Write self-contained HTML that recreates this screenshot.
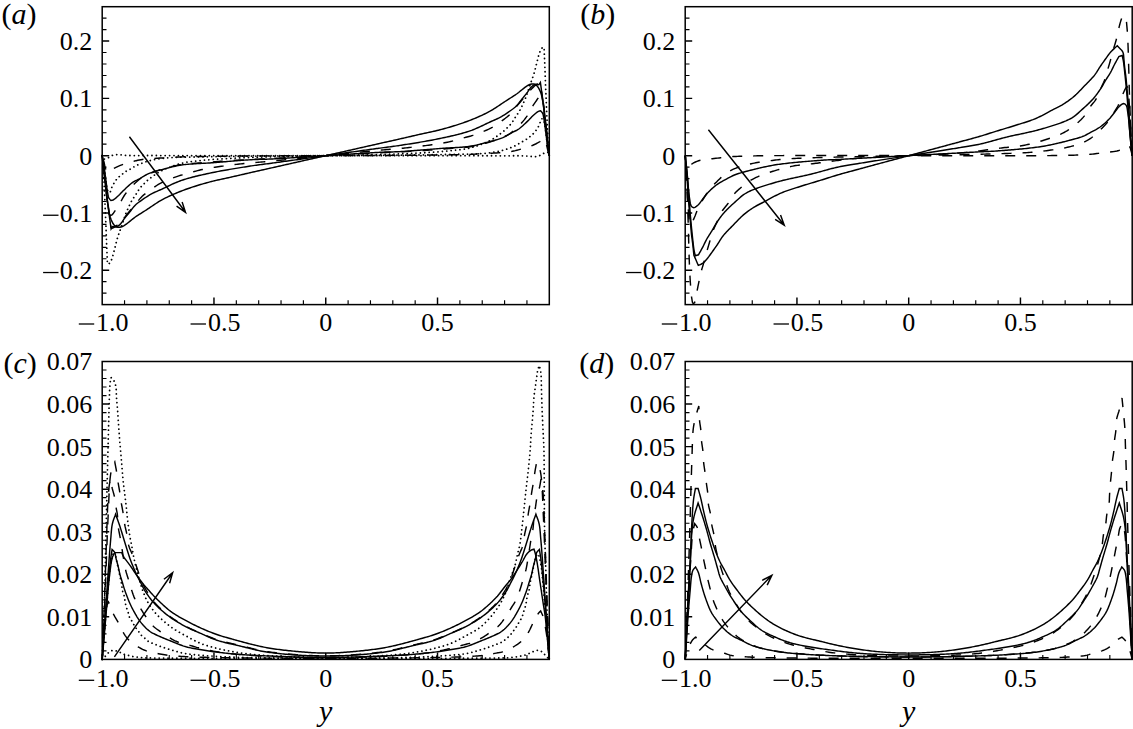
<!DOCTYPE html>
<html><head><meta charset="utf-8"><style>
html,body{margin:0;padding:0;background:#fff;}
svg{display:block;}
.t{font-family:"Liberation Serif",serif;font-size:26px;fill:#000;}
.pl{font-family:"Liberation Serif",serif;font-size:30px;fill:#000;}
.yl{font-family:"Liberation Serif",serif;font-size:30px;font-style:italic;fill:#000;}
</style></head><body>
<svg width="1133" height="729" viewBox="0 0 1133 729">
<path d="M124.55 304.60V300.30M146.91 304.60V300.30M169.26 304.60V300.30M191.62 304.60V300.30M236.33 304.60V300.30M258.69 304.60V300.30M281.04 304.60V300.30M303.39 304.60V300.30M348.11 304.60V300.30M370.46 304.60V300.30M392.81 304.60V300.30M415.17 304.60V300.30M459.88 304.60V300.30M482.23 304.60V300.30M504.59 304.60V300.30M526.94 304.60V300.30M102.20 293.14H106.50M102.20 281.68H106.50M102.20 258.77H106.50M102.20 247.31H106.50M102.20 235.85H106.50M102.20 224.40H106.50M102.20 201.48H106.50M102.20 190.02H106.50M102.20 178.57H106.50M102.20 167.11H106.50M102.20 144.19H106.50M102.20 132.73H106.50M102.20 121.28H106.50M102.20 109.82H106.50M102.20 86.90H106.50M102.20 75.45H106.50M102.20 63.99H106.50M102.20 52.53H106.50M102.20 29.62H106.50M102.20 18.16H106.50" stroke="#000" stroke-width="1.15" fill="none"/>
<path d="M213.97 304.60V297.60M325.75 304.60V297.60M437.52 304.60V297.60M102.20 270.23H109.20M102.20 212.94H109.20M102.20 155.65H109.20M102.20 98.36H109.20M102.20 41.07H109.20" stroke="#000" stroke-width="1.45" fill="none"/>
<rect x="102.20" y="6.70" width="447.10" height="297.90" stroke="#000" stroke-width="1.5" fill="none"/>
<text x="92.20" y="49.97" text-anchor="end" class="t">0.2</text>
<text x="92.20" y="107.26" text-anchor="end" class="t">0.1</text>
<text x="92.20" y="164.55" text-anchor="end" class="t">0</text>
<text x="92.20" y="221.84" text-anchor="end" class="t">0.1</text>
<path d="M43.10 215.24H58.50" stroke="#000" stroke-width="1.3"/>
<text x="92.20" y="279.13" text-anchor="end" class="t">0.2</text>
<path d="M43.10 272.53H58.50" stroke="#000" stroke-width="1.3"/>
<text x="96.10" y="330.60" class="t">1.0</text>
<path d="M78.80 324.00H94.20" stroke="#000" stroke-width="1.3"/>
<text x="207.88" y="330.60" class="t">0.5</text>
<path d="M190.57 324.00H205.97" stroke="#000" stroke-width="1.3"/>
<text x="325.75" y="330.60" text-anchor="middle" class="t">0</text>
<text x="437.52" y="330.60" text-anchor="middle" class="t">0.5</text>
<path d="M707.55 304.60V300.30M729.90 304.60V300.30M752.25 304.60V300.30M774.60 304.60V300.30M819.30 304.60V300.30M841.65 304.60V300.30M864.00 304.60V300.30M886.35 304.60V300.30M931.05 304.60V300.30M953.40 304.60V300.30M975.75 304.60V300.30M998.10 304.60V300.30M1042.80 304.60V300.30M1065.15 304.60V300.30M1087.50 304.60V300.30M1109.85 304.60V300.30M685.20 293.14H689.50M685.20 281.68H689.50M685.20 258.77H689.50M685.20 247.31H689.50M685.20 235.85H689.50M685.20 224.40H689.50M685.20 201.48H689.50M685.20 190.02H689.50M685.20 178.57H689.50M685.20 167.11H689.50M685.20 144.19H689.50M685.20 132.73H689.50M685.20 121.28H689.50M685.20 109.82H689.50M685.20 86.90H689.50M685.20 75.45H689.50M685.20 63.99H689.50M685.20 52.53H689.50M685.20 29.62H689.50M685.20 18.16H689.50" stroke="#000" stroke-width="1.15" fill="none"/>
<path d="M796.95 304.60V297.60M908.70 304.60V297.60M1020.45 304.60V297.60M685.20 270.23H692.20M685.20 212.94H692.20M685.20 155.65H692.20M685.20 98.36H692.20M685.20 41.07H692.20" stroke="#000" stroke-width="1.45" fill="none"/>
<rect x="685.20" y="6.70" width="447.00" height="297.90" stroke="#000" stroke-width="1.5" fill="none"/>
<text x="675.20" y="49.97" text-anchor="end" class="t">0.2</text>
<text x="675.20" y="107.26" text-anchor="end" class="t">0.1</text>
<text x="675.20" y="164.55" text-anchor="end" class="t">0</text>
<text x="675.20" y="221.84" text-anchor="end" class="t">0.1</text>
<path d="M626.10 215.24H641.50" stroke="#000" stroke-width="1.3"/>
<text x="675.20" y="279.13" text-anchor="end" class="t">0.2</text>
<path d="M626.10 272.53H641.50" stroke="#000" stroke-width="1.3"/>
<text x="679.10" y="330.60" class="t">1.0</text>
<path d="M661.80 324.00H677.20" stroke="#000" stroke-width="1.3"/>
<text x="790.85" y="330.60" class="t">0.5</text>
<path d="M773.55 324.00H788.95" stroke="#000" stroke-width="1.3"/>
<text x="908.70" y="330.60" text-anchor="middle" class="t">0</text>
<text x="1020.45" y="330.60" text-anchor="middle" class="t">0.5</text>
<path d="M124.55 659.40V655.10M146.91 659.40V655.10M169.26 659.40V655.10M191.62 659.40V655.10M236.33 659.40V655.10M258.69 659.40V655.10M281.04 659.40V655.10M303.39 659.40V655.10M348.11 659.40V655.10M370.46 659.40V655.10M392.81 659.40V655.10M415.17 659.40V655.10M459.88 659.40V655.10M482.23 659.40V655.10M504.59 659.40V655.10M526.94 659.40V655.10M102.20 650.89H106.50M102.20 642.38H106.50M102.20 633.87H106.50M102.20 625.35H106.50M102.20 608.33H106.50M102.20 599.82H106.50M102.20 591.31H106.50M102.20 582.80H106.50M102.20 565.77H106.50M102.20 557.26H106.50M102.20 548.75H106.50M102.20 540.24H106.50M102.20 523.22H106.50M102.20 514.71H106.50M102.20 506.19H106.50M102.20 497.68H106.50M102.20 480.66H106.50M102.20 472.15H106.50M102.20 463.64H106.50M102.20 455.13H106.50M102.20 438.10H106.50M102.20 429.59H106.50M102.20 421.08H106.50M102.20 412.57H106.50M102.20 395.55H106.50M102.20 387.03H106.50M102.20 378.52H106.50M102.20 370.01H106.50" stroke="#000" stroke-width="1.15" fill="none"/>
<path d="M213.97 659.40V652.40M325.75 659.40V652.40M437.52 659.40V652.40M102.20 616.84H109.20M102.20 574.29H109.20M102.20 531.73H109.20M102.20 489.17H109.20M102.20 446.61H109.20M102.20 404.06H109.20" stroke="#000" stroke-width="1.45" fill="none"/>
<rect x="102.20" y="361.50" width="447.10" height="297.90" stroke="#000" stroke-width="1.5" fill="none"/>
<text x="92.20" y="668.30" text-anchor="end" class="t">0</text>
<text x="92.20" y="625.74" text-anchor="end" class="t">0.01</text>
<text x="92.20" y="583.19" text-anchor="end" class="t">0.02</text>
<text x="92.20" y="540.63" text-anchor="end" class="t">0.03</text>
<text x="92.20" y="498.07" text-anchor="end" class="t">0.04</text>
<text x="92.20" y="455.51" text-anchor="end" class="t">0.05</text>
<text x="92.20" y="412.96" text-anchor="end" class="t">0.06</text>
<text x="92.20" y="370.40" text-anchor="end" class="t">0.07</text>
<text x="96.10" y="686.90" class="t">1.0</text>
<path d="M78.80 680.30H94.20" stroke="#000" stroke-width="1.3"/>
<text x="207.88" y="686.90" class="t">0.5</text>
<path d="M190.57 680.30H205.97" stroke="#000" stroke-width="1.3"/>
<text x="325.75" y="686.90" text-anchor="middle" class="t">0</text>
<text x="437.52" y="686.90" text-anchor="middle" class="t">0.5</text>
<path d="M707.55 659.40V655.10M729.90 659.40V655.10M752.25 659.40V655.10M774.60 659.40V655.10M819.30 659.40V655.10M841.65 659.40V655.10M864.00 659.40V655.10M886.35 659.40V655.10M931.05 659.40V655.10M953.40 659.40V655.10M975.75 659.40V655.10M998.10 659.40V655.10M1042.80 659.40V655.10M1065.15 659.40V655.10M1087.50 659.40V655.10M1109.85 659.40V655.10M685.20 650.89H689.50M685.20 642.38H689.50M685.20 633.87H689.50M685.20 625.35H689.50M685.20 608.33H689.50M685.20 599.82H689.50M685.20 591.31H689.50M685.20 582.80H689.50M685.20 565.77H689.50M685.20 557.26H689.50M685.20 548.75H689.50M685.20 540.24H689.50M685.20 523.22H689.50M685.20 514.71H689.50M685.20 506.19H689.50M685.20 497.68H689.50M685.20 480.66H689.50M685.20 472.15H689.50M685.20 463.64H689.50M685.20 455.13H689.50M685.20 438.10H689.50M685.20 429.59H689.50M685.20 421.08H689.50M685.20 412.57H689.50M685.20 395.55H689.50M685.20 387.03H689.50M685.20 378.52H689.50M685.20 370.01H689.50" stroke="#000" stroke-width="1.15" fill="none"/>
<path d="M796.95 659.40V652.40M908.70 659.40V652.40M1020.45 659.40V652.40M685.20 616.84H692.20M685.20 574.29H692.20M685.20 531.73H692.20M685.20 489.17H692.20M685.20 446.61H692.20M685.20 404.06H692.20" stroke="#000" stroke-width="1.45" fill="none"/>
<rect x="685.20" y="361.50" width="447.00" height="297.90" stroke="#000" stroke-width="1.5" fill="none"/>
<text x="675.20" y="668.30" text-anchor="end" class="t">0</text>
<text x="675.20" y="625.74" text-anchor="end" class="t">0.01</text>
<text x="675.20" y="583.19" text-anchor="end" class="t">0.02</text>
<text x="675.20" y="540.63" text-anchor="end" class="t">0.03</text>
<text x="675.20" y="498.07" text-anchor="end" class="t">0.04</text>
<text x="675.20" y="455.51" text-anchor="end" class="t">0.05</text>
<text x="675.20" y="412.96" text-anchor="end" class="t">0.06</text>
<text x="675.20" y="370.40" text-anchor="end" class="t">0.07</text>
<text x="679.10" y="686.90" class="t">1.0</text>
<path d="M661.80 680.30H677.20" stroke="#000" stroke-width="1.3"/>
<text x="790.85" y="686.90" class="t">0.5</text>
<path d="M773.55 680.30H788.95" stroke="#000" stroke-width="1.3"/>
<text x="908.70" y="686.90" text-anchor="middle" class="t">0</text>
<text x="1020.45" y="686.90" text-anchor="middle" class="t">0.5</text>
<text x="1.5" y="23.6" class="pl">(<tspan font-style="italic">a</tspan>)</text>
<text x="580.2" y="23.7" class="pl">(<tspan font-style="italic">b</tspan>)</text>
<text x="3.4" y="372.5" class="pl">(<tspan font-style="italic">c</tspan>)</text>
<text x="579.3" y="372.7" class="pl">(<tspan font-style="italic">d</tspan>)</text>
<text x="325.75" y="720.8" text-anchor="middle" class="yl">y</text>
<text x="908.70" y="720.8" text-anchor="middle" class="yl">y</text>
<path d="M102.20 155.65 L102.39 157.16 L102.57 158.66 L102.76 160.16 L102.94 161.66 L103.13 163.18 L103.32 164.72 L103.50 166.30 L103.68 167.86 L103.85 169.45 L104.02 171.06 L104.19 172.69 L104.37 174.33 L104.54 175.99 L104.72 177.64 L104.90 179.30 L105.07 180.84 L105.25 182.40 L105.42 183.97 L105.60 185.55 L105.78 187.12 L105.96 188.69 L106.14 190.25 L106.32 191.79 L106.50 193.30 L106.69 194.86 L106.88 196.41 L107.07 197.94 L107.26 199.47 L107.45 200.97 L107.64 202.44 L107.82 203.89 L108.00 205.30 L108.19 206.88 L108.38 208.42 L108.56 209.91 L108.74 211.39 L108.91 212.85 L109.10 214.30 L109.32 215.94 L109.54 217.57 L109.77 219.18 L109.99 220.76 L110.20 222.30 L110.43 223.99 L110.66 225.64 L110.88 227.26 L111.10 228.90 L111.90 227.70 L112.70 226.50 L114.39 226.82 L116.10 227.10 L117.99 227.33 L119.90 227.30 L121.78 226.75 L123.70 225.80 L125.11 224.93 L126.59 223.85 L128.08 222.70 L129.50 221.60 L130.66 220.67 L131.73 219.76 L132.86 218.82 L134.20 217.80 L135.29 217.03 L136.50 216.21 L137.81 215.35 L139.18 214.46 L140.62 213.55 L142.08 212.62 L143.57 211.68 L145.05 210.74 L146.50 209.80 L147.81 208.94 L149.13 208.06 L150.47 207.16 L151.82 206.24 L153.18 205.32 L154.56 204.40 L155.94 203.49 L157.33 202.60 L158.72 201.73 L160.11 200.90 L161.50 200.10 L162.84 199.37 L164.19 198.66 L165.55 197.97 L166.90 197.30 L168.27 196.64 L169.63 196.01 L171.00 195.39 L172.37 194.77 L173.75 194.18 L175.12 193.58 L176.50 193.00 L177.98 192.38 L179.45 191.79 L180.91 191.21 L182.37 190.64 L183.84 190.09 L185.32 189.55 L186.82 189.01 L188.34 188.47 L189.90 187.94 L191.50 187.40 L192.94 186.93 L194.41 186.45 L195.90 185.97 L197.42 185.50 L198.96 185.03 L200.52 184.56 L202.08 184.10 L203.66 183.65 L205.23 183.20 L206.81 182.76 L208.38 182.33 L209.95 181.91 L211.50 181.50 L213.03 181.11 L214.57 180.73 L216.10 180.37 L217.64 180.02 L219.18 179.68 L220.72 179.34 L222.26 179.01 L223.80 178.68 L225.34 178.35 L226.88 178.02 L228.42 177.68 L229.96 177.35 L231.50 177.00 L233.04 176.65 L234.58 176.30 L236.12 175.94 L237.65 175.59 L239.19 175.23 L240.73 174.88 L242.27 174.52 L243.81 174.17 L245.35 173.81 L246.88 173.46 L248.42 173.10 L249.96 172.75 L251.50 172.40 L253.03 172.05 L254.54 171.71 L256.03 171.37 L257.52 171.04 L259.01 170.70 L260.50 170.37 L262.00 170.03 L263.51 169.69 L265.05 169.35 L266.61 169.00 L268.20 168.64 L269.83 168.28 L271.50 167.90 L272.87 167.59 L274.27 167.28 L275.70 166.95 L277.16 166.62 L278.65 166.29 L280.16 165.95 L281.68 165.60 L283.22 165.25 L284.77 164.90 L286.32 164.55 L287.88 164.20 L289.44 163.85 L290.99 163.49 L292.54 163.14 L294.08 162.80 L295.61 162.45 L297.11 162.11 L298.60 161.77 L300.06 161.44 L301.50 161.12 L303.09 160.76 L304.65 160.41 L306.21 160.06 L307.74 159.71 L309.27 159.37 L310.78 159.03 L312.29 158.69 L313.79 158.35 L315.28 158.01 L316.77 157.68 L318.26 157.34 L319.75 157.00 L321.24 156.67 L322.74 156.33 L324.24 155.99 L325.75 155.65 L327.26 155.31 L328.76 154.97 L330.26 154.63 L331.75 154.30 L333.24 153.96 L334.73 153.62 L336.22 153.29 L337.71 152.95 L339.21 152.61 L340.72 152.27 L342.23 151.93 L343.76 151.59 L345.29 151.24 L346.85 150.89 L348.41 150.54 L350.00 150.18 L351.44 149.86 L352.90 149.53 L354.39 149.19 L355.89 148.85 L357.42 148.50 L358.96 148.16 L360.51 147.81 L362.06 147.45 L363.62 147.10 L365.18 146.75 L366.73 146.40 L368.28 146.05 L369.82 145.70 L371.34 145.35 L372.85 145.01 L374.34 144.68 L375.80 144.35 L377.23 144.02 L378.63 143.71 L380.00 143.40 L381.67 143.02 L383.30 142.66 L384.89 142.30 L386.45 141.95 L387.99 141.61 L389.50 141.27 L391.00 140.93 L392.49 140.60 L393.98 140.26 L395.47 139.93 L396.96 139.59 L398.47 139.25 L400.00 138.90 L401.54 138.55 L403.08 138.20 L404.62 137.84 L406.15 137.49 L407.69 137.13 L409.23 136.78 L410.77 136.42 L412.31 136.07 L413.85 135.71 L415.38 135.36 L416.92 135.00 L418.46 134.65 L420.00 134.30 L421.54 133.95 L423.08 133.62 L424.62 133.28 L426.16 132.95 L427.70 132.62 L429.24 132.29 L430.78 131.96 L432.32 131.62 L433.86 131.28 L435.40 130.93 L436.93 130.57 L438.47 130.19 L440.00 129.80 L441.55 129.39 L443.12 128.97 L444.69 128.54 L446.27 128.10 L447.84 127.65 L449.42 127.20 L450.98 126.74 L452.54 126.27 L454.08 125.80 L455.60 125.33 L457.09 124.85 L458.56 124.37 L460.00 123.90 L461.60 123.36 L463.16 122.83 L464.68 122.29 L466.18 121.75 L467.66 121.21 L469.13 120.66 L470.59 120.09 L472.05 119.51 L473.52 118.92 L475.00 118.30 L476.38 117.72 L477.75 117.12 L479.13 116.53 L480.50 115.91 L481.87 115.29 L483.23 114.66 L484.60 114.00 L485.95 113.33 L487.31 112.64 L488.66 111.93 L490.00 111.20 L491.39 110.40 L492.78 109.57 L494.17 108.70 L495.56 107.81 L496.94 106.90 L498.32 105.98 L499.68 105.06 L501.03 104.14 L502.37 103.24 L503.69 102.36 L505.00 101.50 L506.45 100.56 L507.93 99.62 L509.42 98.68 L510.88 97.75 L512.32 96.84 L513.69 95.95 L515.00 95.09 L516.21 94.27 L517.30 93.50 L518.64 92.48 L519.77 91.54 L520.84 90.63 L522.00 89.70 L523.42 88.60 L524.91 87.45 L526.39 86.37 L527.80 85.50 L529.72 84.55 L531.60 84.00 L533.51 83.97 L535.40 84.20 L537.11 84.48 L538.80 84.80 L539.60 83.60 L540.40 82.40 L540.62 84.04 L540.84 85.66 L541.07 87.31 L541.30 89.00 L541.51 90.54 L541.73 92.12 L541.96 93.73 L542.18 95.36 L542.40 97.00 L542.59 98.45 L542.76 99.91 L542.94 101.39 L543.12 102.88 L543.31 104.42 L543.50 106.00 L543.68 107.41 L543.86 108.86 L544.05 110.33 L544.24 111.83 L544.43 113.36 L544.62 114.89 L544.81 116.44 L545.00 118.00 L545.18 119.51 L545.36 121.05 L545.54 122.61 L545.72 124.18 L545.90 125.75 L546.08 127.33 L546.25 128.90 L546.43 130.46 L546.60 132.00 L546.78 133.66 L546.96 135.31 L547.13 136.97 L547.31 138.61 L547.48 140.24 L547.65 141.85 L547.82 143.44 L548.00 145.00 L548.18 146.58 L548.37 148.12 L548.56 149.64 L548.74 151.14 L548.93 152.64 L549.11 154.14 L549.30 155.65" fill="none" stroke="#000" stroke-width="1.45"/>
<path d="M102.20 155.65 L102.40 157.36 L102.59 159.06 L102.79 160.77 L102.99 162.50 L103.20 164.30 L103.38 165.79 L103.56 167.31 L103.74 168.85 L103.93 170.42 L104.12 172.02 L104.31 173.65 L104.50 175.30 L104.66 176.79 L104.83 178.32 L104.99 179.88 L105.16 181.47 L105.32 183.06 L105.49 184.65 L105.66 186.23 L105.83 187.78 L106.00 189.30 L106.18 190.85 L106.36 192.38 L106.55 193.89 L106.73 195.39 L106.92 196.88 L107.11 198.36 L107.30 199.83 L107.50 201.30 L107.72 202.94 L107.94 204.61 L108.16 206.28 L108.39 207.92 L108.62 209.49 L108.86 210.96 L109.10 212.30 L109.48 214.14 L109.86 215.76 L110.30 217.30 L110.98 219.30 L111.80 221.20 L112.84 223.25 L114.10 225.00 L115.40 226.04 L116.80 226.50 L118.33 225.91 L119.90 224.60 L120.90 223.53 L121.92 222.18 L122.95 220.69 L123.98 219.18 L125.00 217.80 L126.13 216.39 L127.23 215.05 L128.35 213.70 L129.50 212.30 L130.55 210.95 L131.60 209.52 L132.69 208.08 L133.81 206.69 L135.00 205.40 L136.20 204.28 L137.44 203.26 L138.72 202.28 L140.07 201.31 L141.50 200.30 L142.80 199.39 L144.17 198.45 L145.60 197.49 L147.06 196.54 L148.54 195.62 L150.03 194.73 L151.50 193.90 L152.88 193.17 L154.23 192.52 L155.58 191.90 L156.95 191.29 L158.38 190.67 L159.89 190.02 L161.50 189.30 L162.70 188.75 L163.95 188.16 L165.24 187.54 L166.57 186.90 L167.94 186.24 L169.34 185.56 L170.77 184.88 L172.23 184.20 L173.72 183.53 L175.24 182.86 L176.77 182.21 L178.33 181.58 L179.91 180.97 L181.50 180.40 L182.84 179.95 L184.21 179.50 L185.59 179.07 L186.99 178.65 L188.42 178.24 L189.86 177.84 L191.32 177.44 L192.79 177.06 L194.28 176.68 L195.79 176.31 L197.31 175.94 L198.84 175.58 L200.39 175.22 L201.95 174.87 L203.52 174.52 L205.10 174.17 L206.69 173.83 L208.28 173.49 L209.89 173.14 L211.50 172.80 L212.89 172.51 L214.31 172.22 L215.75 171.93 L217.23 171.64 L218.73 171.35 L220.25 171.07 L221.78 170.78 L223.33 170.50 L224.89 170.22 L226.46 169.95 L228.04 169.67 L229.61 169.40 L231.19 169.14 L232.76 168.87 L234.33 168.61 L235.88 168.36 L237.43 168.11 L238.95 167.86 L240.46 167.62 L241.95 167.38 L243.41 167.15 L244.85 166.93 L246.25 166.71 L247.62 166.50 L248.96 166.29 L250.25 166.09 L251.50 165.90 L253.23 165.64 L254.85 165.40 L256.38 165.18 L257.83 164.98 L259.24 164.80 L260.62 164.62 L262.00 164.44 L263.41 164.26 L264.85 164.08 L266.36 163.88 L267.95 163.68 L269.66 163.45 L271.50 163.20 L272.66 163.04 L273.86 162.88 L275.09 162.71 L276.36 162.53 L277.67 162.35 L279.01 162.17 L280.38 161.98 L281.77 161.78 L283.20 161.58 L284.65 161.38 L286.12 161.18 L287.62 160.97 L289.14 160.76 L290.67 160.54 L292.22 160.33 L293.79 160.11 L295.37 159.89 L296.97 159.67 L298.57 159.44 L300.18 159.22 L301.80 158.99 L303.43 158.76 L305.06 158.54 L306.68 158.31 L308.31 158.08 L309.94 157.85 L311.57 157.63 L313.19 157.40 L314.80 157.18 L316.40 156.95 L318.00 156.73 L319.58 156.51 L321.14 156.29 L322.70 156.08 L324.23 155.86 L325.75 155.65 L327.27 155.44 L328.80 155.22 L330.36 155.01 L331.92 154.79 L333.50 154.57 L335.10 154.35 L336.70 154.12 L338.31 153.90 L339.93 153.67 L341.56 153.45 L343.19 153.22 L344.82 152.99 L346.44 152.76 L348.07 152.54 L349.70 152.31 L351.32 152.08 L352.93 151.86 L354.53 151.63 L356.13 151.41 L357.71 151.19 L359.28 150.97 L360.83 150.76 L362.36 150.54 L363.88 150.33 L365.38 150.12 L366.85 149.92 L368.30 149.72 L369.73 149.52 L371.12 149.32 L372.49 149.13 L373.83 148.95 L375.14 148.77 L376.41 148.59 L377.64 148.42 L378.84 148.26 L380.00 148.10 L381.84 147.85 L383.55 147.62 L385.14 147.42 L386.65 147.22 L388.09 147.04 L389.50 146.86 L390.88 146.68 L392.26 146.50 L393.67 146.32 L395.12 146.12 L396.65 145.90 L398.27 145.66 L400.00 145.40 L401.25 145.21 L402.54 145.01 L403.88 144.80 L405.25 144.59 L406.65 144.37 L408.09 144.15 L409.55 143.92 L411.04 143.68 L412.55 143.44 L414.07 143.19 L415.62 142.94 L417.17 142.69 L418.74 142.43 L420.31 142.16 L421.89 141.90 L423.46 141.63 L425.04 141.35 L426.61 141.08 L428.17 140.80 L429.72 140.52 L431.25 140.23 L432.77 139.95 L434.27 139.66 L435.75 139.37 L437.19 139.08 L438.61 138.79 L440.00 138.50 L441.61 138.16 L443.22 137.81 L444.81 137.47 L446.40 137.13 L447.98 136.78 L449.55 136.43 L451.11 136.08 L452.66 135.72 L454.19 135.36 L455.71 134.99 L457.22 134.62 L458.71 134.24 L460.18 133.86 L461.64 133.46 L463.08 133.06 L464.51 132.65 L465.91 132.23 L467.29 131.80 L468.66 131.35 L470.00 130.90 L471.59 130.33 L473.17 129.72 L474.73 129.09 L476.26 128.44 L477.78 127.77 L479.27 127.10 L480.73 126.42 L482.16 125.74 L483.56 125.06 L484.93 124.40 L486.26 123.76 L487.55 123.14 L488.80 122.55 L490.00 122.00 L491.61 121.28 L493.12 120.63 L494.55 120.01 L495.92 119.40 L497.27 118.78 L498.62 118.13 L500.00 117.40 L501.47 116.57 L502.96 115.68 L504.44 114.76 L505.90 113.81 L507.33 112.85 L508.70 111.91 L510.00 111.00 L511.43 109.99 L512.78 109.02 L514.06 108.04 L515.30 107.02 L516.50 105.90 L517.69 104.61 L518.81 103.22 L519.90 101.78 L520.95 100.35 L522.00 99.00 L523.15 97.60 L524.27 96.25 L525.37 94.91 L526.50 93.50 L527.52 92.12 L528.55 90.61 L529.58 89.12 L530.60 87.77 L531.60 86.70 L533.17 85.39 L534.70 84.80 L536.10 85.26 L537.40 86.30 L538.66 88.05 L539.70 90.10 L540.52 92.00 L541.20 94.00 L541.64 95.54 L542.02 97.16 L542.40 99.00 L542.64 100.34 L542.88 101.81 L543.11 103.38 L543.34 105.02 L543.56 106.69 L543.78 108.36 L544.00 110.00 L544.20 111.47 L544.39 112.94 L544.58 114.42 L544.77 115.91 L544.95 117.41 L545.14 118.92 L545.32 120.45 L545.50 122.00 L545.67 123.52 L545.84 125.07 L546.01 126.65 L546.18 128.24 L546.34 129.83 L546.51 131.42 L546.67 132.98 L546.84 134.51 L547.00 136.00 L547.19 137.65 L547.38 139.28 L547.57 140.88 L547.76 142.45 L547.94 143.99 L548.12 145.51 L548.30 147.00 L548.51 148.80 L548.71 150.53 L548.91 152.24 L549.10 153.94 L549.30 155.65" fill="none" stroke="#000" stroke-width="1.45"/>
<path d="M102.20 155.65 L102.40 157.16 L102.60 158.65 L102.80 160.14 L103.00 161.63 L103.20 163.13 L103.40 164.64 L103.60 166.17 L103.80 167.72 L104.00 169.30 L104.18 170.77 L104.36 172.28 L104.55 173.80 L104.73 175.34 L104.91 176.90 L105.09 178.47 L105.27 180.04 L105.45 181.61 L105.64 183.18 L105.82 184.75 L106.00 186.30 L106.18 187.85 L106.37 189.42 L106.55 191.00 L106.74 192.58 L106.93 194.16 L107.11 195.73 L107.30 197.29 L107.48 198.83 L107.65 200.35 L107.83 201.84 L108.00 203.30 L108.20 205.02 L108.39 206.73 L108.58 208.41 L108.77 210.06 L108.95 211.68 L109.13 213.26 L109.32 214.80 L109.50 216.30 L109.70 217.95 L109.88 219.61 L110.06 221.21 L110.26 222.73 L110.46 224.10 L110.70 225.30 L111.06 227.17 L111.70 228.30 L113.20 227.94 L115.00 226.80 L116.11 225.98 L117.23 225.00 L118.37 223.92 L119.50 222.80 L120.75 221.51 L122.01 220.14 L123.26 218.73 L124.50 217.30 L125.50 216.13 L126.50 214.94 L127.49 213.73 L128.49 212.52 L129.50 211.30 L130.57 210.03 L131.64 208.76 L132.73 207.47 L133.85 206.16 L135.00 204.80 L135.97 203.63 L136.95 202.40 L137.95 201.13 L138.97 199.86 L140.02 198.62 L141.09 197.42 L142.20 196.30 L143.49 195.14 L144.82 194.05 L146.19 193.01 L147.58 192.01 L148.99 191.01 L150.40 190.00 L151.64 189.09 L152.89 188.18 L154.15 187.26 L155.42 186.37 L156.70 185.50 L158.00 184.67 L159.30 183.90 L160.76 183.11 L162.23 182.39 L163.72 181.72 L165.22 181.07 L166.75 180.44 L168.30 179.80 L169.78 179.20 L171.32 178.59 L172.90 177.99 L174.47 177.41 L176.00 176.86 L177.45 176.35 L178.80 175.90 L180.69 175.32 L182.41 174.86 L184.50 174.30 L185.62 173.99 L186.85 173.64 L188.19 173.26 L189.62 172.85 L191.12 172.42 L192.68 171.98 L194.28 171.53 L195.92 171.08 L197.57 170.65 L199.21 170.22 L200.84 169.82 L202.44 169.44 L204.00 169.10 L205.55 168.78 L207.11 168.49 L208.67 168.20 L210.24 167.94 L211.82 167.68 L213.40 167.44 L214.98 167.21 L216.56 166.98 L218.15 166.76 L219.73 166.55 L221.32 166.33 L222.91 166.12 L224.50 165.90 L225.99 165.70 L227.46 165.50 L228.94 165.31 L230.41 165.12 L231.88 164.94 L233.36 164.76 L234.84 164.58 L236.32 164.40 L237.82 164.23 L239.33 164.06 L240.84 163.90 L242.38 163.73 L243.93 163.56 L245.50 163.40 L246.94 163.25 L248.37 163.11 L249.80 162.98 L251.22 162.85 L252.65 162.72 L254.09 162.60 L255.54 162.48 L257.00 162.36 L258.48 162.23 L259.98 162.11 L261.51 161.98 L263.08 161.85 L264.67 161.71 L266.31 161.57 L267.99 161.42 L269.72 161.27 L271.50 161.10 L272.75 160.98 L274.03 160.86 L275.33 160.73 L276.66 160.60 L278.02 160.47 L279.40 160.34 L280.81 160.20 L282.23 160.06 L283.68 159.91 L285.14 159.77 L286.62 159.62 L288.12 159.47 L289.64 159.32 L291.17 159.16 L292.71 159.01 L294.26 158.85 L295.82 158.69 L297.39 158.53 L298.97 158.37 L300.56 158.21 L302.15 158.05 L303.74 157.89 L305.34 157.72 L306.94 157.56 L308.53 157.40 L310.13 157.23 L311.73 157.07 L313.32 156.91 L314.90 156.75 L316.48 156.59 L318.05 156.43 L319.61 156.27 L321.17 156.11 L322.71 155.96 L324.24 155.80 L325.75 155.65 L327.26 155.50 L328.79 155.34 L330.33 155.19 L331.89 155.03 L333.45 154.87 L335.02 154.71 L336.60 154.55 L338.18 154.39 L339.77 154.23 L341.37 154.07 L342.97 153.90 L344.56 153.74 L346.16 153.58 L347.76 153.41 L349.35 153.25 L350.94 153.09 L352.53 152.93 L354.11 152.77 L355.68 152.61 L357.24 152.45 L358.79 152.29 L360.33 152.14 L361.86 151.98 L363.38 151.83 L364.88 151.68 L366.36 151.53 L367.82 151.39 L369.27 151.24 L370.69 151.10 L372.10 150.96 L373.48 150.83 L374.84 150.70 L376.17 150.57 L377.47 150.44 L378.75 150.32 L380.00 150.20 L381.78 150.03 L383.51 149.88 L385.19 149.73 L386.83 149.59 L388.42 149.45 L389.99 149.32 L391.52 149.19 L393.02 149.07 L394.50 148.94 L395.96 148.82 L397.41 148.70 L398.85 148.58 L400.28 148.45 L401.70 148.32 L403.13 148.19 L404.56 148.05 L406.00 147.90 L407.57 147.74 L409.12 147.57 L410.66 147.40 L412.17 147.24 L413.68 147.07 L415.18 146.90 L416.66 146.72 L418.14 146.54 L419.62 146.36 L421.09 146.18 L422.56 145.99 L424.04 145.80 L425.51 145.60 L427.00 145.40 L428.59 145.18 L430.18 144.97 L431.77 144.75 L433.35 144.54 L434.94 144.32 L436.52 144.09 L438.10 143.86 L439.68 143.62 L441.26 143.36 L442.83 143.10 L444.39 142.81 L445.95 142.52 L447.50 142.20 L449.06 141.86 L450.66 141.48 L452.29 141.08 L453.93 140.65 L455.58 140.22 L457.22 139.77 L458.82 139.32 L460.38 138.88 L461.88 138.45 L463.31 138.04 L464.65 137.66 L465.88 137.31 L467.00 137.00 L469.09 136.44 L470.81 135.98 L472.70 135.40 L474.05 134.95 L475.50 134.44 L477.03 133.89 L478.60 133.31 L480.18 132.71 L481.72 132.10 L483.20 131.50 L484.75 130.86 L486.28 130.23 L487.78 129.58 L489.27 128.91 L490.74 128.19 L492.20 127.40 L493.50 126.63 L494.80 125.80 L496.08 124.93 L497.35 124.04 L498.61 123.12 L499.86 122.21 L501.10 121.30 L502.51 120.29 L503.92 119.29 L505.31 118.29 L506.68 117.25 L508.01 116.16 L509.30 115.00 L510.41 113.88 L511.48 112.68 L512.53 111.44 L513.55 110.17 L514.55 108.90 L515.53 107.67 L516.50 106.50 L517.65 105.14 L518.77 103.83 L519.86 102.54 L520.93 101.27 L522.00 100.00 L523.01 98.78 L524.01 97.57 L525.00 96.36 L526.00 95.17 L527.00 94.00 L528.24 92.57 L529.49 91.16 L530.75 89.79 L532.00 88.50 L533.13 87.38 L534.27 86.30 L535.39 85.32 L536.50 84.50 L538.30 83.36 L539.80 83.00 L540.44 84.13 L540.80 86.00 L541.04 87.20 L541.24 88.57 L541.44 90.09 L541.62 91.69 L541.80 93.35 L542.00 95.00 L542.18 96.50 L542.37 98.04 L542.55 99.62 L542.73 101.24 L542.92 102.89 L543.11 104.57 L543.30 106.28 L543.50 108.00 L543.67 109.46 L543.85 110.95 L544.02 112.47 L544.20 114.01 L544.39 115.57 L544.57 117.14 L544.76 118.72 L544.95 120.30 L545.13 121.88 L545.32 123.45 L545.50 125.00 L545.68 126.55 L545.86 128.12 L546.05 129.69 L546.23 131.26 L546.41 132.83 L546.59 134.40 L546.77 135.96 L546.95 137.50 L547.14 139.02 L547.32 140.53 L547.50 142.00 L547.70 143.58 L547.90 145.13 L548.10 146.66 L548.30 148.17 L548.50 149.67 L548.70 151.16 L548.90 152.65 L549.10 154.14 L549.30 155.65" fill="none" stroke="#000" stroke-width="1.45" stroke-dasharray="10 11" stroke-dashoffset="13.83"/>
<path d="M102.20 155.65 L102.51 157.16 L102.82 158.66 L103.12 160.16 L103.42 161.70 L103.70 163.30 L103.94 164.89 L104.17 166.53 L104.38 168.21 L104.58 169.92 L104.79 171.62 L105.00 173.30 L105.22 174.97 L105.43 176.64 L105.64 178.30 L105.86 179.97 L106.08 181.64 L106.30 183.30 L106.52 184.99 L106.75 186.73 L106.97 188.47 L107.20 190.16 L107.45 191.75 L107.70 193.20 L108.03 195.04 L108.38 196.69 L108.90 198.10 L109.84 199.38 L110.90 200.50 L111.96 200.34 L113.10 200.00 L114.34 199.22 L115.74 198.09 L117.20 196.79 L118.60 195.50 L119.69 194.45 L120.74 193.36 L121.79 192.24 L122.90 191.08 L124.10 189.90 L125.15 188.91 L126.28 187.84 L127.48 186.72 L128.70 185.60 L129.94 184.51 L131.15 183.49 L132.31 182.58 L133.40 181.80 L135.18 180.79 L136.85 180.06 L138.70 179.20 L139.93 178.52 L141.22 177.75 L142.57 176.93 L143.99 176.08 L145.46 175.24 L147.00 174.43 L148.60 173.70 L149.91 173.17 L151.30 172.67 L152.73 172.19 L154.21 171.72 L155.73 171.27 L157.27 170.84 L158.83 170.42 L160.39 170.00 L161.94 169.60 L163.48 169.20 L165.00 168.80 L166.47 168.41 L167.92 168.02 L169.35 167.64 L170.77 167.26 L172.20 166.90 L173.64 166.54 L175.11 166.20 L176.62 165.87 L178.18 165.56 L179.81 165.27 L181.50 165.00 L182.79 164.82 L184.11 164.65 L185.46 164.50 L186.85 164.36 L188.26 164.23 L189.69 164.11 L191.15 164.01 L192.63 163.91 L194.14 163.81 L195.66 163.72 L197.20 163.64 L198.75 163.56 L200.32 163.47 L201.90 163.39 L203.48 163.30 L205.08 163.22 L206.68 163.12 L208.28 163.02 L209.89 162.92 L211.50 162.80 L212.95 162.69 L214.43 162.57 L215.94 162.45 L217.47 162.33 L219.04 162.20 L220.62 162.07 L222.22 161.94 L223.83 161.81 L225.46 161.67 L227.09 161.54 L228.73 161.40 L230.36 161.27 L232.00 161.13 L233.63 161.00 L235.24 160.87 L236.85 160.74 L238.44 160.61 L240.01 160.49 L241.56 160.37 L243.09 160.26 L244.58 160.15 L246.04 160.05 L247.47 159.95 L248.86 159.86 L250.20 159.78 L251.50 159.70 L253.24 159.61 L254.86 159.53 L256.38 159.47 L257.84 159.43 L259.25 159.39 L260.63 159.35 L262.01 159.32 L263.41 159.29 L264.85 159.25 L266.36 159.21 L267.95 159.15 L269.66 159.08 L271.50 159.00 L272.66 158.94 L273.86 158.88 L275.09 158.82 L276.36 158.75 L277.67 158.68 L279.01 158.60 L280.38 158.52 L281.77 158.44 L283.20 158.35 L284.65 158.27 L286.12 158.18 L287.62 158.09 L289.14 157.99 L290.67 157.90 L292.23 157.80 L293.79 157.70 L295.38 157.60 L296.97 157.50 L298.57 157.39 L300.18 157.29 L301.80 157.18 L303.43 157.08 L305.06 156.97 L306.69 156.87 L308.31 156.76 L309.94 156.66 L311.57 156.55 L313.19 156.45 L314.80 156.34 L316.40 156.24 L318.00 156.14 L319.58 156.04 L321.14 155.94 L322.70 155.84 L324.23 155.74 L325.75 155.65 L327.27 155.56 L328.80 155.46 L330.36 155.36 L331.92 155.26 L333.50 155.16 L335.10 155.06 L336.70 154.96 L338.31 154.85 L339.93 154.75 L341.56 154.64 L343.19 154.54 L344.81 154.43 L346.44 154.33 L348.07 154.22 L349.70 154.12 L351.32 154.01 L352.93 153.91 L354.53 153.80 L356.12 153.70 L357.71 153.60 L359.27 153.50 L360.83 153.40 L362.36 153.31 L363.88 153.21 L365.38 153.12 L366.85 153.03 L368.30 152.95 L369.73 152.86 L371.12 152.78 L372.49 152.70 L373.83 152.62 L375.14 152.55 L376.41 152.48 L377.64 152.42 L378.84 152.36 L380.00 152.30 L381.84 152.22 L383.55 152.15 L385.14 152.09 L386.65 152.05 L388.09 152.01 L389.49 151.98 L390.87 151.95 L392.25 151.91 L393.66 151.87 L395.12 151.83 L396.64 151.77 L398.26 151.69 L400.00 151.60 L401.30 151.52 L402.64 151.44 L404.03 151.35 L405.46 151.25 L406.92 151.15 L408.41 151.04 L409.94 150.93 L411.49 150.81 L413.06 150.69 L414.65 150.56 L416.26 150.43 L417.87 150.30 L419.50 150.17 L421.14 150.03 L422.77 149.90 L424.41 149.76 L426.04 149.63 L427.67 149.49 L429.28 149.36 L430.88 149.23 L432.46 149.10 L434.03 148.97 L435.56 148.85 L437.07 148.73 L438.55 148.61 L440.00 148.50 L441.61 148.38 L443.22 148.28 L444.82 148.18 L446.42 148.08 L448.02 148.00 L449.60 147.91 L451.18 147.83 L452.75 147.74 L454.30 147.66 L455.84 147.58 L457.36 147.49 L458.87 147.39 L460.35 147.29 L461.81 147.19 L463.24 147.07 L464.65 146.94 L466.04 146.80 L467.39 146.65 L468.71 146.48 L470.00 146.30 L471.69 146.03 L473.32 145.74 L474.88 145.43 L476.39 145.10 L477.86 144.76 L479.30 144.40 L480.73 144.04 L482.15 143.66 L483.58 143.28 L485.03 142.89 L486.50 142.50 L488.02 142.10 L489.56 141.70 L491.11 141.30 L492.67 140.88 L494.23 140.46 L495.77 140.03 L497.29 139.58 L498.77 139.11 L500.20 138.63 L501.59 138.13 L502.90 137.60 L504.50 136.87 L506.04 136.06 L507.51 135.22 L508.93 134.37 L510.28 133.55 L511.57 132.78 L512.80 132.10 L514.65 131.24 L516.32 130.51 L518.10 129.50 L519.19 128.72 L520.35 127.81 L521.56 126.79 L522.80 125.70 L524.02 124.58 L525.22 123.46 L526.35 122.39 L527.40 121.40 L528.60 120.22 L529.71 119.06 L530.76 117.94 L531.81 116.85 L532.90 115.80 L534.30 114.51 L535.76 113.21 L537.16 112.08 L538.40 111.30 L539.54 110.96 L540.60 110.80 L541.66 111.92 L542.60 113.20 L543.12 114.61 L543.47 116.26 L543.80 118.10 L544.05 119.55 L544.30 121.14 L544.53 122.83 L544.75 124.57 L544.98 126.31 L545.20 128.00 L545.42 129.66 L545.64 131.33 L545.86 133.00 L546.07 134.66 L546.28 136.33 L546.50 138.00 L546.71 139.68 L546.92 141.38 L547.12 143.09 L547.33 144.77 L547.56 146.41 L547.80 148.00 L548.08 149.60 L548.38 151.14 L548.68 152.64 L548.99 154.14 L549.30 155.65" fill="none" stroke="#000" stroke-width="1.45"/>
<path d="M102.20 155.65 L102.38 157.16 L102.56 158.66 L102.73 160.16 L102.91 161.66 L103.09 163.16 L103.27 164.67 L103.45 166.19 L103.62 167.74 L103.80 169.30 L103.97 170.85 L104.14 172.44 L104.32 174.04 L104.49 175.66 L104.66 177.29 L104.83 178.92 L105.00 180.54 L105.17 182.15 L105.33 183.74 L105.50 185.30 L105.67 186.91 L105.84 188.51 L106.00 190.10 L106.16 191.68 L106.32 193.25 L106.49 194.79 L106.65 196.32 L106.83 197.82 L107.00 199.30 L107.20 200.98 L107.39 202.67 L107.59 204.34 L107.79 205.96 L108.01 207.52 L108.24 208.97 L108.50 210.30 L108.90 212.38 L109.33 214.24 L110.00 215.30 L110.95 215.33 L112.00 214.80 L113.00 213.79 L113.98 212.34 L115.00 210.80 L115.98 209.43 L117.01 207.98 L118.05 206.44 L119.10 204.80 L119.82 203.58 L120.53 202.27 L121.25 200.90 L121.98 199.51 L122.72 198.13 L123.49 196.78 L124.30 195.50 L125.26 194.12 L126.26 192.77 L127.29 191.45 L128.34 190.18 L129.38 188.95 L130.40 187.80 L131.67 186.44 L132.92 185.20 L134.18 184.00 L135.50 182.80 L136.62 181.77 L137.75 180.75 L138.91 179.73 L140.15 178.75 L141.50 177.80 L142.75 177.02 L144.08 176.27 L145.47 175.53 L146.92 174.82 L148.42 174.13 L149.95 173.46 L151.50 172.80 L152.89 172.24 L154.31 171.70 L155.77 171.17 L157.25 170.66 L158.76 170.17 L160.30 169.68 L161.85 169.21 L163.42 168.75 L165.00 168.30 L166.42 167.90 L167.86 167.51 L169.32 167.12 L170.79 166.74 L172.27 166.37 L173.77 166.02 L175.29 165.68 L176.82 165.35 L178.37 165.04 L179.93 164.76 L181.50 164.50 L182.96 164.29 L184.42 164.10 L185.89 163.94 L187.36 163.79 L188.85 163.67 L190.36 163.55 L191.88 163.45 L193.42 163.35 L194.98 163.25 L196.56 163.15 L198.18 163.04 L199.82 162.93 L201.50 162.80 L202.86 162.69 L204.23 162.58 L205.63 162.46 L207.04 162.35 L208.47 162.23 L209.92 162.11 L211.38 161.99 L212.85 161.87 L214.35 161.75 L215.85 161.63 L217.37 161.51 L218.90 161.39 L220.44 161.28 L221.99 161.16 L223.55 161.04 L225.13 160.93 L226.71 160.82 L228.30 160.71 L229.89 160.60 L231.50 160.50 L232.93 160.41 L234.37 160.32 L235.82 160.24 L237.28 160.16 L238.74 160.08 L240.21 160.00 L241.69 159.92 L243.18 159.85 L244.68 159.77 L246.19 159.70 L247.70 159.63 L249.23 159.55 L250.76 159.48 L252.30 159.41 L253.85 159.34 L255.41 159.27 L256.98 159.20 L258.55 159.12 L260.14 159.05 L261.74 158.98 L263.34 158.90 L264.95 158.82 L266.58 158.75 L268.21 158.67 L269.85 158.58 L271.50 158.50 L272.90 158.43 L274.31 158.36 L275.73 158.28 L277.17 158.21 L278.61 158.13 L280.06 158.06 L281.53 157.98 L283.00 157.90 L284.48 157.83 L285.97 157.75 L287.47 157.67 L288.97 157.59 L290.48 157.51 L292.00 157.43 L293.52 157.35 L295.05 157.27 L296.58 157.19 L298.11 157.11 L299.65 157.03 L301.19 156.95 L302.73 156.87 L304.27 156.78 L305.82 156.70 L307.36 156.62 L308.91 156.54 L310.45 156.46 L311.99 156.38 L313.54 156.29 L315.08 156.21 L316.61 156.13 L318.15 156.05 L319.68 155.97 L321.20 155.89 L322.72 155.81 L324.24 155.73 L325.75 155.65 L327.26 155.57 L328.78 155.49 L330.30 155.41 L331.82 155.33 L333.35 155.25 L334.89 155.17 L336.42 155.09 L337.96 155.01 L339.51 154.92 L341.05 154.84 L342.59 154.76 L344.14 154.68 L345.68 154.60 L347.23 154.52 L348.77 154.43 L350.31 154.35 L351.85 154.27 L353.39 154.19 L354.92 154.11 L356.45 154.03 L357.98 153.95 L359.50 153.87 L361.02 153.79 L362.53 153.71 L364.03 153.63 L365.53 153.55 L367.02 153.47 L368.50 153.40 L369.97 153.32 L371.44 153.24 L372.89 153.17 L374.33 153.09 L375.77 153.02 L377.19 152.94 L378.60 152.87 L380.00 152.80 L381.65 152.72 L383.29 152.63 L384.92 152.55 L386.55 152.48 L388.16 152.40 L389.76 152.32 L391.36 152.25 L392.95 152.18 L394.52 152.10 L396.09 152.03 L397.65 151.96 L399.20 151.89 L400.74 151.82 L402.27 151.75 L403.80 151.67 L405.31 151.60 L406.82 151.53 L408.32 151.45 L409.81 151.38 L411.29 151.30 L412.76 151.22 L414.22 151.14 L415.68 151.06 L417.13 150.98 L418.57 150.89 L420.00 150.80 L421.61 150.70 L423.20 150.59 L424.79 150.48 L426.37 150.37 L427.95 150.26 L429.51 150.14 L431.06 150.02 L432.60 149.91 L434.13 149.79 L435.65 149.67 L437.15 149.55 L438.65 149.43 L440.12 149.31 L441.58 149.19 L443.03 149.07 L444.46 148.95 L445.87 148.84 L447.27 148.72 L448.64 148.61 L450.00 148.50 L451.68 148.37 L453.32 148.26 L454.94 148.15 L456.52 148.05 L458.08 147.95 L459.62 147.85 L461.14 147.75 L462.65 147.63 L464.14 147.51 L465.61 147.36 L467.08 147.20 L468.54 147.01 L470.00 146.80 L471.57 146.54 L473.13 146.26 L474.68 145.95 L476.21 145.62 L477.73 145.28 L479.23 144.93 L480.71 144.56 L482.18 144.18 L483.64 143.79 L485.08 143.40 L486.50 143.00 L488.08 142.55 L489.65 142.09 L491.20 141.62 L492.74 141.13 L494.25 140.64 L495.73 140.13 L497.19 139.60 L498.61 139.06 L500.00 138.50 L501.55 137.84 L503.08 137.17 L504.58 136.48 L506.03 135.77 L507.42 135.03 L508.75 134.28 L510.00 133.50 L511.35 132.55 L512.59 131.57 L513.75 130.55 L514.88 129.53 L516.00 128.50 L517.32 127.30 L518.58 126.10 L519.83 124.86 L521.10 123.50 L522.12 122.35 L523.16 121.12 L524.21 119.85 L525.24 118.53 L526.24 117.18 L527.20 115.80 L528.01 114.52 L528.78 113.17 L529.52 111.79 L530.25 110.40 L530.97 109.03 L531.68 107.72 L532.40 106.50 L533.45 104.86 L534.49 103.32 L535.52 101.87 L536.50 100.50 L537.52 98.96 L538.50 97.51 L539.50 96.50 L540.55 95.97 L541.50 96.00 L542.17 97.06 L542.60 98.92 L543.00 101.00 L543.26 102.33 L543.49 103.78 L543.71 105.34 L543.91 106.96 L544.11 108.63 L544.30 110.32 L544.50 112.00 L544.67 113.48 L544.85 114.98 L545.01 116.51 L545.18 118.05 L545.34 119.62 L545.50 121.20 L545.66 122.79 L545.83 124.39 L546.00 126.00 L546.17 127.56 L546.33 129.15 L546.50 130.76 L546.67 132.38 L546.84 134.01 L547.01 135.64 L547.18 137.26 L547.36 138.86 L547.53 140.45 L547.70 142.00 L547.88 143.56 L548.05 145.11 L548.23 146.63 L548.41 148.14 L548.59 149.64 L548.77 151.14 L548.94 152.64 L549.12 154.14 L549.30 155.65" fill="none" stroke="#000" stroke-width="1.45" stroke-dasharray="10 11" stroke-dashoffset="5.03"/>
<path d="M102.20 155.65 L102.35 157.16 L102.49 158.64 L102.64 160.12 L102.79 161.61 L102.94 163.12 L103.07 164.68 L103.20 166.30 L103.30 167.70 L103.39 169.13 L103.47 170.61 L103.55 172.11 L103.63 173.64 L103.71 175.18 L103.78 176.72 L103.85 178.26 L103.93 179.79 L104.00 181.30 L104.07 182.80 L104.15 184.30 L104.22 185.80 L104.29 187.30 L104.36 188.80 L104.43 190.30 L104.50 191.80 L104.57 193.30 L104.63 194.80 L104.70 196.30 L104.76 197.80 L104.83 199.31 L104.89 200.83 L104.95 202.34 L105.00 203.85 L105.06 205.36 L105.12 206.86 L105.18 208.35 L105.24 209.83 L105.30 211.30 L105.37 213.00 L105.45 214.67 L105.53 216.32 L105.60 217.96 L105.68 219.60 L105.75 221.27 L105.83 222.96 L105.90 224.70 L105.96 226.15 L106.01 227.65 L106.07 229.17 L106.12 230.72 L106.18 232.28 L106.23 233.84 L106.29 235.39 L106.34 236.92 L106.39 238.42 L106.45 239.89 L106.50 241.30 L106.56 242.92 L106.63 244.53 L106.69 246.11 L106.76 247.66 L106.82 249.17 L106.88 250.62 L106.94 252.00 L107.00 253.30 L107.07 255.04 L107.14 256.65 L107.21 258.16 L107.30 259.60 L107.33 262.16 L107.70 263.90 L108.31 264.04 L109.00 263.80 L110.05 262.65 L111.00 261.00 L111.82 259.02 L112.50 256.90 L113.08 254.86 L113.60 252.80 L114.15 250.66 L114.70 248.50 L115.25 246.35 L115.80 244.20 L116.34 242.05 L116.90 239.90 L117.49 237.85 L118.20 235.60 L118.67 234.23 L119.21 232.68 L119.80 231.04 L120.41 229.38 L120.98 227.77 L121.50 226.30 L122.04 224.70 L122.54 223.19 L123.02 221.73 L123.50 220.30 L124.07 218.58 L124.64 216.92 L125.20 215.30 L125.98 213.17 L126.80 211.10 L127.42 209.72 L128.07 208.35 L128.70 207.00 L129.53 205.09 L130.40 203.20 L131.46 201.23 L132.60 199.30 L133.78 197.55 L135.00 195.80 L135.84 194.51 L136.68 193.19 L137.50 191.90 L138.56 190.12 L139.70 188.40 L140.67 187.23 L141.74 186.10 L142.80 185.00 L144.29 183.48 L145.80 182.00 L147.42 180.47 L149.10 179.00 L150.88 177.74 L152.70 176.50 L153.90 175.56 L155.08 174.60 L156.30 173.70 L158.18 172.55 L160.10 171.50 L161.81 170.58 L163.90 169.60 L164.90 169.17 L166.06 168.69 L167.35 168.16 L168.74 167.60 L170.23 167.02 L171.78 166.42 L173.39 165.83 L175.03 165.25 L176.68 164.70 L178.32 164.18 L179.94 163.71 L181.50 163.30 L182.97 162.96 L184.44 162.65 L185.91 162.37 L187.39 162.13 L188.88 161.90 L190.38 161.70 L191.89 161.51 L193.43 161.34 L194.98 161.17 L196.57 161.01 L198.18 160.84 L199.82 160.68 L201.50 160.50 L202.86 160.36 L204.23 160.22 L205.63 160.09 L207.04 159.96 L208.47 159.84 L209.91 159.72 L211.37 159.60 L212.85 159.48 L214.34 159.37 L215.84 159.26 L217.36 159.16 L218.89 159.06 L220.43 158.95 L221.99 158.86 L223.55 158.76 L225.12 158.67 L226.71 158.57 L228.30 158.48 L229.89 158.39 L231.50 158.30 L232.93 158.22 L234.37 158.15 L235.82 158.07 L237.27 158.00 L238.74 157.93 L240.21 157.87 L241.69 157.80 L243.18 157.74 L244.68 157.68 L246.19 157.62 L247.70 157.56 L249.23 157.51 L250.76 157.45 L252.30 157.40 L253.85 157.34 L255.41 157.29 L256.98 157.24 L258.55 157.19 L260.14 157.14 L261.73 157.09 L263.34 157.04 L264.95 156.99 L266.58 156.95 L268.21 156.90 L269.85 156.85 L271.50 156.80 L272.90 156.76 L274.31 156.72 L275.73 156.68 L277.17 156.64 L278.61 156.61 L280.06 156.57 L281.53 156.54 L283.00 156.50 L284.48 156.47 L285.97 156.43 L287.47 156.40 L288.97 156.37 L290.48 156.34 L292.00 156.31 L293.52 156.28 L295.04 156.24 L296.57 156.21 L298.11 156.18 L299.65 156.16 L301.19 156.13 L302.73 156.10 L304.27 156.07 L305.82 156.04 L307.36 156.01 L308.91 155.98 L310.45 155.95 L311.99 155.92 L313.54 155.89 L315.08 155.86 L316.61 155.83 L318.15 155.80 L319.68 155.77 L321.20 155.74 L322.72 155.71 L324.24 155.68 L325.75 155.65 L327.26 155.62 L328.78 155.59 L330.30 155.56 L331.82 155.53 L333.35 155.50 L334.89 155.47 L336.42 155.44 L337.96 155.41 L339.51 155.38 L341.05 155.35 L342.59 155.32 L344.14 155.29 L345.68 155.26 L347.23 155.23 L348.77 155.20 L350.31 155.17 L351.85 155.14 L353.39 155.12 L354.93 155.09 L356.46 155.06 L357.98 155.02 L359.50 154.99 L361.02 154.96 L362.53 154.93 L364.03 154.90 L365.53 154.87 L367.02 154.83 L368.50 154.80 L369.97 154.76 L371.44 154.73 L372.89 154.69 L374.33 154.66 L375.77 154.62 L377.19 154.58 L378.60 154.54 L380.00 154.50 L381.65 154.45 L383.29 154.40 L384.92 154.35 L386.55 154.31 L388.16 154.26 L389.77 154.21 L391.36 154.16 L392.95 154.11 L394.52 154.06 L396.09 154.01 L397.65 153.96 L399.20 153.90 L400.74 153.85 L402.27 153.79 L403.80 153.74 L405.31 153.68 L406.82 153.62 L408.32 153.56 L409.81 153.50 L411.29 153.43 L412.76 153.37 L414.23 153.30 L415.68 153.23 L417.13 153.15 L418.57 153.08 L420.00 153.00 L421.61 152.91 L423.20 152.82 L424.79 152.73 L426.38 152.63 L427.95 152.54 L429.51 152.44 L431.07 152.35 L432.61 152.24 L434.14 152.14 L435.66 152.04 L437.16 151.93 L438.65 151.82 L440.13 151.70 L441.59 151.58 L443.03 151.46 L444.46 151.34 L445.87 151.21 L447.27 151.08 L448.64 150.94 L450.00 150.80 L451.68 150.62 L453.32 150.46 L454.93 150.29 L456.52 150.13 L458.07 149.96 L459.61 149.79 L461.12 149.60 L462.62 149.40 L464.11 149.17 L465.59 148.93 L467.06 148.65 L468.53 148.34 L470.00 148.00 L471.56 147.59 L473.18 147.12 L474.82 146.60 L476.47 146.05 L478.11 145.47 L479.72 144.88 L481.27 144.28 L482.76 143.70 L484.15 143.14 L485.44 142.61 L486.60 142.13 L487.60 141.70 L489.69 140.72 L491.40 139.80 L493.32 138.75 L495.20 137.60 L496.42 136.70 L497.60 135.74 L498.80 134.80 L500.62 133.56 L502.40 132.30 L504.08 130.83 L505.70 129.30 L507.21 127.82 L508.70 126.30 L509.76 125.20 L510.83 124.07 L511.80 122.90 L512.94 121.18 L514.00 119.40 L514.82 118.11 L515.66 116.79 L516.50 115.50 L517.72 113.75 L518.90 112.00 L520.04 110.07 L521.10 108.10 L521.97 106.21 L522.80 104.30 L523.43 102.95 L524.08 101.58 L524.70 100.20 L525.52 98.13 L526.30 96.00 L526.86 94.38 L527.43 92.72 L528.00 91.00 L528.48 89.57 L528.96 88.11 L529.46 86.60 L530.00 85.00 L530.52 83.53 L531.09 81.92 L531.70 80.26 L532.29 78.62 L532.83 77.07 L533.30 75.70 L534.01 73.45 L534.60 71.40 L535.16 69.25 L535.70 67.10 L536.25 64.95 L536.80 62.80 L537.35 60.64 L537.90 58.50 L538.42 56.44 L539.00 54.40 L539.68 52.28 L540.50 50.30 L541.45 48.65 L542.50 47.50 L543.19 47.26 L543.80 47.40 L544.17 49.14 L544.20 51.70 L544.29 53.14 L544.36 54.65 L544.43 56.26 L544.50 58.00 L544.56 59.30 L544.62 60.68 L544.68 62.13 L544.74 63.64 L544.81 65.19 L544.87 66.77 L544.94 68.38 L545.00 70.00 L545.05 71.41 L545.11 72.88 L545.16 74.38 L545.21 75.91 L545.27 77.46 L545.32 79.02 L545.38 80.58 L545.43 82.13 L545.49 83.65 L545.54 85.15 L545.60 86.60 L545.67 88.34 L545.75 90.03 L545.82 91.70 L545.90 93.34 L545.97 94.98 L546.05 96.63 L546.13 98.30 L546.20 100.00 L546.26 101.47 L546.32 102.95 L546.38 104.44 L546.44 105.94 L546.50 107.45 L546.55 108.96 L546.61 110.47 L546.67 111.99 L546.74 113.50 L546.80 115.00 L546.87 116.50 L546.93 118.00 L547.00 119.50 L547.07 121.00 L547.14 122.50 L547.21 124.00 L547.28 125.50 L547.35 127.00 L547.43 128.50 L547.50 130.00 L547.57 131.51 L547.65 133.04 L547.72 134.58 L547.79 136.12 L547.87 137.66 L547.95 139.19 L548.03 140.69 L548.11 142.17 L548.20 143.60 L548.30 145.00 L548.43 146.62 L548.56 148.18 L548.71 149.69 L548.86 151.18 L549.01 152.66 L549.15 154.14 L549.30 155.65" fill="none" stroke="#000" stroke-width="1.8" stroke-dasharray="0.01 4.4" stroke-linecap="round"/>
<path d="M102.20 155.65 L102.46 157.17 L102.72 158.70 L102.99 160.23 L103.26 161.76 L103.53 163.29 L103.79 164.81 L104.04 166.32 L104.28 167.82 L104.50 169.30 L104.72 170.85 L104.92 172.41 L105.10 173.96 L105.28 175.50 L105.46 177.01 L105.63 178.49 L105.81 179.92 L106.00 181.30 L106.24 183.07 L106.48 184.81 L106.72 186.47 L106.99 187.98 L107.30 189.30 L107.82 191.11 L108.50 192.30 L109.10 192.56 L109.70 192.50 L110.35 191.72 L110.90 190.50 L111.42 188.67 L112.00 186.70 L113.02 184.83 L114.20 183.00 L115.34 181.11 L116.60 179.30 L118.09 177.69 L119.70 176.20 L121.37 174.82 L123.10 173.50 L124.81 172.15 L126.60 170.90 L127.93 170.20 L129.32 169.58 L130.70 168.90 L132.05 168.07 L133.39 167.18 L134.90 166.30 L136.26 165.62 L137.74 164.94 L139.31 164.26 L140.91 163.61 L142.50 163.00 L144.07 162.42 L145.63 161.87 L147.22 161.36 L148.92 160.87 L150.80 160.40 L152.12 160.11 L153.50 159.83 L154.94 159.55 L156.43 159.29 L157.98 159.04 L159.59 158.80 L161.24 158.57 L162.94 158.36 L164.68 158.16 L166.47 157.97 L168.30 157.80 L169.58 157.70 L170.89 157.60 L172.23 157.52 L173.60 157.45 L174.99 157.38 L176.40 157.33 L177.84 157.28 L179.30 157.24 L180.79 157.20 L182.29 157.17 L183.81 157.14 L185.35 157.12 L186.91 157.10 L188.48 157.08 L190.07 157.06 L191.67 157.05 L193.28 157.03 L194.91 157.01 L196.54 156.99 L198.19 156.96 L199.84 156.93 L201.50 156.90 L202.87 156.87 L204.24 156.84 L205.63 156.81 L207.02 156.78 L208.42 156.76 L209.84 156.73 L211.26 156.70 L212.69 156.67 L214.13 156.65 L215.58 156.62 L217.05 156.59 L218.52 156.57 L220.00 156.54 L221.48 156.52 L222.98 156.49 L224.49 156.47 L226.01 156.44 L227.53 156.42 L229.07 156.39 L230.61 156.37 L232.16 156.35 L233.73 156.33 L235.30 156.30 L236.88 156.28 L238.47 156.26 L240.06 156.24 L241.67 156.22 L243.29 156.20 L244.91 156.18 L246.55 156.16 L248.19 156.14 L249.84 156.12 L251.50 156.10 L252.87 156.09 L254.26 156.07 L255.65 156.06 L257.06 156.04 L258.47 156.03 L259.90 156.02 L261.34 156.01 L262.79 155.99 L264.24 155.98 L265.71 155.97 L267.18 155.96 L268.66 155.95 L270.15 155.94 L271.65 155.93 L273.15 155.92 L274.66 155.91 L276.18 155.90 L277.70 155.89 L279.23 155.88 L280.76 155.88 L282.30 155.87 L283.84 155.86 L285.38 155.85 L286.93 155.84 L288.49 155.84 L290.04 155.83 L291.60 155.82 L293.16 155.81 L294.72 155.81 L296.29 155.80 L297.85 155.79 L299.41 155.78 L300.98 155.78 L302.54 155.77 L304.11 155.76 L305.67 155.75 L307.23 155.75 L308.80 155.74 L310.35 155.73 L311.91 155.72 L313.46 155.72 L315.01 155.71 L316.56 155.70 L318.11 155.69 L319.64 155.68 L321.18 155.68 L322.71 155.67 L324.23 155.66 L325.75 155.65 L327.27 155.64 L328.79 155.63 L330.32 155.62 L331.86 155.62 L333.39 155.61 L334.94 155.60 L336.49 155.59 L338.04 155.58 L339.59 155.58 L341.15 155.57 L342.70 155.56 L344.27 155.55 L345.83 155.55 L347.39 155.54 L348.96 155.53 L350.52 155.52 L352.09 155.52 L353.65 155.51 L355.21 155.50 L356.78 155.49 L358.34 155.49 L359.90 155.48 L361.46 155.47 L363.01 155.46 L364.57 155.46 L366.12 155.45 L367.66 155.44 L369.20 155.43 L370.74 155.42 L372.27 155.42 L373.80 155.41 L375.32 155.40 L376.84 155.39 L378.35 155.38 L379.85 155.37 L381.35 155.36 L382.84 155.35 L384.32 155.34 L385.79 155.33 L387.26 155.32 L388.71 155.31 L390.16 155.29 L391.60 155.28 L393.03 155.27 L394.44 155.26 L395.85 155.24 L397.24 155.23 L398.63 155.21 L400.00 155.20 L401.66 155.18 L403.31 155.16 L404.95 155.14 L406.59 155.12 L408.21 155.10 L409.83 155.08 L411.44 155.06 L413.03 155.04 L414.62 155.02 L416.20 155.00 L417.77 154.97 L419.34 154.95 L420.89 154.93 L422.43 154.91 L423.97 154.88 L425.49 154.86 L427.01 154.83 L428.52 154.81 L430.02 154.78 L431.50 154.76 L432.98 154.73 L434.45 154.71 L435.92 154.68 L437.37 154.65 L438.81 154.63 L440.24 154.60 L441.66 154.57 L443.08 154.54 L444.48 154.52 L445.87 154.49 L447.26 154.46 L448.63 154.43 L450.00 154.40 L451.66 154.37 L453.31 154.34 L454.96 154.31 L456.59 154.29 L458.22 154.27 L459.83 154.25 L461.43 154.24 L463.02 154.22 L464.59 154.20 L466.15 154.18 L467.69 154.16 L469.21 154.13 L470.71 154.10 L472.20 154.06 L473.66 154.02 L475.10 153.97 L476.51 153.92 L477.90 153.85 L479.27 153.78 L480.61 153.70 L481.92 153.60 L483.20 153.50 L485.03 153.33 L486.82 153.14 L488.56 152.94 L490.26 152.73 L491.91 152.50 L493.52 152.26 L495.07 152.01 L496.56 151.75 L498.00 151.47 L499.38 151.19 L500.70 150.90 L502.58 150.43 L504.28 149.94 L505.87 149.43 L507.43 148.88 L509.00 148.30 L510.59 147.69 L512.19 147.04 L513.76 146.36 L515.24 145.68 L516.60 145.00 L518.11 144.12 L519.45 143.23 L520.80 142.40 L522.18 141.72 L523.57 141.10 L524.90 140.40 L526.69 139.15 L528.40 137.80 L530.13 136.48 L531.80 135.10 L533.41 133.61 L534.90 132.00 L536.16 130.19 L537.30 128.30 L538.48 126.47 L539.50 124.60 L540.08 122.63 L540.60 120.80 L541.15 119.58 L541.80 118.80 L542.40 118.74 L543.00 119.00 L543.68 120.19 L544.20 122.00 L544.51 123.32 L544.78 124.83 L545.02 126.49 L545.26 128.23 L545.50 130.00 L545.69 131.38 L545.87 132.81 L546.04 134.29 L546.22 135.80 L546.40 137.34 L546.58 138.89 L546.78 140.45 L547.00 142.00 L547.22 143.48 L547.46 144.98 L547.71 146.49 L547.97 148.01 L548.24 149.54 L548.51 151.07 L548.78 152.60 L549.04 154.13 L549.30 155.65" fill="none" stroke="#000" stroke-width="1.8" stroke-dasharray="0.01 4.4" stroke-linecap="round"/>
<path d="M102.20 155.65 L102.66 157.32 L103.11 159.00 L103.57 160.66 L104.00 162.30 L104.38 163.86 L104.73 165.43 L105.10 166.93 L105.50 168.30 L106.17 170.32 L107.00 171.80 L107.71 172.24 L108.50 172.30 L109.78 171.31 L111.40 169.80 L112.57 169.08 L113.93 168.33 L115.44 167.56 L117.04 166.80 L118.68 166.07 L120.30 165.40 L121.82 164.82 L123.41 164.27 L125.03 163.75 L126.68 163.25 L128.32 162.78 L129.93 162.33 L131.50 161.90 L133.10 161.47 L134.66 161.06 L136.20 160.67 L137.74 160.32 L139.30 159.99 L140.90 159.70 L142.39 159.47 L143.92 159.28 L145.46 159.12 L147.01 158.97 L148.56 158.84 L150.09 158.72 L151.60 158.60 L153.22 158.47 L154.81 158.36 L156.39 158.27 L157.97 158.17 L159.57 158.09 L161.20 158.00 L162.74 157.92 L164.32 157.85 L165.91 157.78 L167.51 157.72 L169.10 157.65 L170.67 157.58 L172.20 157.50 L173.71 157.41 L175.08 157.30 L176.44 157.20 L177.88 157.09 L179.53 156.99 L181.50 156.90 L182.44 156.86 L183.44 156.83 L184.49 156.79 L185.60 156.76 L186.75 156.73 L187.96 156.70 L189.21 156.67 L190.51 156.64 L191.84 156.61 L193.22 156.58 L194.64 156.56 L196.09 156.53 L197.58 156.51 L199.10 156.48 L200.65 156.46 L202.23 156.44 L203.84 156.41 L205.47 156.39 L207.12 156.37 L208.80 156.35 L210.49 156.33 L212.20 156.31 L213.92 156.29 L215.65 156.27 L217.40 156.25 L219.15 156.23 L220.91 156.21 L222.68 156.19 L224.45 156.17 L226.21 156.15 L227.98 156.14 L229.74 156.12 L231.50 156.10 L232.79 156.09 L234.09 156.07 L235.41 156.06 L236.74 156.05 L238.09 156.04 L239.45 156.03 L240.82 156.02 L242.21 156.01 L243.61 155.99 L245.02 155.98 L246.44 155.98 L247.88 155.97 L249.32 155.96 L250.78 155.95 L252.24 155.94 L253.72 155.93 L255.20 155.92 L256.70 155.91 L258.20 155.91 L259.71 155.90 L261.23 155.89 L262.76 155.88 L264.29 155.88 L265.83 155.87 L267.38 155.86 L268.93 155.86 L270.49 155.85 L272.05 155.85 L273.62 155.84 L275.20 155.83 L276.77 155.83 L278.35 155.82 L279.94 155.82 L281.53 155.81 L283.12 155.81 L284.71 155.80 L286.31 155.80 L287.91 155.79 L289.50 155.78 L291.10 155.78 L292.70 155.77 L294.30 155.77 L295.90 155.76 L297.50 155.76 L299.10 155.75 L300.70 155.75 L302.29 155.74 L303.88 155.74 L305.47 155.73 L307.06 155.73 L308.64 155.72 L310.23 155.71 L311.80 155.71 L313.37 155.70 L314.94 155.70 L316.50 155.69 L318.06 155.68 L319.61 155.68 L321.16 155.67 L322.69 155.66 L324.23 155.66 L325.75 155.65 L327.27 155.64 L328.81 155.64 L330.34 155.63 L331.89 155.62 L333.44 155.62 L335.00 155.61 L336.56 155.60 L338.13 155.60 L339.70 155.59 L341.27 155.59 L342.86 155.58 L344.44 155.57 L346.03 155.57 L347.62 155.56 L349.21 155.56 L350.80 155.55 L352.40 155.55 L354.00 155.54 L355.60 155.54 L357.20 155.53 L358.80 155.53 L360.40 155.52 L362.00 155.52 L363.59 155.51 L365.19 155.50 L366.79 155.50 L368.38 155.49 L369.97 155.49 L371.56 155.48 L373.15 155.48 L374.73 155.47 L376.30 155.47 L377.88 155.46 L379.45 155.45 L381.01 155.45 L382.57 155.44 L384.12 155.44 L385.67 155.43 L387.21 155.42 L388.74 155.42 L390.27 155.41 L391.79 155.40 L393.30 155.39 L394.80 155.39 L396.30 155.38 L397.78 155.37 L399.26 155.36 L400.72 155.35 L402.18 155.34 L403.62 155.33 L405.06 155.32 L406.48 155.32 L407.89 155.31 L409.29 155.29 L410.68 155.28 L412.05 155.27 L413.41 155.26 L414.76 155.25 L416.09 155.24 L417.41 155.23 L418.71 155.21 L420.00 155.20 L421.76 155.18 L423.52 155.16 L425.29 155.15 L427.05 155.13 L428.82 155.11 L430.59 155.09 L432.35 155.07 L434.10 155.05 L435.85 155.03 L437.58 155.01 L439.30 154.99 L441.01 154.97 L442.70 154.95 L444.38 154.93 L446.03 154.91 L447.66 154.89 L449.27 154.86 L450.85 154.84 L452.40 154.82 L453.92 154.79 L455.41 154.77 L456.86 154.74 L458.28 154.72 L459.66 154.69 L460.99 154.66 L462.29 154.63 L463.54 154.60 L464.75 154.57 L465.90 154.54 L467.01 154.51 L468.06 154.47 L469.06 154.44 L470.00 154.40 L471.97 154.31 L473.62 154.21 L475.06 154.10 L476.42 154.00 L477.79 153.89 L479.30 153.80 L480.83 153.72 L482.40 153.65 L483.99 153.58 L485.59 153.52 L487.18 153.45 L488.76 153.38 L490.30 153.30 L491.93 153.21 L493.53 153.13 L495.11 153.03 L496.69 152.94 L498.28 152.83 L499.90 152.70 L501.41 152.58 L502.94 152.46 L504.49 152.33 L506.04 152.18 L507.58 152.02 L509.11 151.83 L510.60 151.60 L512.20 151.31 L513.76 150.98 L515.30 150.63 L516.84 150.24 L518.40 149.83 L520.00 149.40 L521.57 148.97 L523.18 148.52 L524.82 148.05 L526.47 147.55 L528.09 147.03 L529.68 146.48 L531.20 145.90 L532.82 145.23 L534.46 144.50 L536.06 143.74 L537.57 142.97 L538.93 142.22 L540.10 141.50 L541.72 139.99 L543.00 139.00 L543.79 139.06 L544.50 139.50 L545.33 140.98 L546.00 143.00 L546.40 144.37 L546.77 145.87 L547.12 147.44 L547.50 149.00 L547.93 150.64 L548.39 152.30 L548.84 153.98 L549.30 155.65" fill="none" stroke="#000" stroke-width="1.45" stroke-dasharray="10 11" stroke-dashoffset="16.74"/>
<path d="M102.20 155.65 L102.77 157.43 L103.50 158.80 L104.27 159.07 L105.20 159.00 L106.97 158.37 L108.90 157.40 L110.71 156.29 L112.60 155.30 L114.09 154.91 L115.66 154.70 L117.20 154.60 L119.23 154.68 L121.30 154.90 L122.84 155.06 L124.45 155.25 L126.50 155.40 L127.53 155.44 L128.67 155.48 L129.91 155.50 L131.23 155.52 L132.64 155.53 L134.13 155.54 L135.68 155.54 L137.30 155.53 L138.96 155.53 L140.67 155.52 L142.43 155.51 L144.21 155.51 L146.01 155.50 L147.84 155.50 L149.67 155.50 L151.50 155.50 L152.76 155.50 L154.03 155.51 L155.32 155.51 L156.61 155.52 L157.92 155.52 L159.24 155.53 L160.58 155.53 L161.93 155.54 L163.29 155.54 L164.67 155.55 L166.07 155.55 L167.48 155.56 L168.90 155.56 L170.35 155.57 L171.81 155.57 L173.28 155.58 L174.78 155.58 L176.29 155.59 L177.83 155.59 L179.38 155.60 L180.95 155.60 L182.54 155.61 L184.15 155.61 L185.79 155.62 L187.44 155.62 L189.12 155.63 L190.82 155.63 L192.54 155.63 L194.28 155.64 L196.05 155.64 L197.84 155.64 L199.66 155.65 L201.50 155.65 L202.68 155.65 L203.89 155.65 L205.10 155.65 L206.33 155.66 L207.58 155.66 L208.84 155.66 L210.12 155.66 L211.41 155.66 L212.72 155.66 L214.04 155.66 L215.37 155.66 L216.72 155.67 L218.08 155.67 L219.45 155.67 L220.83 155.67 L222.23 155.67 L223.64 155.67 L225.06 155.67 L226.49 155.67 L227.93 155.67 L229.38 155.67 L230.84 155.67 L232.31 155.67 L233.80 155.67 L235.29 155.67 L236.79 155.67 L238.29 155.67 L239.81 155.67 L241.34 155.67 L242.87 155.67 L244.41 155.67 L245.95 155.67 L247.51 155.67 L249.07 155.67 L250.64 155.67 L252.21 155.67 L253.79 155.67 L255.37 155.67 L256.96 155.67 L258.55 155.67 L260.15 155.67 L261.75 155.67 L263.36 155.67 L264.97 155.67 L266.58 155.67 L268.20 155.67 L269.81 155.67 L271.43 155.66 L273.06 155.66 L274.68 155.66 L276.31 155.66 L277.93 155.66 L279.56 155.66 L281.19 155.66 L282.82 155.66 L284.45 155.66 L286.07 155.66 L287.70 155.66 L289.33 155.66 L290.95 155.66 L292.57 155.66 L294.19 155.66 L295.81 155.66 L297.43 155.66 L299.04 155.65 L300.65 155.65 L302.26 155.65 L303.86 155.65 L305.46 155.65 L307.06 155.65 L308.65 155.65 L310.23 155.65 L311.81 155.65 L313.39 155.65 L314.96 155.65 L316.52 155.65 L318.08 155.65 L319.63 155.65 L321.17 155.65 L322.70 155.65 L324.23 155.65 L325.75 155.65 L327.27 155.65 L328.80 155.65 L330.33 155.65 L331.87 155.65 L333.42 155.65 L334.98 155.65 L336.54 155.65 L338.11 155.65 L339.69 155.65 L341.27 155.65 L342.85 155.65 L344.44 155.65 L346.04 155.65 L347.64 155.65 L349.24 155.65 L350.85 155.65 L352.46 155.65 L354.07 155.64 L355.69 155.64 L357.31 155.64 L358.93 155.64 L360.55 155.64 L362.17 155.64 L363.80 155.64 L365.43 155.64 L367.05 155.64 L368.68 155.64 L370.31 155.64 L371.94 155.64 L373.57 155.64 L375.19 155.64 L376.82 155.64 L378.44 155.64 L380.07 155.64 L381.69 155.63 L383.30 155.63 L384.92 155.63 L386.53 155.63 L388.14 155.63 L389.75 155.63 L391.35 155.63 L392.95 155.63 L394.54 155.63 L396.13 155.63 L397.71 155.63 L399.29 155.63 L400.86 155.63 L402.43 155.63 L403.99 155.63 L405.55 155.63 L407.09 155.63 L408.63 155.63 L410.16 155.63 L411.69 155.63 L413.21 155.63 L414.71 155.63 L416.21 155.63 L417.70 155.63 L419.19 155.63 L420.66 155.63 L422.12 155.63 L423.57 155.63 L425.01 155.63 L426.44 155.63 L427.86 155.63 L429.27 155.63 L430.67 155.63 L432.05 155.63 L433.42 155.63 L434.78 155.63 L436.13 155.64 L437.46 155.64 L438.78 155.64 L440.09 155.64 L441.38 155.64 L442.66 155.64 L443.92 155.64 L445.17 155.64 L446.40 155.65 L447.61 155.65 L448.82 155.65 L450.00 155.65 L451.84 155.65 L453.66 155.66 L455.45 155.66 L457.22 155.66 L458.96 155.67 L460.68 155.67 L462.38 155.67 L464.06 155.68 L465.71 155.68 L467.35 155.69 L468.96 155.69 L470.55 155.70 L472.12 155.70 L473.67 155.71 L475.21 155.71 L476.72 155.72 L478.22 155.72 L479.69 155.73 L481.15 155.73 L482.60 155.74 L484.02 155.74 L485.43 155.75 L486.83 155.75 L488.21 155.76 L489.57 155.76 L490.92 155.77 L492.26 155.77 L493.58 155.78 L494.89 155.78 L496.18 155.79 L497.47 155.79 L498.74 155.80 L500.00 155.80 L501.83 155.80 L503.66 155.80 L505.49 155.80 L507.29 155.79 L509.07 155.79 L510.83 155.78 L512.54 155.77 L514.20 155.77 L515.82 155.76 L517.37 155.76 L518.86 155.77 L520.27 155.78 L521.59 155.80 L522.83 155.82 L523.97 155.86 L525.00 155.90 L527.05 156.05 L528.66 156.24 L530.20 156.40 L532.27 156.62 L534.30 156.70 L535.84 156.60 L537.41 156.39 L538.90 156.00 L540.79 155.01 L542.60 153.90 L544.53 152.93 L546.30 152.30 L547.23 152.23 L548.00 152.50 L548.73 153.87 L549.30 155.65" fill="none" stroke="#000" stroke-width="1.8" stroke-dasharray="0.01 4.4" stroke-linecap="round"/>
<path d="M685.20 155.65 L685.33 157.16 L685.47 158.65 L685.60 160.14 L685.74 161.63 L685.87 163.13 L686.01 164.64 L686.14 166.17 L686.27 167.72 L686.40 169.30 L686.51 170.77 L686.63 172.26 L686.74 173.78 L686.85 175.30 L686.95 176.85 L687.06 178.40 L687.17 179.97 L687.27 181.54 L687.38 183.13 L687.49 184.71 L687.60 186.30 L687.71 187.85 L687.81 189.42 L687.92 191.00 L688.02 192.59 L688.12 194.20 L688.23 195.80 L688.34 197.41 L688.44 199.01 L688.55 200.60 L688.67 202.18 L688.78 203.75 L688.90 205.30 L689.03 206.89 L689.16 208.49 L689.30 210.09 L689.43 211.68 L689.58 213.26 L689.72 214.83 L689.86 216.38 L690.00 217.90 L690.14 219.40 L690.27 220.87 L690.40 222.30 L690.54 223.91 L690.68 225.48 L690.81 227.02 L690.94 228.52 L691.07 230.00 L691.21 231.45 L691.35 232.89 L691.50 234.30 L691.69 235.92 L691.89 237.48 L692.09 239.01 L692.30 240.54 L692.50 242.09 L692.70 243.70 L692.88 245.28 L693.05 246.90 L693.22 248.55 L693.39 250.21 L693.56 251.88 L693.73 253.55 L693.90 255.20 L694.53 256.66 L695.16 258.11 L695.79 259.57 L696.41 261.03 L697.04 262.49 L697.67 263.94 L698.30 265.40 L699.68 264.83 L701.06 264.25 L702.40 263.50 L703.51 262.64 L704.58 261.63 L705.63 260.50 L706.70 259.30 L707.74 258.04 L708.78 256.67 L709.81 255.23 L710.86 253.76 L711.90 252.30 L712.82 251.03 L713.74 249.75 L714.66 248.45 L715.58 247.14 L716.49 245.83 L717.40 244.50 L718.28 243.14 L719.12 241.78 L719.95 240.41 L720.81 239.02 L721.75 237.62 L722.80 236.20 L723.67 235.13 L724.60 234.05 L725.59 232.95 L726.62 231.84 L727.69 230.72 L728.77 229.60 L729.87 228.49 L730.96 227.38 L732.04 226.28 L733.10 225.20 L734.23 224.02 L735.36 222.83 L736.49 221.64 L737.63 220.46 L738.76 219.29 L739.91 218.14 L741.06 217.02 L742.22 215.94 L743.40 214.90 L744.65 213.85 L745.92 212.84 L747.19 211.86 L748.48 210.91 L749.77 209.99 L751.08 209.10 L752.39 208.24 L753.70 207.40 L755.12 206.54 L756.53 205.75 L757.94 205.00 L759.37 204.26 L760.84 203.52 L762.38 202.74 L764.00 201.90 L765.19 201.27 L766.43 200.60 L767.70 199.90 L769.00 199.18 L770.33 198.45 L771.69 197.71 L773.06 196.97 L774.46 196.23 L775.87 195.50 L777.30 194.78 L778.73 194.09 L780.16 193.43 L781.60 192.80 L783.01 192.22 L784.45 191.65 L785.91 191.11 L787.38 190.59 L788.87 190.07 L790.37 189.58 L791.87 189.09 L793.39 188.61 L794.90 188.14 L796.41 187.67 L797.92 187.20 L799.42 186.74 L800.92 186.27 L802.40 185.80 L803.96 185.31 L805.52 184.81 L807.10 184.33 L808.67 183.85 L810.25 183.37 L811.82 182.89 L813.38 182.43 L814.93 181.96 L816.47 181.50 L817.99 181.04 L819.49 180.59 L820.96 180.14 L822.40 179.70 L823.98 179.21 L825.50 178.73 L826.99 178.25 L828.45 177.78 L829.90 177.32 L831.34 176.86 L832.80 176.40 L834.29 175.94 L835.82 175.47 L837.40 175.00 L838.82 174.59 L840.22 174.18 L841.62 173.79 L843.03 173.40 L844.45 173.00 L845.90 172.61 L847.38 172.21 L848.90 171.80 L850.47 171.37 L852.09 170.94 L853.78 170.48 L855.55 170.00 L857.40 169.50 L858.55 169.19 L859.73 168.87 L860.95 168.54 L862.20 168.20 L863.48 167.85 L864.80 167.49 L866.14 167.13 L867.51 166.76 L868.91 166.38 L870.33 166.00 L871.77 165.61 L873.23 165.21 L874.71 164.81 L876.21 164.41 L877.72 164.00 L879.25 163.59 L880.79 163.17 L882.34 162.75 L883.90 162.33 L885.47 161.91 L887.04 161.49 L888.62 161.06 L890.19 160.64 L891.77 160.21 L893.35 159.79 L894.93 159.36 L896.50 158.94 L898.06 158.52 L899.62 158.10 L901.16 157.68 L902.70 157.27 L904.22 156.86 L905.73 156.45 L907.22 156.05 L908.70 155.65 L910.18 155.25 L911.67 154.85 L913.18 154.44 L914.70 154.03 L916.24 153.62 L917.78 153.20 L919.34 152.78 L920.90 152.36 L922.47 151.94 L924.05 151.51 L925.63 151.09 L927.21 150.66 L928.78 150.24 L930.36 149.81 L931.93 149.39 L933.50 148.97 L935.06 148.55 L936.61 148.13 L938.15 147.71 L939.68 147.30 L941.19 146.89 L942.69 146.49 L944.17 146.09 L945.63 145.69 L947.07 145.30 L948.49 144.92 L949.89 144.54 L951.26 144.17 L952.60 143.81 L953.92 143.45 L955.20 143.10 L956.45 142.76 L957.67 142.43 L958.85 142.11 L960.00 141.80 L961.85 141.30 L963.62 140.82 L965.31 140.36 L966.93 139.93 L968.50 139.50 L970.02 139.09 L971.50 138.69 L972.95 138.30 L974.37 137.90 L975.78 137.51 L977.18 137.12 L978.58 136.71 L980.00 136.30 L981.58 135.83 L983.11 135.36 L984.60 134.90 L986.06 134.44 L987.50 133.98 L988.95 133.52 L990.41 133.05 L991.90 132.57 L993.42 132.09 L995.00 131.60 L996.44 131.16 L997.91 130.71 L999.41 130.26 L1000.93 129.80 L1002.47 129.34 L1004.02 128.87 L1005.58 128.41 L1007.15 127.93 L1008.73 127.45 L1010.30 126.97 L1011.88 126.49 L1013.44 125.99 L1015.00 125.50 L1016.48 125.03 L1017.98 124.56 L1019.48 124.10 L1020.99 123.63 L1022.50 123.16 L1024.01 122.69 L1025.53 122.21 L1027.03 121.72 L1028.53 121.23 L1030.02 120.71 L1031.49 120.19 L1032.95 119.65 L1034.39 119.08 L1035.80 118.50 L1037.24 117.87 L1038.67 117.21 L1040.10 116.52 L1041.53 115.80 L1042.94 115.07 L1044.34 114.33 L1045.71 113.59 L1047.07 112.85 L1048.40 112.12 L1049.70 111.40 L1050.97 110.70 L1052.21 110.03 L1053.40 109.40 L1055.02 108.56 L1056.56 107.78 L1058.03 107.04 L1059.46 106.30 L1060.87 105.55 L1062.28 104.76 L1063.70 103.90 L1065.01 103.06 L1066.32 102.20 L1067.63 101.31 L1068.92 100.39 L1070.21 99.44 L1071.48 98.46 L1072.75 97.45 L1074.00 96.40 L1075.18 95.36 L1076.34 94.28 L1077.49 93.16 L1078.64 92.01 L1079.77 90.84 L1080.91 89.66 L1082.04 88.47 L1083.17 87.28 L1084.30 86.10 L1085.36 85.02 L1086.44 83.92 L1087.53 82.81 L1088.63 81.70 L1089.71 80.58 L1090.78 79.46 L1091.81 78.35 L1092.80 77.25 L1093.73 76.17 L1094.60 75.10 L1095.65 73.68 L1096.59 72.28 L1097.45 70.89 L1098.28 69.52 L1099.12 68.16 L1100.00 66.80 L1100.91 65.47 L1101.82 64.16 L1102.74 62.85 L1103.66 61.55 L1104.58 60.27 L1105.50 59.00 L1106.52 57.56 L1107.52 56.12 L1108.53 54.71 L1109.58 53.33 L1110.70 52.00 L1111.72 50.91 L1112.80 49.86 L1113.92 48.84 L1115.05 47.83 L1116.18 46.82 L1117.30 45.80 L1118.44 46.98 L1119.65 48.19 L1120.82 49.39 L1121.84 50.54 L1122.60 51.60 L1123.16 53.04 L1123.50 54.40 L1123.65 56.07 L1123.79 57.75 L1123.94 59.45 L1124.09 61.14 L1124.23 62.82 L1124.38 64.46 L1124.54 66.06 L1124.70 67.60 L1124.89 69.25 L1125.10 70.81 L1125.30 72.33 L1125.51 73.84 L1125.71 75.38 L1125.90 77.00 L1126.05 78.41 L1126.19 79.85 L1126.33 81.30 L1126.46 82.78 L1126.59 84.28 L1126.72 85.82 L1126.86 87.39 L1127.00 89.00 L1127.13 90.43 L1127.26 91.90 L1127.40 93.40 L1127.54 94.92 L1127.68 96.47 L1127.82 98.04 L1127.97 99.62 L1128.10 101.21 L1128.24 102.81 L1128.37 104.41 L1128.50 106.00 L1128.62 107.55 L1128.73 109.12 L1128.85 110.70 L1128.96 112.29 L1129.06 113.89 L1129.17 115.50 L1129.28 117.10 L1129.38 118.71 L1129.48 120.30 L1129.59 121.88 L1129.69 123.45 L1129.80 125.00 L1129.91 126.59 L1130.02 128.17 L1130.13 129.76 L1130.23 131.33 L1130.34 132.90 L1130.45 134.45 L1130.55 136.00 L1130.66 137.52 L1130.77 139.04 L1130.89 140.53 L1131.00 142.00 L1131.13 143.58 L1131.26 145.13 L1131.39 146.66 L1131.53 148.17 L1131.66 149.67 L1131.80 151.16 L1131.93 152.65 L1132.07 154.14 L1132.20 155.65" fill="none" stroke="#000" stroke-width="1.45"/>
<path d="M685.20 155.65 L685.37 157.15 L685.54 158.62 L685.71 160.08 L685.89 161.56 L686.06 163.08 L686.23 164.65 L686.40 166.30 L686.54 167.69 L686.68 169.13 L686.81 170.61 L686.95 172.13 L687.09 173.68 L687.23 175.25 L687.36 176.85 L687.50 178.46 L687.63 180.07 L687.77 181.69 L687.90 183.30 L688.02 184.79 L688.14 186.30 L688.25 187.83 L688.37 189.37 L688.48 190.92 L688.60 192.48 L688.71 194.05 L688.82 195.61 L688.94 197.17 L689.05 198.72 L689.17 200.27 L689.28 201.79 L689.40 203.30 L689.52 204.84 L689.64 206.37 L689.77 207.91 L689.89 209.43 L690.01 210.95 L690.14 212.46 L690.26 213.97 L690.39 215.46 L690.51 216.94 L690.64 218.41 L690.77 219.86 L690.90 221.30 L691.04 222.86 L691.19 224.41 L691.34 225.94 L691.49 227.45 L691.64 228.95 L691.79 230.44 L691.94 231.92 L692.09 233.39 L692.24 234.85 L692.40 236.30 L692.58 238.00 L692.76 239.72 L692.94 241.44 L693.12 243.14 L693.31 244.80 L693.50 246.39 L693.69 247.90 L693.90 249.30 L694.21 251.09 L694.54 252.69 L694.87 254.23 L695.20 255.80 L696.85 255.30 L698.50 254.80 L699.24 253.47 L699.98 252.13 L700.73 250.80 L701.46 249.47 L702.19 248.13 L702.90 246.80 L703.69 245.24 L704.44 243.68 L705.19 242.12 L705.97 240.56 L706.80 239.00 L707.59 237.63 L708.43 236.27 L709.30 234.91 L710.18 233.54 L711.05 232.17 L711.90 230.80 L712.71 229.43 L713.50 228.05 L714.27 226.68 L715.07 225.29 L715.90 223.90 L716.80 222.50 L717.70 221.15 L718.63 219.78 L719.59 218.41 L720.59 217.03 L721.64 215.65 L722.74 214.27 L723.90 212.90 L724.89 211.79 L725.94 210.67 L727.03 209.55 L728.15 208.42 L729.30 207.30 L730.48 206.19 L731.66 205.08 L732.85 204.00 L734.03 202.94 L735.20 201.90 L736.41 200.82 L737.56 199.75 L738.70 198.70 L739.85 197.67 L741.02 196.66 L742.26 195.67 L743.59 194.69 L745.02 193.74 L746.60 192.80 L747.72 192.20 L748.90 191.60 L750.14 191.02 L751.43 190.44 L752.78 189.88 L754.16 189.32 L755.59 188.77 L757.05 188.23 L758.55 187.69 L760.07 187.17 L761.61 186.65 L763.17 186.14 L764.75 185.63 L766.33 185.14 L767.92 184.65 L769.52 184.16 L771.10 183.69 L772.68 183.22 L774.25 182.76 L775.80 182.30 L777.25 181.88 L778.73 181.48 L780.22 181.08 L781.73 180.69 L783.25 180.32 L784.79 179.95 L786.34 179.59 L787.89 179.23 L789.46 178.89 L791.02 178.54 L792.59 178.20 L794.16 177.87 L795.73 177.54 L797.29 177.21 L798.84 176.88 L800.39 176.55 L801.93 176.22 L803.45 175.89 L804.96 175.56 L806.45 175.23 L807.92 174.89 L809.37 174.55 L810.80 174.20 L812.38 173.80 L813.94 173.40 L815.49 172.99 L817.03 172.58 L818.56 172.16 L820.08 171.74 L821.58 171.33 L823.08 170.91 L824.56 170.50 L826.03 170.09 L827.49 169.69 L828.94 169.30 L830.37 168.91 L831.80 168.54 L833.22 168.18 L834.62 167.84 L836.02 167.51 L837.40 167.20 L839.00 166.86 L840.53 166.55 L842.01 166.26 L843.44 165.99 L844.86 165.74 L846.27 165.50 L847.70 165.26 L849.15 165.03 L850.65 164.79 L852.20 164.54 L853.84 164.28 L855.56 164.00 L857.40 163.70 L858.58 163.51 L859.80 163.31 L861.05 163.10 L862.35 162.89 L863.67 162.68 L865.03 162.46 L866.42 162.24 L867.84 162.01 L869.28 161.79 L870.75 161.55 L872.24 161.32 L873.75 161.08 L875.28 160.84 L876.83 160.60 L878.40 160.36 L879.97 160.11 L881.56 159.86 L883.17 159.62 L884.78 159.37 L886.39 159.12 L888.01 158.86 L889.64 158.61 L891.26 158.36 L892.89 158.11 L894.51 157.86 L896.13 157.61 L897.74 157.36 L899.34 157.11 L900.94 156.86 L902.52 156.62 L904.09 156.37 L905.64 156.13 L907.18 155.89 L908.70 155.65 L910.22 155.41 L911.76 155.17 L913.31 154.93 L914.88 154.68 L916.46 154.44 L918.06 154.19 L919.66 153.94 L921.27 153.69 L922.89 153.44 L924.51 153.19 L926.14 152.94 L927.76 152.69 L929.39 152.44 L931.01 152.18 L932.62 151.93 L934.23 151.68 L935.84 151.44 L937.43 151.19 L939.00 150.94 L940.57 150.70 L942.12 150.46 L943.65 150.22 L945.16 149.98 L946.65 149.75 L948.12 149.51 L949.56 149.29 L950.98 149.06 L952.37 148.84 L953.73 148.62 L955.05 148.41 L956.35 148.20 L957.60 147.99 L958.82 147.79 L960.00 147.60 L961.84 147.30 L963.56 147.02 L965.20 146.76 L966.75 146.51 L968.25 146.27 L969.70 146.04 L971.13 145.80 L972.54 145.56 L973.96 145.31 L975.39 145.04 L976.87 144.75 L978.40 144.44 L980.00 144.10 L981.38 143.79 L982.78 143.46 L984.18 143.12 L985.60 142.76 L987.03 142.39 L988.46 142.00 L989.91 141.61 L991.37 141.21 L992.84 140.80 L994.32 140.39 L995.82 139.97 L997.32 139.56 L998.84 139.14 L1000.37 138.72 L1001.91 138.31 L1003.46 137.90 L1005.02 137.50 L1006.60 137.10 L1008.03 136.75 L1009.48 136.41 L1010.95 136.07 L1012.44 135.74 L1013.95 135.41 L1015.47 135.08 L1017.01 134.75 L1018.56 134.42 L1020.11 134.09 L1021.67 133.76 L1023.24 133.43 L1024.81 133.10 L1026.38 132.76 L1027.94 132.41 L1029.51 132.07 L1031.06 131.71 L1032.61 131.35 L1034.15 130.98 L1035.67 130.61 L1037.18 130.22 L1038.67 129.82 L1040.15 129.42 L1041.60 129.00 L1043.15 128.54 L1044.72 128.08 L1046.30 127.61 L1047.88 127.14 L1049.48 126.65 L1051.07 126.16 L1052.65 125.67 L1054.23 125.16 L1055.79 124.65 L1057.33 124.13 L1058.85 123.61 L1060.35 123.07 L1061.81 122.53 L1063.24 121.98 L1064.62 121.42 L1065.97 120.86 L1067.26 120.28 L1068.50 119.70 L1069.68 119.10 L1070.80 118.50 L1072.38 117.56 L1073.81 116.61 L1075.14 115.63 L1076.38 114.64 L1077.55 113.63 L1078.70 112.60 L1079.84 111.55 L1080.99 110.48 L1082.20 109.40 L1083.37 108.36 L1084.55 107.30 L1085.74 106.22 L1086.92 105.11 L1088.10 104.00 L1089.25 102.88 L1090.37 101.75 L1091.46 100.63 L1092.51 99.51 L1093.50 98.40 L1094.66 97.03 L1095.76 95.65 L1096.81 94.27 L1097.81 92.89 L1098.77 91.52 L1099.70 90.15 L1100.60 88.80 L1101.50 87.40 L1102.33 86.01 L1103.13 84.62 L1103.90 83.25 L1104.69 81.87 L1105.50 80.50 L1106.35 79.13 L1107.22 77.76 L1108.10 76.39 L1108.97 75.03 L1109.81 73.67 L1110.60 72.30 L1111.43 70.74 L1112.21 69.18 L1112.96 67.62 L1113.71 66.06 L1114.50 64.50 L1115.21 63.17 L1115.94 61.83 L1116.67 60.50 L1117.42 59.17 L1118.16 57.83 L1118.90 56.50 L1120.55 56.00 L1122.20 55.50 L1122.53 57.07 L1122.86 58.61 L1123.19 60.21 L1123.50 62.00 L1123.71 63.40 L1123.90 64.91 L1124.09 66.50 L1124.28 68.16 L1124.46 69.86 L1124.64 71.58 L1124.82 73.30 L1125.00 75.00 L1125.16 76.45 L1125.31 77.91 L1125.46 79.38 L1125.61 80.86 L1125.76 82.35 L1125.91 83.85 L1126.06 85.36 L1126.21 86.89 L1126.36 88.44 L1126.50 90.00 L1126.63 91.44 L1126.76 92.89 L1126.89 94.36 L1127.01 95.84 L1127.14 97.33 L1127.26 98.84 L1127.39 100.35 L1127.51 101.87 L1127.63 103.39 L1127.76 104.93 L1127.88 106.46 L1128.00 108.00 L1128.12 109.51 L1128.23 111.03 L1128.35 112.58 L1128.46 114.13 L1128.58 115.69 L1128.69 117.25 L1128.80 118.82 L1128.92 120.38 L1129.03 121.93 L1129.15 123.47 L1129.26 125.00 L1129.38 126.51 L1129.50 128.00 L1129.63 129.61 L1129.77 131.23 L1129.90 132.84 L1130.04 134.45 L1130.17 136.05 L1130.31 137.62 L1130.45 139.17 L1130.59 140.69 L1130.72 142.17 L1130.86 143.61 L1131.00 145.00 L1131.17 146.65 L1131.34 148.22 L1131.51 149.74 L1131.69 151.22 L1131.86 152.68 L1132.03 154.15 L1132.20 155.65" fill="none" stroke="#000" stroke-width="1.45"/>
<path d="M685.20 155.65 L685.37 157.25 L685.55 158.87 L685.72 160.50 L685.90 162.13 L686.08 163.77 L686.26 165.41 L686.44 167.04 L686.61 168.65 L686.78 170.24 L686.95 171.81 L687.11 173.34 L687.26 174.84 L687.40 176.30 L687.56 177.99 L687.70 179.66 L687.84 181.30 L687.97 182.91 L688.09 184.48 L688.21 186.00 L688.34 187.49 L688.46 188.92 L688.60 190.30 L688.78 192.11 L688.96 193.80 L689.15 195.42 L689.35 197.01 L689.60 198.60 L689.83 200.20 L690.06 201.87 L690.32 203.48 L690.69 204.90 L691.20 206.00 L692.34 207.20 L693.70 207.70 L694.98 207.34 L696.38 206.40 L697.80 205.20 L698.81 204.18 L699.84 202.94 L700.88 201.57 L701.91 200.15 L702.92 198.76 L703.90 197.50 L705.04 196.07 L706.11 194.72 L707.22 193.38 L708.50 192.00 L709.58 190.92 L710.75 189.79 L712.00 188.63 L713.30 187.48 L714.63 186.36 L715.97 185.29 L717.30 184.30 L718.78 183.31 L720.30 182.39 L721.83 181.52 L723.37 180.70 L724.90 179.90 L726.40 179.10 L727.99 178.22 L729.53 177.37 L731.07 176.54 L732.68 175.75 L734.40 175.00 L735.75 174.48 L737.12 173.99 L738.52 173.54 L739.98 173.10 L741.50 172.66 L743.10 172.23 L744.80 171.77 L746.60 171.30 L747.83 170.98 L749.10 170.65 L750.42 170.30 L751.79 169.95 L753.19 169.60 L754.64 169.24 L756.12 168.87 L757.63 168.51 L759.17 168.14 L760.75 167.77 L762.35 167.41 L763.97 167.05 L765.62 166.70 L767.28 166.36 L768.96 166.02 L770.66 165.70 L772.36 165.38 L774.08 165.08 L775.80 164.80 L777.15 164.59 L778.54 164.38 L779.98 164.18 L781.45 163.98 L782.96 163.79 L784.50 163.60 L786.07 163.41 L787.67 163.23 L789.28 163.05 L790.91 162.87 L792.55 162.70 L794.20 162.54 L795.86 162.37 L797.52 162.22 L799.18 162.06 L800.83 161.91 L802.47 161.77 L804.10 161.62 L805.71 161.49 L807.31 161.36 L808.87 161.23 L810.41 161.10 L811.92 160.99 L813.39 160.87 L814.83 160.76 L816.22 160.66 L817.56 160.55 L818.86 160.46 L820.10 160.37 L821.28 160.28 L822.40 160.20 L824.22 160.08 L825.89 159.98 L827.44 159.90 L828.89 159.83 L830.28 159.78 L831.64 159.73 L833.00 159.68 L834.39 159.63 L835.85 159.57 L837.40 159.50 L838.82 159.43 L840.23 159.35 L841.63 159.28 L843.04 159.20 L844.46 159.12 L845.91 159.04 L847.39 158.96 L848.90 158.87 L850.47 158.78 L852.09 158.69 L853.78 158.60 L855.55 158.50 L857.40 158.40 L858.58 158.34 L859.80 158.27 L861.06 158.20 L862.35 158.13 L863.67 158.06 L865.03 157.99 L866.42 157.91 L867.84 157.84 L869.28 157.76 L870.75 157.68 L872.24 157.60 L873.75 157.52 L875.28 157.44 L876.83 157.35 L878.40 157.27 L879.98 157.19 L881.57 157.10 L883.17 157.02 L884.78 156.93 L886.39 156.84 L888.01 156.76 L889.64 156.67 L891.26 156.58 L892.89 156.50 L894.51 156.41 L896.13 156.32 L897.74 156.24 L899.34 156.15 L900.94 156.07 L902.52 155.98 L904.09 155.90 L905.64 155.81 L907.18 155.73 L908.70 155.65 L910.22 155.57 L911.76 155.49 L913.31 155.40 L914.88 155.32 L916.46 155.23 L918.06 155.15 L919.66 155.06 L921.27 154.98 L922.89 154.89 L924.51 154.80 L926.14 154.72 L927.76 154.63 L929.39 154.54 L931.01 154.46 L932.62 154.37 L934.23 154.28 L935.83 154.20 L937.42 154.11 L939.00 154.03 L940.57 153.95 L942.12 153.86 L943.65 153.78 L945.16 153.70 L946.65 153.62 L948.12 153.54 L949.56 153.46 L950.98 153.39 L952.37 153.31 L953.73 153.24 L955.05 153.17 L956.34 153.10 L957.60 153.03 L958.82 152.96 L960.00 152.90 L961.85 152.80 L963.62 152.70 L965.31 152.61 L966.93 152.52 L968.50 152.43 L970.01 152.34 L971.49 152.26 L972.94 152.18 L974.36 152.10 L975.77 152.02 L977.17 151.95 L978.58 151.87 L980.00 151.80 L981.55 151.73 L983.01 151.67 L984.40 151.62 L985.76 151.57 L987.12 151.52 L988.51 151.47 L989.96 151.40 L991.51 151.32 L993.18 151.22 L995.00 151.10 L996.12 151.02 L997.30 150.93 L998.54 150.84 L999.84 150.75 L1001.18 150.64 L1002.57 150.54 L1004.01 150.43 L1005.48 150.31 L1006.99 150.20 L1008.53 150.07 L1010.09 149.94 L1011.69 149.81 L1013.30 149.68 L1014.93 149.53 L1016.57 149.39 L1018.22 149.24 L1019.88 149.08 L1021.54 148.93 L1023.20 148.76 L1024.85 148.60 L1026.49 148.43 L1028.12 148.25 L1029.73 148.07 L1031.33 147.89 L1032.90 147.70 L1034.44 147.51 L1035.95 147.32 L1037.42 147.12 L1038.86 146.92 L1040.25 146.71 L1041.60 146.50 L1043.32 146.22 L1045.04 145.92 L1046.74 145.60 L1048.44 145.28 L1050.12 144.94 L1051.78 144.60 L1053.43 144.25 L1055.05 143.89 L1056.65 143.53 L1058.23 143.16 L1059.77 142.79 L1061.28 142.43 L1062.76 142.06 L1064.21 141.70 L1065.61 141.35 L1066.98 141.00 L1068.30 140.65 L1069.57 140.32 L1070.80 140.00 L1072.60 139.53 L1074.30 139.07 L1075.90 138.64 L1077.42 138.20 L1078.88 137.76 L1080.28 137.31 L1081.65 136.82 L1083.00 136.30 L1084.72 135.55 L1086.33 134.76 L1087.87 133.93 L1089.41 133.08 L1091.00 132.20 L1092.50 131.40 L1094.03 130.60 L1095.57 129.78 L1097.10 128.91 L1098.62 127.99 L1100.10 127.00 L1101.43 126.01 L1102.77 124.94 L1104.10 123.82 L1105.40 122.67 L1106.65 121.51 L1107.82 120.38 L1108.90 119.30 L1110.18 117.92 L1111.29 116.58 L1112.36 115.23 L1113.50 113.80 L1114.48 112.54 L1115.49 111.15 L1116.52 109.73 L1117.56 108.36 L1118.59 107.12 L1119.60 106.10 L1121.02 104.90 L1122.42 103.96 L1123.70 103.60 L1125.06 104.10 L1126.20 105.30 L1126.71 106.40 L1127.08 107.82 L1127.34 109.43 L1127.57 111.10 L1127.80 112.70 L1128.05 114.29 L1128.25 115.88 L1128.44 117.50 L1128.62 119.19 L1128.80 121.00 L1128.94 122.38 L1129.06 123.81 L1129.19 125.30 L1129.31 126.82 L1129.43 128.39 L1129.56 130.00 L1129.70 131.64 L1129.84 133.31 L1130.00 135.00 L1130.14 136.46 L1130.29 137.96 L1130.45 139.49 L1130.62 141.06 L1130.79 142.65 L1130.96 144.26 L1131.14 145.89 L1131.32 147.53 L1131.50 149.17 L1131.68 150.80 L1131.85 152.43 L1132.03 154.05 L1132.20 155.65" fill="none" stroke="#000" stroke-width="1.45"/>
<path d="M685.20 155.65 L685.29 157.19 L685.38 158.74 L685.48 160.29 L685.57 161.84 L685.67 163.40 L685.76 164.96 L685.86 166.52 L685.95 168.08 L686.05 169.63 L686.14 171.18 L686.23 172.73 L686.32 174.27 L686.41 175.80 L686.50 177.33 L686.58 178.84 L686.66 180.34 L686.73 181.83 L686.80 183.30 L686.87 184.90 L686.94 186.48 L687.00 188.06 L687.06 189.63 L687.12 191.18 L687.17 192.73 L687.22 194.27 L687.27 195.80 L687.31 197.32 L687.36 198.83 L687.41 200.34 L687.45 201.84 L687.50 203.33 L687.55 204.82 L687.60 206.30 L687.66 207.88 L687.71 209.44 L687.77 210.98 L687.82 212.51 L687.88 214.03 L687.93 215.54 L687.99 217.06 L688.04 218.57 L688.10 220.09 L688.15 221.62 L688.20 223.16 L688.25 224.72 L688.30 226.30 L688.34 227.79 L688.39 229.31 L688.43 230.85 L688.47 232.41 L688.51 233.98 L688.55 235.55 L688.58 237.13 L688.62 238.70 L688.66 240.27 L688.70 241.83 L688.74 243.37 L688.78 244.90 L688.82 246.39 L688.86 247.86 L688.90 249.30 L688.95 250.94 L689.00 252.55 L689.05 254.12 L689.10 255.67 L689.15 257.20 L689.20 258.72 L689.26 260.23 L689.31 261.73 L689.37 263.24 L689.43 264.76 L689.50 266.30 L689.57 267.85 L689.64 269.41 L689.71 270.98 L689.79 272.55 L689.86 274.12 L689.94 275.69 L690.03 277.24 L690.11 278.78 L690.21 280.31 L690.30 281.82 L690.40 283.30 L690.52 284.92 L690.64 286.50 L690.77 288.07 L690.91 289.62 L691.05 291.15 L691.19 292.68 L691.33 294.22 L691.46 295.75 L691.60 297.30 L691.90 299.01 L692.16 300.87 L692.50 302.44 L693.00 303.30 L693.76 303.21 L694.60 302.80 L694.96 301.13 L695.31 299.48 L695.66 297.82 L696.02 296.11 L696.40 294.30 L696.70 292.84 L697.01 291.30 L697.32 289.71 L697.64 288.08 L697.96 286.46 L698.28 284.85 L698.59 283.29 L698.90 281.80 L699.23 280.17 L699.55 278.60 L699.86 277.08 L700.18 275.56 L700.52 274.05 L700.90 272.50 L701.34 270.87 L701.81 269.23 L702.30 267.59 L702.81 265.94 L703.31 264.28 L703.80 262.60 L704.22 261.09 L704.63 259.56 L705.04 258.02 L705.46 256.48 L705.87 254.94 L706.28 253.41 L706.70 251.90 L707.17 250.23 L707.65 248.59 L708.13 246.96 L708.61 245.33 L709.10 243.68 L709.60 242.00 L710.06 240.42 L710.52 238.79 L710.99 237.14 L711.46 235.50 L711.96 233.88 L712.47 232.30 L713.00 230.80 L713.69 229.08 L714.41 227.47 L715.15 225.89 L715.92 224.29 L716.70 222.60 L717.35 221.11 L718.00 219.55 L718.66 217.94 L719.35 216.33 L720.06 214.74 L720.81 213.22 L721.60 211.80 L722.49 210.44 L723.45 209.19 L724.44 207.99 L725.44 206.80 L726.44 205.58 L727.40 204.30 L728.24 203.04 L729.04 201.73 L729.83 200.38 L730.63 199.03 L731.44 197.70 L732.29 196.41 L733.20 195.20 L734.25 193.94 L735.32 192.75 L736.43 191.61 L737.60 190.49 L738.85 189.36 L740.20 188.20 L741.31 187.27 L742.48 186.31 L743.69 185.33 L744.96 184.35 L746.27 183.37 L747.62 182.40 L749.02 181.44 L750.45 180.52 L751.91 179.64 L753.40 178.80 L754.74 178.11 L756.13 177.44 L757.56 176.79 L759.03 176.17 L760.52 175.57 L762.04 174.98 L763.58 174.42 L765.14 173.87 L766.70 173.33 L768.26 172.81 L769.82 172.29 L771.37 171.79 L772.90 171.30 L774.42 170.82 L775.93 170.35 L777.45 169.89 L778.98 169.45 L780.50 169.02 L782.03 168.60 L783.57 168.19 L785.11 167.81 L786.65 167.43 L788.20 167.07 L789.76 166.73 L791.33 166.41 L792.90 166.10 L794.39 165.83 L795.85 165.59 L797.31 165.38 L798.75 165.18 L800.20 165.00 L801.65 164.84 L803.12 164.68 L804.62 164.53 L806.13 164.38 L807.69 164.23 L809.29 164.07 L810.93 163.89 L812.63 163.71 L814.40 163.50 L815.69 163.34 L817.01 163.18 L818.36 163.01 L819.73 162.83 L821.14 162.64 L822.57 162.46 L824.02 162.26 L825.50 162.07 L826.99 161.87 L828.51 161.67 L830.04 161.46 L831.59 161.26 L833.15 161.05 L834.73 160.85 L836.32 160.64 L837.92 160.44 L839.53 160.23 L841.15 160.03 L842.77 159.84 L844.40 159.64 L846.03 159.46 L847.66 159.27 L849.29 159.09 L850.92 158.92 L852.55 158.75 L854.17 158.59 L855.79 158.44 L857.40 158.30 L858.84 158.18 L860.30 158.06 L861.76 157.95 L863.22 157.84 L864.69 157.74 L866.17 157.64 L867.66 157.55 L869.15 157.46 L870.65 157.37 L872.15 157.29 L873.65 157.21 L875.16 157.13 L876.67 157.06 L878.19 156.99 L879.71 156.91 L881.23 156.85 L882.76 156.78 L884.29 156.71 L885.81 156.65 L887.34 156.58 L888.87 156.52 L890.41 156.46 L891.94 156.40 L893.47 156.33 L895.00 156.27 L896.53 156.21 L898.06 156.14 L899.59 156.08 L901.11 156.01 L902.64 155.94 L904.16 155.87 L905.67 155.80 L907.19 155.73 L908.70 155.65 L910.21 155.57 L911.73 155.50 L913.24 155.43 L914.76 155.36 L916.29 155.29 L917.81 155.22 L919.34 155.16 L920.87 155.09 L922.40 155.03 L923.93 154.97 L925.46 154.90 L926.99 154.84 L928.53 154.78 L930.06 154.72 L931.59 154.65 L933.11 154.59 L934.64 154.52 L936.17 154.45 L937.69 154.39 L939.21 154.31 L940.73 154.24 L942.24 154.17 L943.75 154.09 L945.25 154.01 L946.75 153.93 L948.25 153.84 L949.74 153.75 L951.23 153.66 L952.71 153.56 L954.18 153.46 L955.64 153.35 L957.10 153.24 L958.56 153.12 L960.00 153.00 L961.61 152.86 L963.23 152.71 L964.85 152.55 L966.48 152.38 L968.11 152.21 L969.74 152.03 L971.37 151.84 L973.00 151.66 L974.63 151.46 L976.25 151.27 L977.87 151.07 L979.48 150.86 L981.08 150.66 L982.67 150.45 L984.25 150.25 L985.81 150.04 L987.36 149.84 L988.89 149.63 L990.41 149.43 L991.90 149.23 L993.38 149.04 L994.83 148.84 L996.26 148.66 L997.67 148.47 L999.04 148.29 L1000.39 148.12 L1001.71 147.96 L1003.00 147.80 L1004.77 147.59 L1006.47 147.41 L1008.11 147.23 L1009.71 147.07 L1011.27 146.92 L1012.78 146.77 L1014.28 146.62 L1015.75 146.46 L1017.20 146.30 L1018.65 146.12 L1020.09 145.92 L1021.55 145.71 L1023.01 145.47 L1024.50 145.20 L1026.07 144.89 L1027.64 144.57 L1029.20 144.23 L1030.75 143.87 L1032.29 143.49 L1033.83 143.11 L1035.37 142.70 L1036.90 142.28 L1038.42 141.85 L1039.95 141.41 L1041.47 140.95 L1042.98 140.48 L1044.50 140.00 L1046.03 139.51 L1047.58 139.01 L1049.14 138.49 L1050.70 137.97 L1052.26 137.43 L1053.82 136.88 L1055.36 136.32 L1056.88 135.73 L1058.37 135.13 L1059.84 134.51 L1061.27 133.86 L1062.66 133.19 L1064.00 132.50 L1065.49 131.66 L1066.95 130.78 L1068.38 129.86 L1069.78 128.90 L1071.13 127.93 L1072.44 126.95 L1073.71 125.97 L1074.92 124.99 L1076.09 124.03 L1077.20 123.10 L1078.55 121.94 L1079.80 120.81 L1080.97 119.69 L1082.08 118.55 L1083.15 117.36 L1084.20 116.10 L1085.11 114.89 L1085.96 113.60 L1086.77 112.27 L1087.57 110.92 L1088.36 109.57 L1089.16 108.26 L1090.00 107.00 L1090.96 105.72 L1091.96 104.50 L1092.96 103.31 L1093.95 102.11 L1094.91 100.86 L1095.80 99.50 L1096.59 98.08 L1097.34 96.56 L1098.05 94.97 L1098.74 93.36 L1099.40 91.75 L1100.05 90.19 L1100.70 88.70 L1101.48 87.01 L1102.25 85.41 L1102.99 83.83 L1103.71 82.22 L1104.40 80.50 L1104.93 79.00 L1105.44 77.42 L1105.94 75.80 L1106.41 74.16 L1106.88 72.51 L1107.34 70.88 L1107.80 69.30 L1108.30 67.62 L1108.79 65.97 L1109.27 64.34 L1109.75 62.71 L1110.23 61.07 L1110.70 59.40 L1111.12 57.89 L1111.53 56.36 L1111.94 54.82 L1112.36 53.28 L1112.77 51.74 L1113.18 50.21 L1113.60 48.70 L1114.09 47.02 L1114.59 45.36 L1115.10 43.71 L1115.59 42.07 L1116.06 40.43 L1116.50 38.80 L1116.87 37.24 L1117.20 35.70 L1117.51 34.17 L1117.81 32.63 L1118.14 31.08 L1118.50 29.50 L1118.88 27.98 L1119.28 26.37 L1119.70 24.74 L1120.13 23.12 L1120.57 21.59 L1120.99 20.20 L1121.40 19.00 L1122.21 17.12 L1123.00 15.50 L1123.88 15.74 L1124.70 16.20 L1125.27 17.24 L1125.70 18.73 L1126.09 20.41 L1126.50 22.00 L1126.63 23.49 L1126.76 24.96 L1126.89 26.42 L1127.02 27.89 L1127.15 29.37 L1127.28 30.88 L1127.39 32.42 L1127.50 34.00 L1127.59 35.50 L1127.67 37.04 L1127.75 38.61 L1127.83 40.21 L1127.89 41.82 L1127.96 43.45 L1128.02 45.09 L1128.08 46.73 L1128.14 48.37 L1128.20 50.00 L1128.25 51.52 L1128.30 53.02 L1128.35 54.53 L1128.40 56.04 L1128.44 57.55 L1128.48 59.07 L1128.53 60.61 L1128.57 62.16 L1128.61 63.75 L1128.65 65.36 L1128.70 67.00 L1128.74 68.44 L1128.78 69.91 L1128.82 71.40 L1128.85 72.93 L1128.89 74.47 L1128.93 76.03 L1128.97 77.60 L1129.01 79.17 L1129.05 80.75 L1129.09 82.32 L1129.13 83.89 L1129.17 85.45 L1129.21 86.99 L1129.26 88.51 L1129.30 90.00 L1129.35 91.58 L1129.40 93.15 L1129.45 94.71 L1129.50 96.26 L1129.55 97.79 L1129.61 99.32 L1129.66 100.85 L1129.72 102.37 L1129.77 103.89 L1129.83 105.41 L1129.89 106.94 L1129.94 108.47 L1130.00 110.00 L1130.06 111.53 L1130.11 113.05 L1130.17 114.56 L1130.23 116.07 L1130.28 117.58 L1130.34 119.09 L1130.40 120.60 L1130.46 122.13 L1130.52 123.66 L1130.59 125.22 L1130.65 126.79 L1130.72 128.38 L1130.80 130.00 L1130.87 131.43 L1130.94 132.87 L1131.02 134.34 L1131.09 135.82 L1131.17 137.31 L1131.26 138.82 L1131.34 140.34 L1131.42 141.86 L1131.51 143.39 L1131.60 144.93 L1131.68 146.47 L1131.77 148.01 L1131.86 149.55 L1131.95 151.08 L1132.03 152.61 L1132.12 154.14 L1132.20 155.65" fill="none" stroke="#000" stroke-width="1.45" stroke-dasharray="10 11" stroke-dashoffset="5.93"/>
<path d="M685.20 155.65 L685.29 157.21 L685.38 158.79 L685.46 160.38 L685.55 161.98 L685.64 163.59 L685.73 165.21 L685.82 166.83 L685.91 168.45 L686.00 170.08 L686.09 171.70 L686.18 173.31 L686.27 174.92 L686.36 176.51 L686.45 178.09 L686.54 179.66 L686.62 181.20 L686.71 182.73 L686.80 184.23 L686.88 185.71 L686.96 187.15 L687.04 188.57 L687.12 189.95 L687.20 191.30 L687.30 193.04 L687.40 194.75 L687.49 196.43 L687.58 198.07 L687.67 199.68 L687.76 201.26 L687.85 202.80 L687.94 204.30 L688.03 205.77 L688.12 207.21 L688.21 208.61 L688.30 209.97 L688.40 211.30 L688.53 213.11 L688.64 214.91 L688.75 216.66 L688.87 218.31 L689.01 219.83 L689.18 221.17 L689.40 222.30 L689.84 223.96 L690.40 224.80 L691.11 224.14 L691.90 222.80 L692.52 221.67 L693.15 220.35 L693.81 218.87 L694.50 217.30 L695.05 215.98 L695.61 214.54 L696.18 213.03 L696.77 211.46 L697.38 209.90 L698.03 208.36 L698.70 206.90 L699.39 205.54 L700.11 204.21 L700.86 202.90 L701.63 201.61 L702.41 200.33 L703.21 199.06 L704.00 197.80 L704.91 196.36 L705.82 194.93 L706.75 193.51 L707.69 192.11 L708.68 190.74 L709.70 189.40 L710.77 188.09 L711.88 186.82 L713.03 185.57 L714.20 184.33 L715.39 183.11 L716.60 181.90 L717.66 180.83 L718.74 179.76 L719.82 178.69 L720.93 177.64 L722.06 176.62 L723.21 175.64 L724.40 174.70 L725.60 173.81 L726.79 172.97 L728.01 172.15 L729.27 171.37 L730.57 170.62 L731.95 169.90 L733.40 169.20 L734.72 168.62 L736.11 168.06 L737.54 167.52 L739.02 167.01 L740.55 166.51 L742.11 166.04 L743.70 165.58 L745.31 165.14 L746.95 164.71 L748.60 164.30 L749.98 163.98 L751.38 163.67 L752.82 163.37 L754.28 163.09 L755.76 162.82 L757.25 162.57 L758.77 162.32 L760.29 162.08 L761.81 161.85 L763.34 161.63 L764.87 161.42 L766.39 161.21 L767.90 161.00 L769.40 160.80 L770.89 160.60 L772.39 160.42 L773.89 160.24 L775.38 160.06 L776.88 159.90 L778.38 159.74 L779.89 159.59 L781.39 159.44 L782.89 159.30 L784.39 159.17 L785.89 159.05 L787.40 158.92 L788.90 158.81 L790.40 158.70 L791.90 158.60 L793.40 158.51 L794.90 158.42 L796.40 158.35 L797.90 158.28 L799.40 158.21 L800.90 158.16 L802.40 158.10 L803.90 158.05 L805.40 158.00 L806.90 157.95 L808.40 157.90 L809.90 157.85 L811.40 157.80 L812.90 157.75 L814.38 157.70 L815.87 157.65 L817.35 157.61 L818.82 157.56 L820.30 157.52 L821.79 157.48 L823.27 157.44 L824.76 157.40 L826.27 157.36 L827.78 157.32 L829.30 157.28 L830.84 157.24 L832.40 157.20 L833.89 157.16 L835.36 157.12 L836.83 157.08 L838.29 157.05 L839.75 157.01 L841.22 156.97 L842.71 156.94 L844.21 156.90 L845.73 156.86 L847.28 156.83 L848.86 156.79 L850.47 156.75 L852.13 156.71 L853.83 156.68 L855.59 156.64 L857.40 156.60 L858.66 156.57 L859.94 156.55 L861.26 156.52 L862.60 156.49 L863.97 156.47 L865.36 156.44 L866.78 156.41 L868.22 156.38 L869.67 156.36 L871.15 156.33 L872.65 156.30 L874.16 156.27 L875.68 156.24 L877.22 156.22 L878.78 156.19 L880.34 156.16 L881.91 156.13 L883.49 156.10 L885.08 156.07 L886.67 156.05 L888.26 156.02 L889.86 155.99 L891.46 155.96 L893.05 155.93 L894.65 155.90 L896.24 155.88 L897.83 155.85 L899.41 155.82 L900.99 155.79 L902.55 155.76 L904.11 155.73 L905.65 155.71 L907.18 155.68 L908.70 155.65 L910.22 155.62 L911.75 155.59 L913.29 155.57 L914.85 155.54 L916.41 155.51 L917.99 155.48 L919.57 155.45 L921.16 155.42 L922.75 155.40 L924.35 155.37 L925.94 155.34 L927.54 155.31 L929.14 155.28 L930.73 155.25 L932.32 155.23 L933.91 155.20 L935.49 155.17 L937.06 155.14 L938.62 155.11 L940.18 155.08 L941.72 155.06 L943.24 155.03 L944.75 155.00 L946.25 154.97 L947.73 154.94 L949.18 154.92 L950.62 154.89 L952.04 154.86 L953.43 154.83 L954.80 154.81 L956.14 154.78 L957.46 154.75 L958.74 154.73 L960.00 154.70 L961.81 154.66 L963.57 154.62 L965.27 154.59 L966.93 154.55 L968.54 154.51 L970.12 154.47 L971.67 154.44 L973.19 154.40 L974.69 154.36 L976.18 154.33 L977.65 154.29 L979.11 154.25 L980.57 154.22 L982.04 154.18 L983.51 154.14 L985.00 154.10 L986.56 154.06 L988.10 154.02 L989.62 153.98 L991.13 153.94 L992.64 153.90 L994.13 153.86 L995.61 153.82 L997.10 153.78 L998.58 153.74 L1000.05 153.69 L1001.53 153.65 L1003.02 153.60 L1004.50 153.55 L1006.00 153.50 L1007.50 153.45 L1009.00 153.40 L1010.50 153.35 L1012.00 153.30 L1013.50 153.25 L1015.00 153.20 L1016.50 153.14 L1018.00 153.09 L1019.50 153.02 L1021.00 152.95 L1022.50 152.88 L1024.00 152.79 L1025.50 152.70 L1027.00 152.60 L1028.50 152.49 L1030.00 152.38 L1031.51 152.25 L1033.01 152.13 L1034.51 152.00 L1036.01 151.86 L1037.51 151.71 L1039.02 151.56 L1040.52 151.40 L1042.02 151.24 L1043.51 151.06 L1045.01 150.88 L1046.51 150.70 L1048.00 150.50 L1049.50 150.30 L1051.01 150.09 L1052.53 149.88 L1054.06 149.67 L1055.59 149.45 L1057.11 149.22 L1058.63 148.98 L1060.15 148.73 L1061.64 148.48 L1063.12 148.21 L1064.58 147.93 L1066.02 147.63 L1067.42 147.32 L1068.80 147.00 L1070.45 146.59 L1072.09 146.16 L1073.70 145.72 L1075.29 145.26 L1076.85 144.79 L1078.38 144.29 L1079.86 143.78 L1081.29 143.24 L1082.68 142.68 L1084.00 142.10 L1085.45 141.40 L1086.83 140.68 L1088.13 139.93 L1089.39 139.15 L1090.61 138.33 L1091.80 137.49 L1093.00 136.60 L1094.19 135.66 L1095.34 134.68 L1096.47 133.66 L1097.58 132.61 L1098.66 131.54 L1099.74 130.47 L1100.80 129.40 L1102.01 128.19 L1103.20 126.97 L1104.37 125.73 L1105.52 124.48 L1106.63 123.21 L1107.70 121.90 L1108.72 120.56 L1109.71 119.19 L1110.65 117.79 L1111.58 116.37 L1112.49 114.94 L1113.40 113.50 L1114.19 112.24 L1114.99 110.97 L1115.77 109.69 L1116.54 108.40 L1117.29 107.09 L1118.01 105.76 L1118.70 104.40 L1119.37 102.94 L1120.02 101.40 L1120.63 99.84 L1121.22 98.27 L1121.79 96.76 L1122.35 95.32 L1122.90 94.00 L1123.59 92.43 L1124.25 90.95 L1124.88 89.63 L1125.50 88.50 L1126.29 87.16 L1127.00 86.50 L1127.56 87.34 L1128.00 89.00 L1128.22 90.13 L1128.39 91.47 L1128.53 92.99 L1128.65 94.64 L1128.76 96.39 L1128.87 98.19 L1129.00 100.00 L1129.10 101.33 L1129.19 102.69 L1129.28 104.09 L1129.37 105.53 L1129.46 107.00 L1129.55 108.50 L1129.64 110.04 L1129.73 111.62 L1129.82 113.23 L1129.91 114.87 L1130.00 116.55 L1130.10 118.26 L1130.20 120.00 L1130.28 121.35 L1130.36 122.73 L1130.44 124.15 L1130.52 125.59 L1130.60 127.07 L1130.69 128.57 L1130.78 130.10 L1130.86 131.64 L1130.95 133.21 L1131.04 134.79 L1131.13 136.38 L1131.22 137.99 L1131.31 139.60 L1131.40 141.22 L1131.49 142.85 L1131.58 144.47 L1131.67 146.09 L1131.76 147.71 L1131.85 149.32 L1131.94 150.92 L1132.02 152.51 L1132.11 154.09 L1132.20 155.65" fill="none" stroke="#000" stroke-width="1.45" stroke-dasharray="10 11" stroke-dashoffset="9.17"/>
<path d="M685.20 155.65 L685.59 157.41 L685.98 159.16 L686.40 160.80 L686.91 162.72 L687.60 164.30 L688.43 165.24 L689.40 165.70 L690.59 165.07 L691.90 164.00 L693.56 162.97 L695.40 162.00 L696.95 161.36 L698.62 160.79 L700.40 160.30 L702.01 159.98 L703.69 159.74 L705.45 159.53 L707.30 159.30 L708.90 159.10 L710.57 158.90 L712.31 158.70 L714.08 158.50 L715.85 158.30 L717.60 158.10 L719.10 157.92 L720.61 157.74 L722.12 157.55 L723.64 157.37 L725.15 157.20 L726.68 157.04 L728.20 156.90 L729.75 156.78 L731.32 156.68 L732.89 156.58 L734.46 156.50 L736.02 156.43 L737.57 156.36 L739.10 156.30 L740.74 156.23 L742.32 156.18 L743.89 156.13 L745.49 156.09 L747.18 156.04 L749.00 156.00 L750.31 155.97 L751.63 155.94 L752.99 155.91 L754.38 155.89 L755.81 155.86 L757.28 155.83 L758.81 155.81 L760.39 155.79 L762.03 155.76 L763.75 155.74 L765.53 155.72 L767.40 155.70 L768.57 155.69 L769.79 155.68 L771.05 155.67 L772.35 155.66 L773.69 155.65 L775.08 155.64 L776.49 155.63 L777.94 155.62 L779.42 155.61 L780.93 155.61 L782.46 155.60 L784.01 155.59 L785.59 155.58 L787.18 155.58 L788.79 155.57 L790.40 155.57 L792.03 155.56 L793.67 155.56 L795.31 155.55 L796.95 155.55 L798.60 155.54 L800.24 155.54 L801.88 155.53 L803.50 155.53 L805.12 155.53 L806.73 155.52 L808.32 155.52 L809.89 155.52 L811.44 155.51 L812.97 155.51 L814.48 155.51 L815.95 155.50 L817.40 155.50 L819.01 155.50 L820.61 155.49 L822.19 155.49 L823.75 155.49 L825.30 155.49 L826.83 155.49 L828.36 155.48 L829.87 155.48 L831.38 155.48 L832.88 155.48 L834.38 155.48 L835.87 155.48 L837.37 155.48 L838.86 155.48 L840.36 155.48 L841.86 155.48 L843.36 155.48 L844.87 155.49 L846.39 155.49 L847.92 155.49 L849.46 155.49 L851.02 155.49 L852.59 155.49 L854.17 155.50 L855.78 155.50 L857.40 155.50 L858.82 155.50 L860.25 155.50 L861.69 155.51 L863.14 155.51 L864.60 155.51 L866.07 155.52 L867.55 155.52 L869.03 155.52 L870.52 155.53 L872.02 155.53 L873.53 155.54 L875.03 155.54 L876.55 155.55 L878.07 155.55 L879.59 155.56 L881.12 155.56 L882.65 155.57 L884.19 155.57 L885.72 155.58 L887.26 155.58 L888.80 155.59 L890.34 155.59 L891.88 155.60 L893.42 155.60 L894.96 155.61 L896.49 155.61 L898.03 155.62 L899.57 155.62 L901.10 155.63 L902.63 155.63 L904.15 155.64 L905.67 155.64 L907.19 155.65 L908.70 155.65 L910.21 155.65 L911.73 155.66 L913.25 155.66 L914.77 155.67 L916.30 155.67 L917.83 155.68 L919.37 155.68 L920.91 155.69 L922.44 155.69 L923.98 155.70 L925.52 155.70 L927.06 155.71 L928.60 155.71 L930.14 155.72 L931.68 155.72 L933.21 155.73 L934.75 155.73 L936.28 155.74 L937.81 155.74 L939.33 155.75 L940.85 155.75 L942.37 155.76 L943.87 155.76 L945.38 155.77 L946.88 155.77 L948.37 155.78 L949.85 155.78 L951.33 155.78 L952.80 155.79 L954.26 155.79 L955.71 155.79 L957.15 155.80 L958.58 155.80 L960.00 155.80 L961.62 155.80 L963.23 155.80 L964.81 155.81 L966.38 155.81 L967.94 155.81 L969.48 155.81 L971.01 155.81 L972.53 155.81 L974.04 155.82 L975.54 155.82 L977.04 155.82 L978.54 155.82 L980.03 155.82 L981.53 155.82 L983.02 155.82 L984.52 155.82 L986.02 155.82 L987.53 155.82 L989.04 155.82 L990.57 155.81 L992.10 155.81 L993.65 155.81 L995.21 155.81 L996.79 155.81 L998.39 155.80 L1000.00 155.80 L1001.45 155.80 L1002.92 155.79 L1004.43 155.79 L1005.96 155.79 L1007.51 155.78 L1009.08 155.78 L1010.67 155.78 L1012.28 155.77 L1013.90 155.77 L1015.52 155.77 L1017.16 155.76 L1018.80 155.76 L1020.45 155.75 L1022.09 155.75 L1023.73 155.74 L1025.37 155.74 L1027.00 155.73 L1028.61 155.73 L1030.22 155.72 L1031.81 155.72 L1033.39 155.71 L1034.94 155.70 L1036.47 155.69 L1037.98 155.69 L1039.46 155.68 L1040.91 155.67 L1042.32 155.66 L1043.71 155.65 L1045.05 155.64 L1046.35 155.63 L1047.61 155.62 L1048.83 155.61 L1050.00 155.60 L1051.87 155.58 L1053.65 155.56 L1055.37 155.54 L1057.01 155.51 L1058.59 155.49 L1060.12 155.47 L1061.59 155.44 L1063.02 155.41 L1064.41 155.39 L1065.77 155.36 L1067.09 155.33 L1068.40 155.30 L1070.22 155.26 L1071.91 155.21 L1073.51 155.17 L1075.08 155.12 L1076.66 155.07 L1078.30 155.00 L1079.83 154.94 L1081.38 154.87 L1082.94 154.80 L1084.51 154.72 L1086.08 154.62 L1087.65 154.52 L1089.20 154.40 L1090.72 154.26 L1092.25 154.10 L1093.76 153.93 L1095.28 153.75 L1096.79 153.56 L1098.30 153.38 L1099.80 153.20 L1101.55 153.00 L1103.32 152.80 L1105.09 152.60 L1106.83 152.40 L1108.50 152.20 L1110.10 152.00 L1111.95 151.77 L1113.71 151.56 L1115.39 151.32 L1117.00 151.00 L1118.78 150.51 L1120.45 149.94 L1122.00 149.30 L1123.84 148.33 L1125.50 147.30 L1126.81 146.23 L1128.00 145.60 L1128.97 146.06 L1129.80 147.00 L1130.49 148.58 L1131.00 150.50 L1131.42 152.14 L1131.81 153.89 L1132.20 155.65" fill="none" stroke="#000" stroke-width="1.45" stroke-dasharray="10 11" stroke-dashoffset="7.25"/>
<path d="M102.20 659.40 L102.26 657.88 L102.32 656.35 L102.38 654.82 L102.44 653.30 L102.50 651.77 L102.56 650.24 L102.63 648.71 L102.69 647.18 L102.75 645.65 L102.81 644.11 L102.88 642.58 L102.94 641.05 L103.00 639.52 L103.07 637.98 L103.13 636.45 L103.19 634.92 L103.25 633.39 L103.32 631.85 L103.38 630.32 L103.44 628.79 L103.50 627.26 L103.56 625.73 L103.63 624.21 L103.69 622.68 L103.75 621.16 L103.80 619.63 L103.86 618.11 L103.92 616.59 L103.98 615.07 L104.04 613.55 L104.09 612.04 L104.15 610.52 L104.20 609.01 L104.25 607.50 L104.30 606.00 L104.35 604.49 L104.40 602.99 L104.45 601.50 L104.50 600.00 L104.55 598.45 L104.59 596.90 L104.64 595.35 L104.68 593.81 L104.73 592.27 L104.77 590.74 L104.81 589.21 L104.85 587.68 L104.89 586.16 L104.93 584.64 L104.96 583.12 L105.00 581.60 L105.04 580.08 L105.07 578.57 L105.11 577.06 L105.14 575.54 L105.18 574.03 L105.21 572.52 L105.24 571.01 L105.28 569.49 L105.31 567.98 L105.34 566.47 L105.37 564.95 L105.40 563.43 L105.44 561.91 L105.47 560.39 L105.50 558.87 L105.53 557.34 L105.56 555.81 L105.60 554.28 L105.63 552.74 L105.66 551.20 L105.70 549.66 L105.73 548.11 L105.76 546.56 L105.80 545.00 L105.83 543.53 L105.87 542.05 L105.90 540.56 L105.93 539.06 L105.97 537.56 L106.00 536.05 L106.03 534.53 L106.06 533.01 L106.10 531.49 L106.13 529.96 L106.16 528.42 L106.19 526.89 L106.23 525.35 L106.26 523.81 L106.29 522.27 L106.32 520.72 L106.36 519.18 L106.39 517.64 L106.42 516.10 L106.45 514.56 L106.49 513.02 L106.52 511.49 L106.55 509.95 L106.58 508.43 L106.62 506.90 L106.65 505.39 L106.68 503.88 L106.71 502.37 L106.74 500.87 L106.78 499.38 L106.81 497.90 L106.84 496.42 L106.87 494.96 L106.91 493.50 L106.94 492.05 L106.97 490.62 L107.00 489.20 L107.04 487.78 L107.07 486.39 L107.10 485.00 L107.14 483.33 L107.18 481.68 L107.22 480.05 L107.26 478.42 L107.30 476.82 L107.34 475.22 L107.37 473.64 L107.41 472.06 L107.45 470.50 L107.49 468.94 L107.53 467.40 L107.57 465.86 L107.61 464.33 L107.65 462.80 L107.69 461.28 L107.73 459.77 L107.77 458.25 L107.81 456.74 L107.84 455.24 L107.88 453.73 L107.92 452.22 L107.96 450.71 L108.00 449.20 L108.04 447.69 L108.08 446.17 L108.12 444.66 L108.16 443.13 L108.20 441.60 L108.24 440.03 L108.28 438.44 L108.32 436.83 L108.36 435.21 L108.40 433.57 L108.44 431.92 L108.48 430.27 L108.52 428.61 L108.56 426.95 L108.60 425.29 L108.64 423.63 L108.69 421.98 L108.73 420.34 L108.77 418.71 L108.81 417.10 L108.85 415.51 L108.89 413.94 L108.93 412.39 L108.97 410.87 L109.01 409.38 L109.05 407.92 L109.09 406.49 L109.13 405.11 L109.18 403.76 L109.22 402.46 L109.26 401.21 L109.30 400.00 L109.36 398.06 L109.42 396.20 L109.48 394.42 L109.53 392.71 L109.58 391.08 L109.64 389.52 L109.71 388.03 L109.79 386.62 L109.89 385.27 L110.00 384.00 L110.22 382.19 L110.47 380.62 L110.74 379.13 L111.00 377.60 L112.29 378.69 L113.50 380.00 L114.20 381.23 L114.82 382.66 L115.36 384.27 L115.80 386.00 L116.04 387.43 L116.19 388.98 L116.27 390.61 L116.32 392.31 L116.36 394.05 L116.41 395.79 L116.50 397.50 L116.62 399.07 L116.75 400.65 L116.89 402.23 L117.03 403.83 L117.18 405.45 L117.32 407.10 L117.46 408.78 L117.60 410.50 L117.71 412.00 L117.82 413.55 L117.94 415.14 L118.05 416.76 L118.15 418.40 L118.26 420.05 L118.37 421.69 L118.48 423.32 L118.59 424.92 L118.69 426.48 L118.80 428.00 L118.91 429.59 L119.02 431.15 L119.13 432.68 L119.24 434.19 L119.35 435.68 L119.46 437.17 L119.57 438.64 L119.68 440.12 L119.80 441.60 L119.93 443.21 L120.07 444.80 L120.20 446.38 L120.34 447.96 L120.48 449.54 L120.62 451.12 L120.76 452.70 L120.90 454.30 L121.04 455.94 L121.18 457.58 L121.31 459.23 L121.45 460.88 L121.59 462.54 L121.73 464.19 L121.86 465.85 L122.00 467.50 L122.13 469.15 L122.26 470.80 L122.39 472.45 L122.52 474.10 L122.65 475.76 L122.79 477.41 L122.94 479.05 L123.10 480.70 L123.28 482.34 L123.46 483.97 L123.66 485.59 L123.87 487.22 L124.08 488.85 L124.29 490.49 L124.50 492.14 L124.70 493.80 L124.89 495.37 L125.08 496.97 L125.28 498.59 L125.48 500.21 L125.68 501.84 L125.87 503.45 L126.05 505.04 L126.23 506.59 L126.40 508.10 L126.57 509.72 L126.72 511.27 L126.86 512.77 L127.00 514.27 L127.14 515.80 L127.31 517.40 L127.50 519.10 L127.67 520.47 L127.85 521.94 L128.04 523.47 L128.24 525.06 L128.46 526.67 L128.68 528.30 L128.90 529.92 L129.12 531.51 L129.35 533.05 L129.57 534.53 L129.79 535.92 L130.00 537.20 L130.34 539.09 L130.68 540.77 L131.02 542.37 L131.36 543.97 L131.70 545.70 L131.98 547.24 L132.26 548.83 L132.53 550.47 L132.81 552.12 L133.09 553.78 L133.39 555.41 L133.70 557.00 L134.05 558.68 L134.41 560.31 L134.77 561.92 L135.16 563.55 L135.56 565.23 L136.00 567.00 L136.35 568.39 L136.71 569.84 L137.09 571.34 L137.49 572.87 L137.89 574.43 L138.31 575.99 L138.73 577.54 L139.15 579.07 L139.58 580.56 L140.00 582.00 L140.48 583.59 L140.96 585.16 L141.45 586.72 L141.95 588.26 L142.45 589.76 L142.96 591.22 L143.47 592.64 L144.00 594.00 L144.68 595.70 L145.35 597.29 L146.04 598.83 L146.81 600.38 L147.70 602.00 L148.47 603.31 L149.28 604.66 L150.15 606.03 L151.07 607.41 L152.06 608.81 L153.10 610.21 L154.22 611.61 L155.40 613.00 L156.36 614.07 L157.39 615.15 L158.47 616.25 L159.60 617.37 L160.76 618.48 L161.96 619.59 L163.19 620.69 L164.43 621.78 L165.69 622.85 L166.95 623.89 L168.21 624.90 L169.46 625.87 L170.70 626.80 L172.06 627.77 L173.43 628.71 L174.81 629.60 L176.21 630.46 L177.61 631.30 L179.02 632.11 L180.44 632.90 L181.85 633.68 L183.27 634.46 L184.69 635.23 L186.10 636.00 L187.48 636.76 L188.86 637.52 L190.24 638.27 L191.62 639.02 L193.00 639.76 L194.39 640.47 L195.78 641.17 L197.18 641.85 L198.58 642.50 L199.99 643.12 L201.40 643.70 L202.90 644.28 L204.39 644.81 L205.87 645.31 L207.36 645.78 L208.85 646.22 L210.37 646.65 L211.91 647.06 L213.50 647.47 L215.12 647.88 L216.80 648.30 L218.20 648.64 L219.62 648.98 L221.07 649.32 L222.55 649.65 L224.05 649.98 L225.57 650.31 L227.11 650.63 L228.68 650.94 L230.25 651.25 L231.85 651.55 L233.46 651.84 L235.08 652.12 L236.71 652.39 L238.35 652.65 L240.00 652.90 L241.41 653.10 L242.84 653.30 L244.28 653.48 L245.74 653.66 L247.21 653.83 L248.70 654.00 L250.20 654.15 L251.71 654.31 L253.22 654.45 L254.74 654.60 L256.27 654.73 L257.80 654.86 L259.34 654.99 L260.87 655.12 L262.40 655.24 L263.93 655.35 L265.46 655.47 L266.98 655.58 L268.49 655.69 L270.00 655.80 L271.50 655.90 L273.01 656.01 L274.52 656.10 L276.03 656.19 L277.55 656.28 L279.07 656.36 L280.59 656.44 L282.11 656.52 L283.62 656.59 L285.14 656.66 L286.65 656.72 L288.16 656.78 L289.67 656.84 L291.17 656.90 L292.66 656.96 L294.14 657.01 L295.62 657.06 L297.09 657.11 L298.55 657.15 L300.00 657.20 L301.57 657.25 L303.12 657.29 L304.66 657.33 L306.19 657.37 L307.72 657.41 L309.23 657.44 L310.74 657.47 L312.25 657.49 L313.75 657.52 L315.24 657.54 L316.74 657.55 L318.24 657.57 L319.73 657.58 L321.23 657.59 L322.73 657.59 L324.24 657.60 L325.75 657.60 L327.26 657.60 L328.77 657.59 L330.27 657.59 L331.77 657.58 L333.26 657.57 L334.76 657.55 L336.26 657.54 L337.75 657.52 L339.25 657.49 L340.76 657.47 L342.27 657.44 L343.78 657.41 L345.31 657.37 L346.84 657.33 L348.38 657.29 L349.93 657.25 L351.50 657.20 L352.95 657.15 L354.41 657.11 L355.88 657.06 L357.36 657.01 L358.84 656.96 L360.33 656.90 L361.83 656.84 L363.34 656.78 L364.85 656.72 L366.36 656.66 L367.88 656.59 L369.39 656.52 L370.91 656.44 L372.43 656.36 L373.95 656.28 L375.47 656.19 L376.98 656.10 L378.49 656.01 L380.00 655.90 L381.50 655.80 L383.01 655.69 L384.52 655.58 L386.04 655.47 L387.57 655.35 L389.10 655.24 L390.63 655.12 L392.16 654.99 L393.70 654.86 L395.23 654.73 L396.76 654.60 L398.28 654.45 L399.79 654.31 L401.30 654.15 L402.80 654.00 L404.29 653.83 L405.76 653.66 L407.22 653.48 L408.66 653.30 L410.09 653.10 L411.50 652.90 L413.15 652.65 L414.79 652.39 L416.42 652.12 L418.04 651.84 L419.65 651.55 L421.25 651.25 L422.82 650.94 L424.39 650.63 L425.93 650.31 L427.45 649.98 L428.95 649.65 L430.43 649.32 L431.88 648.98 L433.30 648.64 L434.70 648.30 L436.38 647.88 L438.00 647.47 L439.59 647.06 L441.13 646.65 L442.65 646.22 L444.14 645.78 L445.63 645.31 L447.11 644.81 L448.60 644.28 L450.10 643.70 L451.51 643.12 L452.92 642.50 L454.32 641.85 L455.72 641.17 L457.11 640.47 L458.50 639.76 L459.88 639.02 L461.26 638.27 L462.64 637.52 L464.02 636.76 L465.40 636.00 L466.82 635.23 L468.24 634.48 L469.66 633.73 L471.09 632.98 L472.51 632.21 L473.93 631.42 L475.34 630.60 L476.73 629.73 L478.11 628.82 L479.46 627.84 L480.80 626.80 L481.89 625.88 L482.99 624.91 L484.09 623.89 L485.18 622.83 L486.27 621.74 L487.34 620.61 L488.41 619.46 L489.46 618.29 L490.49 617.11 L491.50 615.92 L492.48 614.72 L493.43 613.52 L494.36 612.34 L495.25 611.16 L496.10 610.00 L497.01 608.72 L497.88 607.43 L498.72 606.13 L499.53 604.83 L500.31 603.52 L501.06 602.21 L501.78 600.90 L502.47 599.58 L503.14 598.26 L503.78 596.94 L504.40 595.62 L505.00 594.30 L505.63 592.82 L506.20 591.32 L506.73 589.82 L507.22 588.32 L507.69 586.82 L508.15 585.32 L508.59 583.82 L509.04 582.34 L509.51 580.86 L510.00 579.40 L510.55 577.85 L511.12 576.31 L511.71 574.77 L512.29 573.25 L512.87 571.73 L513.43 570.22 L513.96 568.73 L514.45 567.26 L514.90 565.80 L515.35 564.16 L515.74 562.54 L516.09 560.94 L516.42 559.36 L516.73 557.80 L517.06 556.24 L517.40 554.70 L517.81 553.04 L518.22 551.43 L518.64 549.84 L519.05 548.23 L519.44 546.56 L519.80 544.80 L520.06 543.32 L520.30 541.80 L520.52 540.24 L520.72 538.65 L520.92 537.02 L521.11 535.37 L521.31 533.69 L521.50 532.00 L521.70 530.30 L521.87 528.86 L522.04 527.39 L522.21 525.92 L522.37 524.42 L522.54 522.91 L522.70 521.39 L522.87 519.85 L523.03 518.30 L523.20 516.74 L523.36 515.17 L523.53 513.59 L523.70 512.00 L523.86 510.49 L524.02 508.95 L524.18 507.40 L524.35 505.83 L524.51 504.25 L524.67 502.66 L524.84 501.06 L525.00 499.46 L525.17 497.86 L525.33 496.27 L525.50 494.68 L525.66 493.10 L525.83 491.54 L526.00 490.00 L526.17 488.43 L526.35 486.88 L526.53 485.33 L526.71 483.80 L526.89 482.27 L527.08 480.75 L527.26 479.23 L527.44 477.71 L527.62 476.18 L527.79 474.65 L527.97 473.11 L528.13 471.56 L528.30 470.00 L528.46 468.47 L528.62 466.91 L528.78 465.33 L528.94 463.73 L529.09 462.13 L529.25 460.52 L529.40 458.91 L529.55 457.32 L529.69 455.75 L529.83 454.20 L529.96 452.68 L530.08 451.21 L530.20 449.78 L530.30 448.40 L530.42 446.62 L530.52 444.92 L530.59 443.29 L530.67 441.70 L530.73 440.13 L530.81 438.57 L530.89 437.00 L531.00 435.40 L531.13 433.77 L531.27 432.15 L531.42 430.52 L531.58 428.90 L531.74 427.27 L531.90 425.65 L532.06 424.03 L532.20 422.40 L532.34 420.78 L532.47 419.15 L532.60 417.52 L532.72 415.90 L532.85 414.27 L532.97 412.65 L533.09 411.02 L533.20 409.40 L533.30 407.77 L533.40 406.12 L533.48 404.46 L533.56 402.81 L533.65 401.18 L533.75 399.57 L533.86 398.01 L534.00 396.50 L534.18 394.86 L534.39 393.27 L534.62 391.73 L534.85 390.22 L535.08 388.71 L535.30 387.20 L535.54 385.44 L535.78 383.70 L536.02 381.96 L536.25 380.23 L536.50 378.50 L536.74 376.73 L536.97 374.91 L537.21 373.12 L537.48 371.42 L537.80 369.90 L538.27 368.35 L538.78 366.97 L539.30 365.60 L539.69 367.12 L540.10 368.58 L540.48 370.15 L540.80 372.00 L540.94 373.22 L541.05 374.57 L541.14 376.02 L541.21 377.56 L541.26 379.17 L541.30 380.83 L541.33 382.53 L541.36 384.24 L541.39 385.95 L541.42 387.64 L541.45 389.30 L541.50 390.90 L541.55 392.44 L541.60 393.97 L541.65 395.50 L541.70 397.02 L541.74 398.54 L541.79 400.05 L541.83 401.58 L541.88 403.11 L541.93 404.66 L541.98 406.22 L542.04 407.80 L542.10 409.40 L542.16 410.94 L542.22 412.50 L542.29 414.10 L542.36 415.71 L542.43 417.34 L542.51 418.98 L542.58 420.62 L542.66 422.26 L542.73 423.89 L542.81 425.50 L542.88 427.10 L542.96 428.67 L543.03 430.20 L543.10 431.70 L543.18 433.26 L543.25 434.71 L543.33 436.08 L543.41 437.41 L543.48 438.74 L543.56 440.08 L543.63 441.49 L543.71 442.99 L543.77 444.62 L543.84 446.41 L543.90 448.40 L543.93 449.36 L543.95 450.38 L543.97 451.45 L544.00 452.57 L544.02 453.74 L544.04 454.95 L544.05 456.21 L544.07 457.52 L544.09 458.86 L544.10 460.24 L544.12 461.66 L544.13 463.12 L544.15 464.60 L544.16 466.12 L544.17 467.67 L544.18 469.25 L544.19 470.85 L544.20 472.47 L544.21 474.12 L544.22 475.78 L544.23 477.47 L544.24 479.17 L544.24 480.88 L544.25 482.60 L544.26 484.34 L544.27 486.08 L544.27 487.83 L544.28 489.58 L544.29 491.34 L544.29 493.10 L544.30 494.85 L544.31 496.60 L544.32 498.35 L544.32 500.09 L544.33 501.82 L544.34 503.53 L544.35 505.24 L544.36 506.93 L544.36 508.60 L544.37 510.26 L544.38 511.89 L544.39 513.50 L544.40 515.09 L544.42 516.65 L544.43 518.18 L544.44 519.68 L544.46 521.15 L544.47 522.58 L544.49 523.98 L544.50 525.34 L544.52 526.66 L544.54 527.94 L544.56 529.17 L544.58 530.36 L544.60 531.50 L544.64 533.34 L544.68 535.09 L544.72 536.75 L544.76 538.34 L544.81 539.86 L544.85 541.33 L544.90 542.75 L544.94 544.14 L544.99 545.51 L545.04 546.86 L545.09 548.20 L545.14 549.55 L545.19 550.92 L545.24 552.31 L545.29 553.74 L545.34 555.21 L545.40 556.74 L545.45 558.33 L545.50 560.00 L545.54 561.32 L545.58 562.66 L545.62 564.02 L545.66 565.41 L545.70 566.82 L545.74 568.25 L545.78 569.69 L545.82 571.16 L545.86 572.64 L545.90 574.13 L545.94 575.64 L545.99 577.17 L546.03 578.70 L546.07 580.25 L546.11 581.80 L546.16 583.36 L546.20 584.93 L546.24 586.51 L546.29 588.09 L546.33 589.67 L546.38 591.25 L546.43 592.84 L546.47 594.43 L546.52 596.01 L546.57 597.59 L546.62 599.17 L546.67 600.74 L546.72 602.31 L546.78 603.86 L546.83 605.41 L546.89 606.95 L546.94 608.48 L547.00 610.00 L547.06 611.55 L547.12 613.10 L547.18 614.64 L547.25 616.19 L547.31 617.74 L547.38 619.28 L547.45 620.83 L547.52 622.37 L547.59 623.92 L547.66 625.46 L547.73 627.00 L547.80 628.55 L547.88 630.09 L547.95 631.63 L548.02 633.18 L548.10 634.72 L548.17 636.26 L548.25 637.80 L548.33 639.35 L548.40 640.89 L548.48 642.43 L548.55 643.97 L548.63 645.52 L548.71 647.06 L548.78 648.60 L548.86 650.14 L548.93 651.68 L549.01 653.23 L549.08 654.77 L549.15 656.31 L549.23 657.86 L549.30 659.40" fill="none" stroke="#000" stroke-width="1.8" stroke-dasharray="0.01 4.4" stroke-linecap="round"/>
<path d="M102.20 659.40 L102.27 657.89 L102.34 656.38 L102.41 654.88 L102.48 653.39 L102.55 651.89 L102.62 650.40 L102.69 648.92 L102.75 647.43 L102.82 645.95 L102.89 644.46 L102.96 642.97 L103.03 641.48 L103.10 639.99 L103.17 638.50 L103.24 637.00 L103.31 635.50 L103.38 633.99 L103.45 632.47 L103.52 630.95 L103.59 629.41 L103.66 627.87 L103.72 626.32 L103.79 624.76 L103.86 623.18 L103.93 621.60 L104.00 620.00 L104.06 618.57 L104.12 617.12 L104.18 615.66 L104.25 614.18 L104.31 612.69 L104.37 611.20 L104.43 609.69 L104.49 608.17 L104.56 606.64 L104.62 605.11 L104.68 603.57 L104.74 602.02 L104.81 600.47 L104.87 598.92 L104.93 597.36 L104.99 595.80 L105.05 594.24 L105.12 592.69 L105.18 591.13 L105.24 589.57 L105.30 588.02 L105.36 586.47 L105.42 584.93 L105.48 583.40 L105.54 581.87 L105.60 580.34 L105.66 578.83 L105.72 577.33 L105.77 575.84 L105.83 574.36 L105.89 572.89 L105.94 571.44 L106.00 570.00 L106.06 568.37 L106.13 566.74 L106.19 565.10 L106.25 563.46 L106.31 561.82 L106.37 560.18 L106.43 558.55 L106.49 556.91 L106.55 555.29 L106.61 553.67 L106.67 552.05 L106.73 550.45 L106.78 548.86 L106.84 547.29 L106.90 545.73 L106.95 544.18 L107.01 542.66 L107.07 541.15 L107.12 539.66 L107.18 538.20 L107.23 536.76 L107.29 535.35 L107.34 533.97 L107.39 532.61 L107.45 531.29 L107.50 530.00 L107.57 528.24 L107.65 526.54 L107.72 524.92 L107.79 523.34 L107.86 521.81 L107.92 520.31 L107.99 518.84 L108.06 517.38 L108.13 515.93 L108.20 514.47 L108.26 513.01 L108.33 511.52 L108.40 510.00 L108.47 508.45 L108.53 506.89 L108.60 505.31 L108.66 503.73 L108.73 502.14 L108.79 500.56 L108.85 498.99 L108.92 497.43 L108.99 495.89 L109.06 494.37 L109.14 492.88 L109.22 491.42 L109.30 490.00 L109.40 488.31 L109.50 486.64 L109.60 485.00 L109.71 483.39 L109.82 481.81 L109.94 480.28 L110.07 478.80 L110.23 477.37 L110.40 476.00 L110.65 474.23 L110.92 472.57 L111.21 470.99 L111.57 469.47 L112.00 468.00 L112.61 466.42 L113.32 464.93 L114.07 463.47 L114.80 462.00 L115.09 463.54 L115.38 465.07 L115.66 466.59 L115.95 468.13 L116.23 469.70 L116.50 471.30 L116.74 472.85 L116.97 474.44 L117.19 476.06 L117.41 477.69 L117.64 479.32 L117.86 480.93 L118.10 482.50 L118.37 484.18 L118.66 485.83 L118.95 487.45 L119.24 489.08 L119.52 490.72 L119.80 492.40 L120.04 493.96 L120.26 495.55 L120.49 497.16 L120.71 498.77 L120.93 500.37 L121.16 501.96 L121.40 503.50 L121.67 505.12 L121.96 506.69 L122.25 508.24 L122.54 509.79 L122.83 511.37 L123.10 513.00 L123.34 514.59 L123.56 516.24 L123.77 517.91 L123.98 519.59 L124.20 521.27 L124.44 522.91 L124.70 524.50 L125.02 526.13 L125.37 527.70 L125.73 529.25 L126.10 530.79 L126.46 532.37 L126.80 534.00 L127.08 535.61 L127.33 537.28 L127.56 538.98 L127.80 540.69 L128.07 542.40 L128.40 544.07 L128.80 545.70 L129.28 547.22 L129.82 548.69 L130.42 550.14 L131.05 551.58 L131.69 553.02 L132.31 554.49 L132.90 556.00 L133.43 557.45 L133.95 558.93 L134.46 560.43 L134.97 561.94 L135.48 563.46 L135.98 564.98 L136.49 566.49 L137.00 568.00 L137.50 569.51 L138.00 571.03 L138.48 572.56 L138.97 574.09 L139.47 575.60 L139.99 577.10 L140.53 578.57 L141.10 580.00 L141.73 581.48 L142.38 582.92 L143.04 584.32 L143.73 585.71 L144.46 587.10 L145.25 588.53 L146.10 590.00 L146.87 591.29 L147.67 592.62 L148.50 593.98 L149.36 595.35 L150.27 596.74 L151.21 598.12 L152.19 599.50 L153.22 600.86 L154.29 602.20 L155.40 603.50 L156.40 604.60 L157.46 605.70 L158.55 606.80 L159.69 607.89 L160.86 608.97 L162.05 610.04 L163.27 611.10 L164.50 612.14 L165.74 613.16 L166.99 614.16 L168.23 615.13 L169.47 616.08 L170.70 617.00 L171.95 617.91 L173.21 618.79 L174.47 619.65 L175.74 620.48 L177.02 621.29 L178.31 622.09 L179.60 622.86 L180.90 623.62 L182.19 624.36 L183.49 625.08 L184.80 625.80 L186.10 626.50 L187.47 627.22 L188.85 627.91 L190.23 628.59 L191.62 629.24 L193.01 629.87 L194.41 630.50 L195.80 631.11 L197.20 631.71 L198.60 632.31 L200.00 632.90 L201.40 633.50 L202.78 634.09 L204.14 634.67 L205.49 635.25 L206.83 635.83 L208.19 636.39 L209.55 636.95 L210.93 637.50 L212.34 638.04 L213.78 638.57 L215.27 639.09 L216.80 639.60 L218.20 640.04 L219.63 640.47 L221.10 640.89 L222.59 641.29 L224.11 641.69 L225.66 642.09 L227.22 642.48 L228.80 642.86 L230.40 643.24 L232.00 643.62 L233.60 643.99 L235.21 644.37 L236.81 644.74 L238.41 645.12 L240.00 645.50 L241.45 645.85 L242.90 646.21 L244.34 646.58 L245.78 646.94 L247.22 647.31 L248.66 647.67 L250.11 648.03 L251.56 648.39 L253.03 648.75 L254.50 649.10 L255.99 649.45 L257.49 649.78 L259.01 650.11 L260.55 650.43 L262.11 650.73 L263.69 651.02 L265.30 651.30 L266.72 651.53 L268.17 651.75 L269.64 651.97 L271.15 652.18 L272.67 652.38 L274.22 652.58 L275.78 652.77 L277.36 652.95 L278.94 653.13 L280.53 653.30 L282.13 653.46 L283.73 653.62 L285.33 653.78 L286.93 653.92 L288.51 654.06 L290.09 654.20 L291.66 654.33 L293.20 654.46 L294.73 654.58 L296.24 654.69 L297.72 654.80 L299.18 654.90 L300.60 655.00 L302.29 655.11 L303.94 655.21 L305.57 655.30 L307.18 655.39 L308.77 655.46 L310.34 655.53 L311.89 655.58 L313.44 655.63 L314.97 655.67 L316.50 655.71 L318.03 655.74 L319.56 655.76 L321.09 655.78 L322.63 655.79 L324.19 655.80 L325.75 655.80 L327.31 655.80 L328.87 655.79 L330.41 655.78 L331.94 655.76 L333.47 655.74 L335.00 655.71 L336.53 655.67 L338.06 655.63 L339.61 655.58 L341.16 655.53 L342.73 655.46 L344.32 655.39 L345.93 655.30 L347.56 655.21 L349.21 655.11 L350.90 655.00 L352.32 654.90 L353.78 654.80 L355.26 654.69 L356.77 654.58 L358.30 654.46 L359.84 654.33 L361.41 654.20 L362.99 654.06 L364.57 653.92 L366.17 653.78 L367.77 653.62 L369.37 653.46 L370.97 653.30 L372.56 653.13 L374.14 652.95 L375.72 652.77 L377.28 652.58 L378.83 652.38 L380.35 652.18 L381.86 651.97 L383.33 651.75 L384.78 651.53 L386.20 651.30 L387.81 651.02 L389.39 650.73 L390.95 650.43 L392.49 650.11 L394.01 649.78 L395.51 649.45 L397.00 649.10 L398.47 648.75 L399.94 648.39 L401.39 648.03 L402.84 647.67 L404.28 647.31 L405.72 646.94 L407.16 646.58 L408.60 646.21 L410.05 645.85 L411.50 645.50 L413.09 645.12 L414.69 644.74 L416.29 644.37 L417.90 643.99 L419.50 643.62 L421.10 643.24 L422.70 642.86 L424.28 642.48 L425.84 642.09 L427.39 641.69 L428.91 641.29 L430.40 640.89 L431.87 640.47 L433.30 640.04 L434.70 639.60 L436.23 639.09 L437.72 638.57 L439.16 638.04 L440.57 637.50 L441.95 636.95 L443.31 636.39 L444.67 635.83 L446.01 635.25 L447.36 634.67 L448.72 634.09 L450.10 633.50 L451.50 632.90 L452.90 632.31 L454.30 631.71 L455.70 631.11 L457.09 630.50 L458.49 629.87 L459.88 629.24 L461.27 628.59 L462.65 627.91 L464.03 627.22 L465.40 626.50 L466.70 625.80 L468.01 625.08 L469.31 624.36 L470.60 623.62 L471.90 622.86 L473.19 622.09 L474.48 621.29 L475.76 620.48 L477.03 619.65 L478.29 618.79 L479.55 617.91 L480.80 617.00 L482.03 616.08 L483.27 615.13 L484.51 614.16 L485.76 613.16 L487.00 612.14 L488.23 611.10 L489.45 610.04 L490.64 608.97 L491.81 607.89 L492.95 606.80 L494.04 605.70 L495.10 604.60 L496.10 603.50 L497.21 602.20 L498.28 600.86 L499.31 599.50 L500.29 598.12 L501.23 596.74 L502.14 595.35 L503.00 593.98 L503.83 592.62 L504.63 591.29 L505.40 590.00 L506.25 588.53 L507.04 587.10 L507.77 585.71 L508.46 584.32 L509.12 582.92 L509.77 581.48 L510.40 580.00 L510.97 578.57 L511.51 577.10 L512.03 575.60 L512.53 574.09 L513.02 572.56 L513.50 571.03 L514.00 569.51 L514.50 568.00 L515.01 566.49 L515.52 564.98 L516.02 563.46 L516.53 561.94 L517.04 560.43 L517.55 558.93 L518.07 557.45 L518.60 556.00 L519.19 554.49 L519.81 553.02 L520.45 551.58 L521.08 550.14 L521.68 548.69 L522.22 547.22 L522.70 545.70 L523.10 544.07 L523.43 542.40 L523.70 540.69 L523.94 538.98 L524.17 537.28 L524.42 535.61 L524.70 534.00 L525.04 532.37 L525.40 530.79 L525.77 529.25 L526.13 527.70 L526.48 526.13 L526.80 524.50 L527.06 522.91 L527.30 521.27 L527.52 519.59 L527.73 517.91 L527.94 516.24 L528.16 514.59 L528.40 513.00 L528.67 511.37 L528.96 509.79 L529.25 508.24 L529.54 506.69 L529.83 505.12 L530.10 503.50 L530.34 501.96 L530.57 500.37 L530.79 498.77 L531.01 497.16 L531.24 495.55 L531.46 493.96 L531.70 492.40 L531.98 490.72 L532.26 489.08 L532.55 487.45 L532.84 485.83 L533.13 484.18 L533.40 482.50 L533.64 480.93 L533.86 479.32 L534.09 477.69 L534.31 476.06 L534.53 474.44 L534.76 472.85 L535.00 471.30 L535.27 469.70 L535.55 468.13 L535.84 466.59 L536.12 465.07 L536.41 463.54 L536.70 462.00 L537.43 463.47 L538.18 464.93 L538.89 466.42 L539.50 468.00 L539.93 469.47 L540.29 470.99 L540.58 472.57 L540.85 474.23 L541.10 476.00 L541.27 477.37 L541.43 478.80 L541.56 480.28 L541.68 481.81 L541.79 483.39 L541.90 485.00 L542.00 486.64 L542.10 488.31 L542.20 490.00 L542.28 491.42 L542.36 492.88 L542.44 494.37 L542.51 495.89 L542.58 497.43 L542.65 498.99 L542.71 500.56 L542.77 502.14 L542.84 503.73 L542.90 505.31 L542.97 506.89 L543.03 508.45 L543.10 510.00 L543.17 511.52 L543.24 513.01 L543.30 514.47 L543.37 515.93 L543.44 517.38 L543.51 518.84 L543.58 520.31 L543.64 521.81 L543.71 523.34 L543.78 524.92 L543.85 526.54 L543.93 528.24 L544.00 530.00 L544.05 531.29 L544.11 532.61 L544.16 533.97 L544.21 535.35 L544.27 536.76 L544.32 538.20 L544.38 539.66 L544.43 541.15 L544.49 542.66 L544.55 544.18 L544.60 545.73 L544.66 547.29 L544.72 548.86 L544.77 550.45 L544.83 552.05 L544.89 553.67 L544.95 555.29 L545.01 556.91 L545.07 558.55 L545.13 560.18 L545.19 561.82 L545.25 563.46 L545.31 565.10 L545.37 566.74 L545.44 568.37 L545.50 570.00 L545.56 571.44 L545.61 572.89 L545.67 574.36 L545.73 575.84 L545.78 577.33 L545.84 578.83 L545.90 580.34 L545.96 581.87 L546.02 583.40 L546.08 584.93 L546.14 586.47 L546.20 588.02 L546.26 589.57 L546.32 591.13 L546.38 592.69 L546.45 594.24 L546.51 595.80 L546.57 597.36 L546.63 598.92 L546.69 600.47 L546.76 602.02 L546.82 603.57 L546.88 605.11 L546.94 606.64 L547.01 608.17 L547.07 609.69 L547.13 611.20 L547.19 612.69 L547.25 614.18 L547.32 615.66 L547.38 617.12 L547.44 618.57 L547.50 620.00 L547.57 621.60 L547.64 623.18 L547.71 624.76 L547.78 626.32 L547.84 627.87 L547.91 629.41 L547.98 630.95 L548.05 632.47 L548.12 633.99 L548.19 635.50 L548.26 637.00 L548.33 638.50 L548.40 639.99 L548.47 641.48 L548.54 642.97 L548.61 644.46 L548.68 645.95 L548.75 647.43 L548.81 648.92 L548.88 650.40 L548.95 651.89 L549.02 653.39 L549.09 654.88 L549.16 656.38 L549.23 657.89 L549.30 659.40" fill="none" stroke="#000" stroke-width="1.45" stroke-dasharray="10 11" stroke-dashoffset="11.84"/>
<path d="M102.20 659.40 L102.26 657.88 L102.32 656.35 L102.38 654.83 L102.44 653.31 L102.50 651.79 L102.56 650.26 L102.62 648.74 L102.68 647.22 L102.74 645.70 L102.80 644.18 L102.86 642.65 L102.92 641.13 L102.98 639.61 L103.04 638.09 L103.10 636.57 L103.16 635.05 L103.22 633.52 L103.28 632.00 L103.34 630.48 L103.40 628.96 L103.46 627.44 L103.52 625.91 L103.58 624.39 L103.64 622.87 L103.70 621.35 L103.76 619.82 L103.82 618.30 L103.87 616.78 L103.93 615.25 L103.99 613.73 L104.05 612.20 L104.11 610.68 L104.16 609.16 L104.22 607.63 L104.28 606.10 L104.33 604.58 L104.39 603.05 L104.44 601.53 L104.50 600.00 L104.55 598.50 L104.61 596.99 L104.66 595.48 L104.71 593.96 L104.77 592.43 L104.82 590.90 L104.87 589.37 L104.92 587.83 L104.97 586.28 L105.03 584.74 L105.08 583.19 L105.13 581.64 L105.18 580.09 L105.23 578.54 L105.28 576.99 L105.33 575.44 L105.38 573.89 L105.43 572.35 L105.48 570.80 L105.53 569.26 L105.58 567.72 L105.63 566.19 L105.68 564.66 L105.73 563.14 L105.78 561.63 L105.83 560.12 L105.87 558.61 L105.92 557.12 L105.97 555.63 L106.02 554.15 L106.07 552.69 L106.12 551.23 L106.16 549.78 L106.21 548.35 L106.26 546.92 L106.31 545.51 L106.36 544.11 L106.40 542.73 L106.45 541.36 L106.50 540.00 L106.56 538.30 L106.62 536.61 L106.67 534.91 L106.73 533.21 L106.78 531.51 L106.84 529.82 L106.89 528.14 L106.95 526.46 L107.00 524.80 L107.05 523.15 L107.10 521.51 L107.16 519.89 L107.21 518.29 L107.26 516.71 L107.32 515.15 L107.37 513.61 L107.43 512.10 L107.49 510.62 L107.54 509.17 L107.60 507.75 L107.67 506.36 L107.73 505.01 L107.79 503.70 L107.86 502.42 L107.93 501.19 L108.00 500.00 L108.12 498.18 L108.23 496.43 L108.35 494.75 L108.47 493.15 L108.59 491.62 L108.71 490.16 L108.85 488.77 L108.99 487.45 L109.14 486.19 L109.30 485.00 L109.58 483.30 L109.88 481.83 L110.19 480.43 L110.50 479.00 L110.77 480.59 L111.02 482.17 L111.28 483.76 L111.57 485.36 L111.90 487.00 L112.27 488.53 L112.69 490.08 L113.14 491.65 L113.59 493.24 L114.02 494.86 L114.40 496.50 L114.70 498.06 L114.96 499.68 L115.21 501.34 L115.44 502.99 L115.66 504.61 L115.87 506.16 L116.10 507.60 L116.41 509.31 L116.73 510.85 L117.02 512.41 L117.30 514.20 L117.46 515.57 L117.59 517.09 L117.71 518.71 L117.82 520.40 L117.93 522.12 L118.05 523.84 L118.18 525.52 L118.33 527.12 L118.50 528.60 L118.74 530.22 L119.01 531.72 L119.30 533.16 L119.60 534.59 L119.90 536.09 L120.20 537.70 L120.44 539.14 L120.69 540.63 L120.94 542.17 L121.19 543.75 L121.44 545.37 L121.70 547.01 L121.96 548.66 L122.23 550.33 L122.50 552.00 L122.75 553.54 L123.00 555.14 L123.26 556.78 L123.52 558.45 L123.78 560.12 L124.05 561.79 L124.32 563.44 L124.60 565.05 L124.89 566.61 L125.19 568.09 L125.50 569.50 L125.95 571.32 L126.42 573.01 L126.91 574.62 L127.40 576.19 L127.90 577.77 L128.40 579.40 L128.84 580.90 L129.29 582.42 L129.73 583.96 L130.18 585.49 L130.64 587.02 L131.12 588.52 L131.60 590.00 L132.14 591.62 L132.68 593.22 L133.22 594.81 L133.80 596.37 L134.42 597.90 L135.10 599.40 L135.83 600.81 L136.62 602.18 L137.45 603.52 L138.30 604.84 L139.16 606.17 L140.00 607.50 L140.81 608.83 L141.61 610.15 L142.41 611.47 L143.23 612.79 L144.09 614.13 L145.00 615.50 L145.82 616.71 L146.67 617.97 L147.55 619.26 L148.46 620.55 L149.39 621.82 L150.34 623.05 L151.31 624.22 L152.30 625.30 L153.51 626.47 L154.75 627.53 L156.02 628.52 L157.32 629.48 L158.65 630.43 L160.00 631.40 L161.26 632.31 L162.54 633.23 L163.85 634.15 L165.18 635.06 L166.51 635.94 L167.86 636.79 L169.20 637.60 L170.69 638.46 L172.18 639.29 L173.67 640.08 L175.19 640.82 L176.76 641.53 L178.40 642.20 L179.85 642.72 L181.39 643.19 L182.98 643.64 L184.59 644.06 L186.20 644.46 L187.78 644.84 L189.29 645.22 L190.70 645.60 L192.29 646.06 L193.72 646.49 L195.12 646.91 L196.63 647.34 L198.40 647.80 L199.60 648.09 L200.88 648.40 L202.23 648.73 L203.66 649.06 L205.15 649.40 L206.69 649.75 L208.28 650.10 L209.90 650.44 L211.56 650.78 L213.23 651.11 L214.93 651.43 L216.62 651.74 L218.32 652.03 L220.00 652.30 L221.38 652.51 L222.77 652.70 L224.18 652.89 L225.60 653.08 L227.04 653.25 L228.49 653.42 L229.95 653.58 L231.42 653.74 L232.91 653.89 L234.41 654.03 L235.92 654.17 L237.44 654.31 L238.97 654.44 L240.52 654.57 L242.07 654.70 L243.64 654.82 L245.21 654.94 L246.80 655.06 L248.40 655.18 L250.00 655.30 L251.44 655.40 L252.89 655.50 L254.37 655.60 L255.86 655.70 L257.36 655.79 L258.88 655.88 L260.41 655.97 L261.95 656.05 L263.50 656.13 L265.06 656.21 L266.63 656.29 L268.20 656.36 L269.78 656.44 L271.35 656.51 L272.93 656.57 L274.51 656.64 L276.09 656.70 L277.67 656.77 L279.24 656.83 L280.80 656.88 L282.36 656.94 L283.91 657.00 L285.45 657.05 L286.98 657.10 L288.50 657.15 L290.00 657.20 L291.59 657.25 L293.18 657.30 L294.76 657.34 L296.34 657.39 L297.90 657.43 L299.47 657.47 L301.03 657.51 L302.58 657.54 L304.13 657.57 L305.68 657.61 L307.23 657.63 L308.77 657.66 L310.31 657.68 L311.85 657.71 L313.39 657.73 L314.93 657.74 L316.47 657.76 L318.02 657.77 L319.56 657.78 L321.10 657.79 L322.65 657.80 L324.20 657.80 L325.75 657.80 L327.30 657.80 L328.85 657.80 L330.40 657.79 L331.94 657.78 L333.48 657.77 L335.03 657.76 L336.57 657.74 L338.11 657.73 L339.65 657.71 L341.19 657.68 L342.73 657.66 L344.27 657.63 L345.82 657.61 L347.37 657.57 L348.92 657.54 L350.47 657.51 L352.03 657.47 L353.60 657.43 L355.16 657.39 L356.74 657.34 L358.32 657.30 L359.91 657.25 L361.50 657.20 L363.00 657.15 L364.52 657.10 L366.05 657.05 L367.59 657.00 L369.14 656.94 L370.70 656.88 L372.26 656.83 L373.83 656.77 L375.41 656.70 L376.99 656.64 L378.57 656.57 L380.15 656.51 L381.72 656.44 L383.30 656.36 L384.87 656.29 L386.44 656.21 L388.00 656.13 L389.55 656.05 L391.09 655.97 L392.62 655.88 L394.14 655.79 L395.64 655.70 L397.13 655.60 L398.61 655.50 L400.06 655.40 L401.50 655.30 L403.10 655.18 L404.70 655.06 L406.29 654.94 L407.86 654.82 L409.43 654.70 L410.98 654.57 L412.53 654.44 L414.06 654.31 L415.58 654.17 L417.09 654.03 L418.59 653.89 L420.08 653.74 L421.55 653.58 L423.01 653.42 L424.46 653.25 L425.90 653.08 L427.32 652.89 L428.73 652.70 L430.12 652.51 L431.50 652.30 L433.18 652.03 L434.88 651.74 L436.57 651.43 L438.27 651.11 L439.94 650.78 L441.60 650.44 L443.22 650.10 L444.81 649.75 L446.35 649.40 L447.84 649.06 L449.27 648.73 L450.62 648.40 L451.90 648.09 L453.10 647.80 L454.87 647.34 L456.38 646.91 L457.78 646.49 L459.21 646.06 L460.80 645.60 L462.21 645.22 L463.72 644.84 L465.30 644.46 L466.91 644.06 L468.52 643.64 L470.11 643.19 L471.65 642.72 L473.10 642.20 L474.74 641.53 L476.31 640.82 L477.83 640.08 L479.32 639.29 L480.81 638.46 L482.30 637.60 L483.64 636.79 L484.99 635.94 L486.32 635.06 L487.65 634.15 L488.96 633.23 L490.24 632.31 L491.50 631.40 L492.85 630.43 L494.18 629.48 L495.48 628.52 L496.75 627.53 L497.99 626.47 L499.20 625.30 L500.19 624.22 L501.16 623.05 L502.11 621.82 L503.04 620.55 L503.95 619.26 L504.83 617.97 L505.68 616.71 L506.50 615.50 L507.41 614.13 L508.27 612.79 L509.09 611.47 L509.89 610.15 L510.69 608.83 L511.50 607.50 L512.34 606.17 L513.20 604.84 L514.05 603.52 L514.88 602.18 L515.67 600.81 L516.40 599.40 L517.08 597.90 L517.70 596.37 L518.28 594.81 L518.82 593.22 L519.36 591.62 L519.90 590.00 L520.38 588.52 L520.86 587.02 L521.32 585.49 L521.77 583.96 L522.21 582.42 L522.66 580.90 L523.10 579.40 L523.60 577.77 L524.10 576.19 L524.59 574.62 L525.08 573.01 L525.55 571.32 L526.00 569.50 L526.31 568.09 L526.61 566.61 L526.90 565.05 L527.18 563.44 L527.45 561.79 L527.72 560.12 L527.98 558.45 L528.24 556.78 L528.50 555.14 L528.75 553.54 L529.00 552.00 L529.27 550.33 L529.54 548.66 L529.80 547.01 L530.06 545.37 L530.31 543.75 L530.56 542.17 L530.81 540.63 L531.06 539.14 L531.30 537.70 L531.60 536.09 L531.90 534.59 L532.20 533.16 L532.49 531.72 L532.76 530.22 L533.00 528.60 L533.17 527.12 L533.32 525.52 L533.45 523.84 L533.57 522.12 L533.68 520.40 L533.79 518.71 L533.91 517.09 L534.04 515.57 L534.20 514.20 L534.48 512.41 L534.77 510.85 L535.09 509.31 L535.40 507.60 L535.63 506.16 L535.84 504.61 L536.06 502.99 L536.29 501.34 L536.54 499.68 L536.80 498.06 L537.10 496.50 L537.48 494.86 L537.91 493.24 L538.36 491.65 L538.81 490.08 L539.23 488.53 L539.60 487.00 L539.93 485.36 L540.22 483.76 L540.48 482.17 L540.73 480.59 L541.00 479.00 L541.31 480.43 L541.62 481.83 L541.92 483.30 L542.20 485.00 L542.36 486.19 L542.51 487.45 L542.65 488.77 L542.79 490.16 L542.91 491.62 L543.03 493.15 L543.15 494.75 L543.27 496.43 L543.38 498.18 L543.50 500.00 L543.57 501.19 L543.64 502.42 L543.71 503.70 L543.77 505.01 L543.83 506.36 L543.90 507.75 L543.96 509.17 L544.01 510.62 L544.07 512.10 L544.13 513.61 L544.18 515.15 L544.24 516.71 L544.29 518.29 L544.34 519.89 L544.40 521.51 L544.45 523.15 L544.50 524.80 L544.55 526.46 L544.61 528.14 L544.66 529.82 L544.72 531.51 L544.77 533.21 L544.83 534.91 L544.88 536.61 L544.94 538.30 L545.00 540.00 L545.05 541.36 L545.10 542.73 L545.14 544.11 L545.19 545.51 L545.24 546.92 L545.29 548.35 L545.34 549.78 L545.38 551.23 L545.43 552.69 L545.48 554.15 L545.53 555.63 L545.58 557.12 L545.63 558.61 L545.67 560.12 L545.72 561.63 L545.77 563.14 L545.82 564.66 L545.87 566.19 L545.92 567.72 L545.97 569.26 L546.02 570.80 L546.07 572.35 L546.12 573.89 L546.17 575.44 L546.22 576.99 L546.27 578.54 L546.32 580.09 L546.37 581.64 L546.42 583.19 L546.47 584.74 L546.53 586.28 L546.58 587.83 L546.63 589.37 L546.68 590.90 L546.73 592.43 L546.79 593.96 L546.84 595.48 L546.89 596.99 L546.95 598.50 L547.00 600.00 L547.06 601.53 L547.11 603.05 L547.17 604.58 L547.22 606.10 L547.28 607.63 L547.34 609.16 L547.39 610.68 L547.45 612.20 L547.51 613.73 L547.57 615.25 L547.63 616.78 L547.68 618.30 L547.74 619.82 L547.80 621.35 L547.86 622.87 L547.92 624.39 L547.98 625.91 L548.04 627.44 L548.10 628.96 L548.16 630.48 L548.22 632.00 L548.28 633.52 L548.34 635.05 L548.40 636.57 L548.46 638.09 L548.52 639.61 L548.58 641.13 L548.64 642.65 L548.70 644.18 L548.76 645.70 L548.82 647.22 L548.88 648.74 L548.94 650.26 L549.00 651.79 L549.06 653.31 L549.12 654.83 L549.18 656.35 L549.24 657.88 L549.30 659.40" fill="none" stroke="#000" stroke-width="1.45" stroke-dasharray="10 11" stroke-dashoffset="0.19"/>
<path d="M102.20 659.40 L102.31 657.89 L102.42 656.38 L102.52 654.87 L102.63 653.36 L102.74 651.86 L102.85 650.36 L102.95 648.86 L103.06 647.36 L103.17 645.86 L103.28 644.37 L103.38 642.87 L103.49 641.37 L103.60 639.86 L103.71 638.36 L103.81 636.85 L103.92 635.34 L104.03 633.83 L104.14 632.32 L104.25 630.80 L104.35 629.27 L104.46 627.74 L104.57 626.21 L104.68 624.66 L104.78 623.12 L104.89 621.56 L105.00 620.00 L105.10 618.54 L105.20 617.08 L105.30 615.60 L105.40 614.11 L105.50 612.61 L105.60 611.11 L105.70 609.60 L105.80 608.08 L105.90 606.56 L106.00 605.03 L106.10 603.50 L106.20 601.97 L106.30 600.43 L106.40 598.90 L106.50 597.36 L106.60 595.83 L106.70 594.30 L106.80 592.77 L106.90 591.24 L107.00 589.72 L107.10 588.21 L107.20 586.70 L107.30 585.20 L107.40 583.71 L107.50 582.23 L107.60 580.76 L107.70 579.30 L107.80 577.85 L107.90 576.42 L108.00 575.00 L108.12 573.35 L108.23 571.70 L108.35 570.03 L108.47 568.36 L108.59 566.69 L108.71 565.02 L108.82 563.36 L108.94 561.70 L109.06 560.05 L109.18 558.41 L109.30 556.79 L109.42 555.18 L109.54 553.59 L109.65 552.02 L109.77 550.47 L109.89 548.96 L110.01 547.47 L110.12 546.01 L110.24 544.59 L110.36 543.21 L110.47 541.86 L110.59 540.56 L110.70 539.30 L110.86 537.46 L111.00 535.70 L111.13 534.02 L111.26 532.40 L111.39 530.84 L111.54 529.34 L111.70 527.87 L111.90 526.45 L112.13 525.06 L112.40 523.70 L112.84 521.96 L113.35 520.34 L113.90 518.79 L114.47 517.27 L115.05 515.75 L115.60 514.20 L116.14 515.71 L116.68 517.25 L117.24 518.80 L117.79 520.35 L118.33 521.87 L118.85 523.35 L119.35 524.76 L119.80 526.10 L120.41 527.93 L120.94 529.61 L121.46 531.25 L122.00 533.00 L122.44 534.43 L122.88 535.91 L123.33 537.42 L123.79 538.96 L124.24 540.49 L124.70 542.00 L125.16 543.50 L125.62 545.01 L126.09 546.51 L126.55 548.01 L127.02 549.51 L127.50 551.00 L127.96 552.44 L128.41 553.86 L128.87 555.27 L129.34 556.70 L129.85 558.17 L130.40 559.70 L130.94 561.15 L131.52 562.65 L132.12 564.19 L132.75 565.76 L133.39 567.34 L134.05 568.92 L134.73 570.48 L135.40 572.00 L136.08 573.48 L136.77 574.95 L137.49 576.42 L138.21 577.88 L138.94 579.32 L139.67 580.74 L140.39 582.14 L141.10 583.50 L141.91 585.08 L142.68 586.59 L143.45 588.08 L144.26 589.56 L145.13 591.06 L146.10 592.60 L146.87 593.75 L147.67 594.92 L148.51 596.11 L149.39 597.31 L150.30 598.52 L151.24 599.73 L152.23 600.94 L153.25 602.14 L154.31 603.33 L155.40 604.50 L156.41 605.54 L157.47 606.59 L158.58 607.64 L159.71 608.69 L160.88 609.75 L162.07 610.79 L163.29 611.82 L164.52 612.84 L165.75 613.85 L167.00 614.83 L168.24 615.78 L169.48 616.71 L170.70 617.60 L172.06 618.56 L173.44 619.49 L174.82 620.39 L176.21 621.26 L177.61 622.11 L179.02 622.93 L180.43 623.74 L181.84 624.53 L183.26 625.30 L184.68 626.05 L186.10 626.80 L187.48 627.50 L188.86 628.18 L190.24 628.83 L191.63 629.47 L193.02 630.09 L194.41 630.70 L195.81 631.30 L197.21 631.90 L198.60 632.50 L200.00 633.09 L201.40 633.70 L202.78 634.31 L204.14 634.93 L205.49 635.54 L206.84 636.16 L208.19 636.77 L209.55 637.37 L210.93 637.96 L212.33 638.55 L213.78 639.11 L215.26 639.67 L216.80 640.20 L218.19 640.65 L219.62 641.08 L221.09 641.50 L222.59 641.91 L224.11 642.30 L225.65 642.69 L227.22 643.06 L228.80 643.43 L230.39 643.80 L232.00 644.16 L233.60 644.53 L235.21 644.89 L236.81 645.25 L238.41 645.62 L240.00 646.00 L241.45 646.35 L242.90 646.71 L244.34 647.07 L245.78 647.44 L247.22 647.80 L248.66 648.17 L250.11 648.53 L251.57 648.90 L253.03 649.26 L254.50 649.61 L255.99 649.95 L257.49 650.29 L259.01 650.62 L260.55 650.93 L262.11 651.24 L263.69 651.53 L265.30 651.80 L266.72 652.03 L268.17 652.24 L269.64 652.45 L271.15 652.65 L272.67 652.85 L274.22 653.04 L275.78 653.22 L277.35 653.39 L278.94 653.56 L280.53 653.72 L282.13 653.88 L283.73 654.03 L285.33 654.17 L286.93 654.31 L288.51 654.44 L290.09 654.56 L291.66 654.68 L293.20 654.80 L294.73 654.91 L296.24 655.01 L297.72 655.11 L299.18 655.21 L300.60 655.30 L302.29 655.40 L303.94 655.50 L305.57 655.58 L307.18 655.65 L308.77 655.72 L310.34 655.77 L311.89 655.82 L313.44 655.87 L314.97 655.90 L316.50 655.93 L318.03 655.95 L319.56 655.97 L321.09 655.98 L322.63 655.99 L324.19 656.00 L325.75 656.00 L327.31 656.00 L328.87 655.99 L330.41 655.98 L331.94 655.97 L333.47 655.95 L335.00 655.93 L336.53 655.90 L338.06 655.87 L339.61 655.82 L341.16 655.77 L342.73 655.72 L344.32 655.65 L345.93 655.58 L347.56 655.50 L349.21 655.40 L350.90 655.30 L352.32 655.21 L353.78 655.11 L355.26 655.01 L356.77 654.91 L358.30 654.80 L359.84 654.68 L361.41 654.56 L362.99 654.44 L364.57 654.31 L366.17 654.17 L367.77 654.03 L369.37 653.88 L370.97 653.72 L372.56 653.56 L374.15 653.39 L375.72 653.22 L377.28 653.04 L378.83 652.85 L380.35 652.65 L381.86 652.45 L383.33 652.24 L384.78 652.03 L386.20 651.80 L387.81 651.53 L389.39 651.24 L390.95 650.93 L392.49 650.62 L394.01 650.29 L395.51 649.95 L397.00 649.61 L398.47 649.26 L399.93 648.90 L401.39 648.53 L402.84 648.17 L404.28 647.80 L405.72 647.44 L407.16 647.07 L408.60 646.71 L410.05 646.35 L411.50 646.00 L413.09 645.62 L414.69 645.25 L416.29 644.89 L417.90 644.53 L419.50 644.16 L421.11 643.80 L422.70 643.43 L424.28 643.06 L425.85 642.69 L427.39 642.30 L428.91 641.91 L430.41 641.50 L431.88 641.08 L433.31 640.65 L434.70 640.20 L436.24 639.67 L437.72 639.11 L439.17 638.55 L440.57 637.96 L441.95 637.37 L443.31 636.77 L444.66 636.16 L446.01 635.54 L447.36 634.93 L448.72 634.31 L450.10 633.70 L451.50 633.09 L452.90 632.50 L454.29 631.90 L455.69 631.30 L457.09 630.70 L458.48 630.09 L459.87 629.47 L461.26 628.83 L462.64 628.18 L464.02 627.50 L465.40 626.80 L466.82 626.05 L468.24 625.30 L469.66 624.53 L471.07 623.74 L472.48 622.93 L473.89 622.11 L475.29 621.26 L476.68 620.39 L478.06 619.49 L479.44 618.56 L480.80 617.60 L482.02 616.71 L483.26 615.78 L484.50 614.83 L485.75 613.85 L486.98 612.84 L488.21 611.82 L489.43 610.79 L490.62 609.75 L491.79 608.69 L492.92 607.64 L494.03 606.59 L495.09 605.54 L496.10 604.50 L497.19 603.33 L498.25 602.14 L499.27 600.94 L500.26 599.73 L501.20 598.52 L502.11 597.31 L502.99 596.11 L503.83 594.92 L504.63 593.75 L505.40 592.60 L506.37 591.06 L507.24 589.56 L508.05 588.08 L508.82 586.59 L509.59 585.08 L510.40 583.50 L511.11 582.14 L511.83 580.74 L512.56 579.32 L513.29 577.88 L514.01 576.42 L514.73 574.95 L515.42 573.48 L516.10 572.00 L516.77 570.48 L517.45 568.92 L518.11 567.34 L518.75 565.76 L519.38 564.19 L519.98 562.65 L520.56 561.15 L521.10 559.70 L521.65 558.17 L522.16 556.70 L522.63 555.27 L523.09 553.86 L523.54 552.44 L524.00 551.00 L524.48 549.51 L524.95 548.01 L525.41 546.51 L525.88 545.01 L526.34 543.50 L526.80 542.00 L527.26 540.49 L527.71 538.96 L528.17 537.42 L528.62 535.91 L529.06 534.43 L529.50 533.00 L530.04 531.25 L530.56 529.61 L531.09 527.93 L531.70 526.10 L532.15 524.76 L532.65 523.35 L533.17 521.87 L533.71 520.35 L534.26 518.80 L534.82 517.25 L535.36 515.71 L535.90 514.20 L536.45 515.75 L537.03 517.27 L537.60 518.79 L538.15 520.34 L538.66 521.96 L539.10 523.70 L539.37 525.06 L539.60 526.45 L539.80 527.87 L539.96 529.34 L540.11 530.84 L540.24 532.40 L540.37 534.02 L540.50 535.70 L540.64 537.46 L540.80 539.30 L540.91 540.56 L541.03 541.86 L541.14 543.21 L541.26 544.59 L541.38 546.01 L541.49 547.47 L541.61 548.96 L541.73 550.47 L541.85 552.02 L541.96 553.59 L542.08 555.18 L542.20 556.79 L542.32 558.41 L542.44 560.05 L542.56 561.70 L542.68 563.36 L542.79 565.02 L542.91 566.69 L543.03 568.36 L543.15 570.03 L543.27 571.70 L543.38 573.35 L543.50 575.00 L543.60 576.42 L543.70 577.85 L543.80 579.30 L543.90 580.76 L544.00 582.23 L544.10 583.71 L544.20 585.20 L544.30 586.70 L544.40 588.21 L544.50 589.72 L544.60 591.24 L544.70 592.77 L544.80 594.30 L544.90 595.83 L545.00 597.36 L545.10 598.90 L545.20 600.43 L545.30 601.97 L545.40 603.50 L545.50 605.03 L545.60 606.56 L545.70 608.08 L545.80 609.60 L545.90 611.11 L546.00 612.61 L546.10 614.11 L546.20 615.60 L546.30 617.08 L546.40 618.54 L546.50 620.00 L546.61 621.56 L546.72 623.12 L546.82 624.66 L546.93 626.21 L547.04 627.74 L547.15 629.27 L547.25 630.80 L547.36 632.32 L547.47 633.83 L547.58 635.34 L547.69 636.85 L547.79 638.36 L547.90 639.86 L548.01 641.37 L548.12 642.87 L548.22 644.37 L548.33 645.86 L548.44 647.36 L548.55 648.86 L548.65 650.36 L548.76 651.86 L548.87 653.36 L548.98 654.87 L549.08 656.38 L549.19 657.89 L549.30 659.40" fill="none" stroke="#000" stroke-width="1.45"/>
<path d="M102.20 659.40 L102.33 657.87 L102.46 656.33 L102.59 654.79 L102.72 653.25 L102.86 651.71 L102.99 650.16 L103.12 648.62 L103.25 647.07 L103.38 645.52 L103.51 643.98 L103.64 642.43 L103.78 640.88 L103.91 639.34 L104.04 637.79 L104.17 636.25 L104.30 634.71 L104.43 633.17 L104.56 631.63 L104.69 630.10 L104.83 628.57 L104.96 627.04 L105.09 625.52 L105.22 624.00 L105.35 622.48 L105.48 620.98 L105.61 619.47 L105.74 617.98 L105.87 616.48 L106.00 615.00 L106.14 613.44 L106.27 611.88 L106.40 610.30 L106.53 608.72 L106.66 607.13 L106.79 605.54 L106.92 603.95 L107.05 602.35 L107.18 600.76 L107.31 599.18 L107.44 597.60 L107.57 596.03 L107.70 594.47 L107.83 592.92 L107.96 591.38 L108.09 589.87 L108.22 588.37 L108.36 586.89 L108.49 585.43 L108.63 583.99 L108.77 582.59 L108.91 581.20 L109.06 579.85 L109.20 578.53 L109.35 577.25 L109.50 576.00 L109.73 574.13 L109.95 572.28 L110.17 570.44 L110.38 568.65 L110.60 566.90 L110.83 565.21 L111.07 563.59 L111.32 562.06 L111.58 560.62 L111.86 559.29 L112.17 558.08 L112.50 557.00 L113.26 555.27 L114.08 553.93 L114.90 552.60 L116.60 552.60 L118.30 552.60 L120.00 552.60 L121.70 552.60 L122.44 554.48 L123.40 556.50 L124.18 557.72 L125.15 559.04 L126.23 560.43 L127.37 561.87 L128.52 563.34 L129.60 564.80 L130.54 566.14 L131.48 567.52 L132.42 568.92 L133.36 570.33 L134.30 571.74 L135.25 573.13 L136.20 574.50 L137.13 575.82 L138.05 577.13 L138.98 578.43 L139.92 579.72 L140.86 580.99 L141.82 582.26 L142.80 583.50 L143.80 584.72 L144.84 585.93 L145.89 587.14 L146.95 588.32 L147.99 589.48 L149.02 590.61 L150.00 591.70 L151.07 592.91 L152.06 594.03 L153.05 595.14 L154.13 596.30 L155.40 597.60 L156.31 598.50 L157.29 599.47 L158.35 600.50 L159.47 601.58 L160.63 602.70 L161.84 603.84 L163.09 604.99 L164.35 606.14 L165.63 607.27 L166.92 608.38 L168.20 609.44 L169.46 610.45 L170.70 611.40 L172.06 612.38 L173.43 613.32 L174.81 614.23 L176.21 615.10 L177.61 615.95 L179.02 616.77 L180.43 617.58 L181.85 618.37 L183.27 619.15 L184.68 619.92 L186.10 620.70 L187.48 621.45 L188.86 622.19 L190.24 622.91 L191.63 623.63 L193.02 624.33 L194.41 625.02 L195.80 625.69 L197.20 626.36 L198.59 627.02 L200.00 627.66 L201.40 628.30 L202.79 628.92 L204.19 629.53 L205.60 630.13 L207.02 630.73 L208.43 631.31 L209.85 631.88 L211.26 632.44 L212.66 632.98 L214.05 633.51 L215.43 634.01 L216.80 634.50 L218.27 635.01 L219.66 635.47 L221.02 635.91 L222.36 636.32 L223.73 636.73 L225.15 637.14 L226.65 637.57 L228.25 638.01 L230.00 638.50 L231.14 638.82 L232.34 639.15 L233.59 639.50 L234.89 639.86 L236.23 640.24 L237.61 640.62 L239.03 641.01 L240.48 641.41 L241.96 641.82 L243.47 642.22 L245.00 642.63 L246.55 643.04 L248.12 643.45 L249.69 643.86 L251.28 644.26 L252.87 644.65 L254.46 645.04 L256.04 645.42 L257.62 645.79 L259.19 646.14 L260.75 646.48 L262.29 646.81 L263.81 647.11 L265.30 647.40 L266.83 647.68 L268.38 647.95 L269.93 648.21 L271.49 648.46 L273.06 648.70 L274.63 648.94 L276.20 649.16 L277.78 649.38 L279.36 649.58 L280.93 649.78 L282.51 649.97 L284.08 650.16 L285.64 650.34 L287.19 650.51 L288.74 650.67 L290.28 650.83 L291.80 650.98 L293.31 651.13 L294.80 651.27 L296.28 651.41 L297.74 651.54 L299.18 651.67 L300.60 651.80 L302.29 651.95 L303.94 652.09 L305.57 652.22 L307.18 652.34 L308.77 652.46 L310.34 652.56 L311.89 652.66 L313.43 652.75 L314.97 652.83 L316.50 652.90 L318.03 652.96 L319.56 653.01 L321.09 653.05 L322.63 653.08 L324.19 653.09 L325.75 653.10 L327.31 653.09 L328.87 653.08 L330.41 653.05 L331.94 653.01 L333.47 652.96 L335.00 652.90 L336.53 652.83 L338.07 652.75 L339.61 652.66 L341.16 652.56 L342.73 652.46 L344.32 652.34 L345.93 652.22 L347.56 652.09 L349.21 651.95 L350.90 651.80 L352.32 651.67 L353.76 651.54 L355.22 651.41 L356.70 651.27 L358.19 651.13 L359.70 650.98 L361.22 650.83 L362.76 650.67 L364.31 650.51 L365.86 650.34 L367.42 650.16 L368.99 649.97 L370.57 649.78 L372.14 649.58 L373.72 649.38 L375.30 649.16 L376.87 648.94 L378.44 648.70 L380.01 648.46 L381.57 648.21 L383.12 647.95 L384.67 647.68 L386.20 647.40 L387.69 647.11 L389.21 646.81 L390.75 646.48 L392.31 646.14 L393.88 645.79 L395.46 645.42 L397.04 645.04 L398.63 644.65 L400.22 644.26 L401.81 643.86 L403.38 643.45 L404.95 643.04 L406.50 642.63 L408.03 642.22 L409.54 641.82 L411.02 641.41 L412.47 641.01 L413.89 640.62 L415.27 640.24 L416.61 639.86 L417.91 639.50 L419.16 639.15 L420.36 638.82 L421.50 638.50 L423.25 638.01 L424.85 637.57 L426.35 637.14 L427.77 636.73 L429.14 636.32 L430.48 635.91 L431.84 635.47 L433.23 635.01 L434.70 634.50 L436.07 634.01 L437.45 633.51 L438.84 632.98 L440.24 632.44 L441.65 631.88 L443.07 631.31 L444.48 630.73 L445.90 630.13 L447.31 629.53 L448.71 628.92 L450.10 628.30 L451.50 627.66 L452.91 627.02 L454.30 626.36 L455.70 625.69 L457.09 625.02 L458.48 624.33 L459.87 623.63 L461.26 622.91 L462.64 622.19 L464.02 621.45 L465.40 620.70 L466.82 619.92 L468.23 619.15 L469.65 618.37 L471.07 617.58 L472.48 616.77 L473.89 615.95 L475.29 615.10 L476.69 614.23 L478.07 613.32 L479.44 612.38 L480.80 611.40 L482.04 610.46 L483.31 609.45 L484.59 608.40 L485.87 607.31 L487.16 606.19 L488.43 605.05 L489.67 603.91 L490.88 602.77 L492.05 601.66 L493.17 600.57 L494.22 599.53 L495.20 598.53 L496.10 597.60 L497.42 596.15 L498.57 594.77 L499.60 593.47 L500.55 592.21 L501.50 591.00 L502.69 589.49 L503.78 588.06 L505.00 586.50 L505.97 585.30 L507.04 584.03 L508.16 582.69 L509.31 581.30 L510.43 579.90 L511.50 578.50 L512.39 577.26 L513.26 575.99 L514.13 574.69 L514.97 573.39 L515.80 572.10 L516.61 570.83 L517.40 569.60 L518.34 568.15 L519.24 566.75 L520.12 565.37 L521.00 563.97 L521.90 562.50 L522.76 561.01 L523.62 559.40 L524.49 557.77 L525.37 556.18 L526.27 554.73 L527.20 553.50 L528.64 552.04 L530.11 550.87 L531.50 550.00 L532.77 549.52 L534.00 549.20 L534.65 551.22 L535.30 553.50 L535.61 554.84 L535.93 556.34 L536.25 557.96 L536.57 559.68 L536.89 561.45 L537.20 563.24 L537.50 565.00 L537.75 566.53 L537.99 568.11 L538.23 569.71 L538.46 571.34 L538.69 572.97 L538.92 574.61 L539.15 576.23 L539.37 577.83 L539.60 579.40 L539.84 581.02 L540.08 582.61 L540.32 584.20 L540.56 585.77 L540.80 587.33 L541.03 588.88 L541.27 590.44 L541.50 592.00 L541.73 593.53 L541.95 595.06 L542.18 596.59 L542.40 598.11 L542.62 599.63 L542.85 601.15 L543.07 602.67 L543.30 604.20 L543.54 605.72 L543.78 607.21 L544.02 608.70 L544.27 610.19 L544.51 611.70 L544.75 613.24 L544.98 614.84 L545.20 616.50 L545.37 617.90 L545.53 619.33 L545.69 620.80 L545.84 622.29 L545.98 623.81 L546.12 625.35 L546.27 626.92 L546.41 628.50 L546.55 630.11 L546.70 631.72 L546.85 633.36 L547.00 635.00 L547.14 636.43 L547.28 637.89 L547.42 639.37 L547.56 640.86 L547.70 642.38 L547.84 643.90 L547.99 645.44 L548.13 646.99 L548.28 648.54 L548.43 650.10 L548.57 651.66 L548.72 653.22 L548.87 654.78 L549.01 656.33 L549.16 657.87 L549.30 659.40" fill="none" stroke="#000" stroke-width="1.45"/>
<path d="M102.20 659.40 L102.31 657.88 L102.41 656.36 L102.52 654.84 L102.63 653.31 L102.73 651.79 L102.84 650.26 L102.94 648.73 L103.05 647.20 L103.15 645.67 L103.26 644.14 L103.36 642.61 L103.47 641.08 L103.58 639.55 L103.68 638.03 L103.79 636.50 L103.89 634.98 L104.00 633.46 L104.11 631.95 L104.22 630.44 L104.33 628.93 L104.44 627.43 L104.55 625.93 L104.66 624.44 L104.77 622.95 L104.89 621.47 L105.00 620.00 L105.12 618.43 L105.25 616.86 L105.37 615.29 L105.50 613.72 L105.63 612.14 L105.76 610.57 L105.89 609.00 L106.02 607.44 L106.15 605.88 L106.28 604.32 L106.41 602.77 L106.55 601.23 L106.68 599.70 L106.81 598.17 L106.95 596.66 L107.08 595.15 L107.21 593.66 L107.34 592.18 L107.48 590.71 L107.61 589.26 L107.74 587.82 L107.87 586.40 L108.00 585.00 L108.16 583.30 L108.31 581.60 L108.47 579.90 L108.63 578.20 L108.79 576.52 L108.94 574.84 L109.10 573.19 L109.26 571.57 L109.41 569.97 L109.57 568.40 L109.72 566.88 L109.88 565.40 L110.03 563.96 L110.19 562.58 L110.35 561.26 L110.50 560.00 L110.73 558.26 L110.96 556.67 L111.19 555.18 L111.42 553.76 L111.64 552.37 L111.87 550.96 L112.10 549.50 L113.62 550.98 L114.90 552.60 L115.39 554.63 L115.70 557.00 L116.02 558.34 L116.40 559.83 L116.83 561.40 L117.27 563.02 L117.70 564.64 L118.10 566.20 L118.45 567.69 L118.77 569.17 L119.09 570.66 L119.41 572.13 L119.74 573.58 L120.10 575.00 L120.53 576.54 L120.99 578.05 L121.46 579.53 L121.93 581.01 L122.40 582.50 L122.84 583.97 L123.26 585.41 L123.69 586.86 L124.16 588.38 L124.70 590.00 L125.15 591.29 L125.63 592.66 L126.15 594.09 L126.69 595.57 L127.26 597.06 L127.84 598.55 L128.42 600.02 L129.01 601.44 L129.60 602.80 L130.28 604.31 L130.98 605.78 L131.68 607.22 L132.40 608.63 L133.13 610.01 L133.86 611.37 L134.60 612.70 L135.39 614.10 L136.19 615.47 L136.99 616.81 L137.81 618.11 L138.65 619.38 L139.50 620.60 L140.46 621.89 L141.43 623.13 L142.43 624.33 L143.45 625.48 L144.50 626.60 L145.82 627.93 L147.18 629.21 L148.58 630.42 L150.00 631.50 L151.26 632.33 L152.49 633.04 L153.83 633.73 L155.40 634.50 L156.49 635.02 L157.69 635.57 L158.99 636.15 L160.37 636.75 L161.80 637.36 L163.28 637.98 L164.79 638.60 L166.30 639.22 L167.80 639.83 L169.27 640.43 L170.70 641.00 L172.23 641.62 L173.76 642.25 L175.30 642.88 L176.83 643.50 L178.37 644.11 L179.91 644.71 L181.45 645.28 L183.00 645.83 L184.55 646.33 L186.10 646.80 L187.62 647.21 L189.14 647.58 L190.66 647.91 L192.19 648.22 L193.72 648.51 L195.26 648.78 L196.79 649.03 L198.33 649.29 L199.86 649.54 L201.40 649.80 L202.92 650.06 L204.42 650.31 L205.91 650.55 L207.40 650.78 L208.89 651.01 L210.40 651.24 L211.94 651.45 L213.51 651.67 L215.13 651.89 L216.80 652.10 L218.20 652.28 L219.62 652.45 L221.06 652.62 L222.53 652.80 L224.01 652.97 L225.52 653.14 L227.05 653.30 L228.60 653.47 L230.17 653.63 L231.76 653.78 L233.37 653.94 L235.00 654.08 L236.65 654.23 L238.31 654.37 L240.00 654.50 L241.40 654.61 L242.82 654.71 L244.25 654.80 L245.69 654.90 L247.14 654.99 L248.61 655.07 L250.09 655.16 L251.58 655.24 L253.09 655.32 L254.61 655.39 L256.15 655.47 L257.69 655.54 L259.26 655.61 L260.84 655.68 L262.43 655.75 L264.04 655.81 L265.66 655.88 L267.30 655.94 L268.95 656.01 L270.62 656.07 L272.30 656.14 L274.00 656.20 L275.37 656.25 L276.76 656.30 L278.17 656.36 L279.59 656.41 L281.03 656.46 L282.48 656.52 L283.95 656.57 L285.43 656.62 L286.92 656.67 L288.43 656.73 L289.94 656.78 L291.46 656.83 L293.00 656.88 L294.54 656.93 L296.08 656.98 L297.64 657.02 L299.20 657.07 L300.76 657.11 L302.33 657.15 L303.90 657.19 L305.47 657.23 L307.05 657.27 L308.62 657.30 L310.20 657.34 L311.77 657.36 L313.34 657.39 L314.91 657.42 L316.48 657.44 L318.04 657.46 L319.60 657.47 L321.15 657.48 L322.69 657.49 L324.22 657.50 L325.75 657.50 L327.28 657.50 L328.81 657.49 L330.35 657.48 L331.90 657.47 L333.46 657.46 L335.02 657.44 L336.59 657.42 L338.16 657.39 L339.73 657.36 L341.30 657.34 L342.88 657.30 L344.45 657.27 L346.03 657.23 L347.60 657.19 L349.17 657.15 L350.74 657.11 L352.30 657.07 L353.86 657.02 L355.42 656.98 L356.96 656.93 L358.50 656.88 L360.04 656.83 L361.56 656.78 L363.07 656.73 L364.58 656.67 L366.07 656.62 L367.55 656.57 L369.02 656.52 L370.47 656.46 L371.91 656.41 L373.33 656.36 L374.74 656.30 L376.13 656.25 L377.50 656.20 L379.20 656.14 L380.88 656.07 L382.55 656.01 L384.20 655.94 L385.84 655.88 L387.46 655.81 L389.07 655.75 L390.66 655.68 L392.24 655.61 L393.81 655.54 L395.35 655.47 L396.89 655.39 L398.41 655.32 L399.92 655.24 L401.41 655.16 L402.89 655.07 L404.36 654.99 L405.81 654.90 L407.25 654.80 L408.68 654.71 L410.10 654.61 L411.50 654.50 L413.19 654.37 L414.85 654.23 L416.50 654.08 L418.13 653.94 L419.74 653.78 L421.33 653.63 L422.90 653.47 L424.45 653.30 L425.98 653.14 L427.49 652.97 L428.97 652.80 L430.44 652.62 L431.88 652.45 L433.30 652.28 L434.70 652.10 L436.37 651.89 L437.99 651.67 L439.56 651.45 L441.10 651.24 L442.61 651.01 L444.10 650.78 L445.59 650.55 L447.08 650.31 L448.58 650.06 L450.10 649.80 L451.64 649.54 L453.17 649.29 L454.71 649.03 L456.24 648.78 L457.78 648.51 L459.31 648.22 L460.84 647.91 L462.36 647.58 L463.88 647.21 L465.40 646.80 L466.95 646.33 L468.50 645.83 L470.05 645.28 L471.59 644.71 L473.13 644.11 L474.67 643.50 L476.20 642.88 L477.74 642.25 L479.27 641.62 L480.80 641.00 L482.23 640.43 L483.70 639.83 L485.20 639.22 L486.71 638.60 L488.22 637.98 L489.70 637.36 L491.13 636.75 L492.51 636.15 L493.81 635.57 L495.01 635.02 L496.10 634.50 L497.67 633.73 L499.01 633.04 L500.24 632.33 L501.50 631.50 L502.92 630.42 L504.32 629.21 L505.68 627.93 L507.00 626.60 L508.05 625.48 L509.07 624.33 L510.07 623.13 L511.04 621.89 L512.00 620.60 L512.85 619.38 L513.69 618.11 L514.51 616.81 L515.31 615.47 L516.11 614.10 L516.90 612.70 L517.64 611.37 L518.37 610.01 L519.10 608.63 L519.82 607.22 L520.52 605.78 L521.22 604.31 L521.90 602.80 L522.49 601.44 L523.08 600.02 L523.66 598.55 L524.24 597.06 L524.81 595.57 L525.35 594.09 L525.87 592.66 L526.35 591.29 L526.80 590.00 L527.34 588.38 L527.81 586.86 L528.24 585.41 L528.66 583.97 L529.10 582.50 L529.57 581.01 L530.04 579.53 L530.51 578.05 L530.97 576.54 L531.40 575.00 L531.76 573.58 L532.09 572.13 L532.41 570.66 L532.73 569.17 L533.05 567.69 L533.40 566.20 L533.80 564.64 L534.23 563.02 L534.67 561.40 L535.10 559.83 L535.48 558.34 L535.80 557.00 L536.11 554.63 L536.60 552.60 L537.88 550.98 L539.40 549.50 L539.63 550.96 L539.86 552.37 L540.08 553.76 L540.31 555.18 L540.54 556.67 L540.77 558.26 L541.00 560.00 L541.15 561.26 L541.31 562.58 L541.47 563.96 L541.62 565.40 L541.78 566.88 L541.93 568.40 L542.09 569.97 L542.24 571.57 L542.40 573.19 L542.56 574.84 L542.71 576.52 L542.87 578.20 L543.03 579.90 L543.19 581.60 L543.34 583.30 L543.50 585.00 L543.63 586.40 L543.76 587.82 L543.89 589.26 L544.02 590.71 L544.16 592.18 L544.29 593.66 L544.42 595.15 L544.55 596.66 L544.69 598.17 L544.82 599.70 L544.95 601.23 L545.09 602.77 L545.22 604.32 L545.35 605.88 L545.48 607.44 L545.61 609.00 L545.74 610.57 L545.87 612.14 L546.00 613.72 L546.13 615.29 L546.25 616.86 L546.38 618.43 L546.50 620.00 L546.61 621.47 L546.73 622.95 L546.84 624.44 L546.95 625.93 L547.06 627.43 L547.17 628.93 L547.28 630.44 L547.39 631.95 L547.50 633.46 L547.61 634.98 L547.71 636.50 L547.82 638.03 L547.92 639.55 L548.03 641.08 L548.14 642.61 L548.24 644.14 L548.35 645.67 L548.45 647.20 L548.56 648.73 L548.66 650.26 L548.77 651.79 L548.87 653.31 L548.98 654.84 L549.09 656.36 L549.19 657.88 L549.30 659.40" fill="none" stroke="#000" stroke-width="1.45"/>
<path d="M102.20 659.40 L102.32 657.90 L102.44 656.41 L102.56 654.92 L102.68 653.42 L102.81 651.93 L102.93 650.43 L103.05 648.94 L103.17 647.45 L103.29 645.95 L103.41 644.46 L103.53 642.97 L103.65 641.47 L103.77 639.98 L103.89 638.48 L104.01 636.99 L104.14 635.49 L104.26 633.99 L104.38 632.50 L104.50 631.00 L104.63 629.50 L104.75 628.00 L104.87 626.50 L105.00 625.00 L105.13 623.48 L105.25 621.95 L105.38 620.41 L105.51 618.86 L105.64 617.30 L105.77 615.74 L105.90 614.18 L106.03 612.62 L106.16 611.05 L106.29 609.49 L106.43 607.93 L106.56 606.37 L106.69 604.82 L106.82 603.28 L106.95 601.75 L107.08 600.23 L107.22 598.72 L107.35 597.22 L107.48 595.74 L107.61 594.28 L107.74 592.83 L107.87 591.40 L108.00 590.00 L108.15 588.30 L108.30 586.60 L108.45 584.90 L108.59 583.21 L108.73 581.53 L108.88 579.86 L109.02 578.22 L109.16 576.59 L109.31 575.00 L109.46 573.44 L109.61 571.91 L109.77 570.43 L109.94 568.99 L110.12 567.60 L110.30 566.27 L110.50 565.00 L110.82 563.19 L111.17 561.52 L111.53 559.96 L111.89 558.47 L112.27 557.01 L112.64 555.53 L113.00 554.00 L114.33 554.88 L115.50 556.00 L116.02 557.24 L116.35 558.77 L116.60 560.44 L116.90 562.10 L117.22 563.55 L117.55 565.05 L117.88 566.57 L118.20 568.07 L118.50 569.50 L118.91 571.49 L119.30 573.40 L119.70 575.30 L120.14 577.22 L120.60 579.13 L121.00 581.00 L121.29 582.68 L121.54 584.33 L121.80 586.00 L122.07 587.84 L122.34 589.71 L122.70 591.50 L123.17 592.95 L123.70 594.33 L124.20 595.90 L124.48 597.20 L124.71 598.65 L124.92 600.19 L125.14 601.76 L125.39 603.32 L125.70 604.80 L126.15 606.45 L126.66 608.09 L127.21 609.70 L127.74 611.24 L128.20 612.70 L128.66 614.51 L129.07 616.19 L129.60 617.70 L130.55 619.17 L131.60 620.60 L132.42 622.03 L133.25 623.59 L134.10 625.10 L134.92 626.45 L135.75 627.76 L136.60 629.00 L137.79 630.51 L139.00 632.00 L140.20 633.77 L141.50 635.50 L142.60 636.52 L143.81 637.45 L145.00 638.40 L146.08 639.41 L147.14 640.44 L148.40 641.40 L149.57 642.07 L150.85 642.68 L152.25 643.27 L153.77 643.87 L155.40 644.50 L156.68 645.00 L158.07 645.52 L159.54 646.06 L161.07 646.62 L162.66 647.18 L164.27 647.73 L165.90 648.28 L167.53 648.81 L169.13 649.32 L170.70 649.80 L172.20 650.25 L173.66 650.69 L175.10 651.12 L176.54 651.53 L177.99 651.93 L179.47 652.32 L181.01 652.69 L182.61 653.04 L184.30 653.38 L186.10 653.70 L187.36 653.90 L188.66 654.09 L190.01 654.27 L191.40 654.44 L192.83 654.60 L194.29 654.75 L195.79 654.90 L197.31 655.04 L198.86 655.17 L200.44 655.29 L202.03 655.41 L203.64 655.53 L205.26 655.64 L206.89 655.74 L208.54 655.84 L210.18 655.94 L211.83 656.04 L213.48 656.13 L215.12 656.22 L216.76 656.32 L218.39 656.41 L220.00 656.50 L221.47 656.58 L222.94 656.66 L224.41 656.74 L225.87 656.81 L227.33 656.88 L228.80 656.94 L230.27 657.00 L231.74 657.06 L233.21 657.12 L234.69 657.17 L236.18 657.22 L237.67 657.27 L239.17 657.31 L240.68 657.36 L242.21 657.40 L243.74 657.44 L245.29 657.48 L246.85 657.52 L248.43 657.56 L250.02 657.59 L251.64 657.63 L253.27 657.66 L254.92 657.70 L256.59 657.73 L258.28 657.77 L260.00 657.80 L261.35 657.83 L262.71 657.85 L264.10 657.88 L265.49 657.90 L266.91 657.92 L268.33 657.95 L269.78 657.97 L271.23 657.99 L272.70 658.01 L274.18 658.03 L275.67 658.05 L277.17 658.06 L278.68 658.08 L280.20 658.10 L281.73 658.11 L283.27 658.13 L284.82 658.14 L286.37 658.15 L287.93 658.17 L289.50 658.18 L291.07 658.19 L292.65 658.20 L294.23 658.21 L295.81 658.22 L297.40 658.23 L298.99 658.24 L300.58 658.24 L302.17 658.25 L303.76 658.26 L305.35 658.26 L306.94 658.27 L308.53 658.27 L310.12 658.28 L311.71 658.28 L313.29 658.29 L314.87 658.29 L316.44 658.29 L318.01 658.30 L319.57 658.30 L321.13 658.30 L322.68 658.30 L324.22 658.30 L325.75 658.30 L327.28 658.30 L328.82 658.30 L330.37 658.30 L331.93 658.30 L333.49 658.30 L335.06 658.29 L336.63 658.29 L338.21 658.29 L339.79 658.28 L341.38 658.28 L342.97 658.27 L344.56 658.27 L346.15 658.26 L347.74 658.26 L349.33 658.25 L350.92 658.24 L352.51 658.24 L354.10 658.23 L355.69 658.22 L357.27 658.21 L358.85 658.20 L360.43 658.19 L362.00 658.18 L363.57 658.17 L365.13 658.15 L366.68 658.14 L368.23 658.13 L369.77 658.11 L371.30 658.10 L372.82 658.08 L374.33 658.06 L375.83 658.05 L377.32 658.03 L378.80 658.01 L380.27 657.99 L381.72 657.97 L383.17 657.95 L384.59 657.92 L386.01 657.90 L387.40 657.88 L388.79 657.85 L390.15 657.83 L391.50 657.80 L393.22 657.77 L394.91 657.73 L396.58 657.70 L398.23 657.66 L399.86 657.63 L401.48 657.59 L403.07 657.56 L404.65 657.52 L406.21 657.48 L407.76 657.44 L409.29 657.40 L410.82 657.36 L412.33 657.31 L413.83 657.27 L415.32 657.22 L416.81 657.17 L418.29 657.12 L419.76 657.06 L421.23 657.00 L422.70 656.94 L424.17 656.88 L425.63 656.81 L427.09 656.74 L428.56 656.66 L430.03 656.58 L431.50 656.50 L433.11 656.41 L434.74 656.32 L436.38 656.22 L438.02 656.13 L439.67 656.04 L441.32 655.94 L442.96 655.84 L444.61 655.74 L446.24 655.64 L447.86 655.53 L449.47 655.41 L451.06 655.29 L452.64 655.17 L454.19 655.04 L455.71 654.90 L457.21 654.75 L458.67 654.60 L460.10 654.44 L461.49 654.27 L462.84 654.09 L464.14 653.90 L465.40 653.70 L467.20 653.38 L468.89 653.04 L470.49 652.69 L472.03 652.32 L473.51 651.93 L474.96 651.53 L476.40 651.12 L477.84 650.69 L479.30 650.25 L480.80 649.80 L482.37 649.32 L483.97 648.81 L485.60 648.28 L487.23 647.73 L488.84 647.18 L490.43 646.62 L491.96 646.06 L493.43 645.52 L494.82 645.00 L496.10 644.50 L497.73 643.87 L499.25 643.27 L500.65 642.68 L501.93 642.07 L503.10 641.40 L504.36 640.44 L505.42 639.41 L506.50 638.40 L507.69 637.45 L508.90 636.52 L510.00 635.50 L511.30 633.77 L512.50 632.00 L513.71 630.51 L514.90 629.00 L515.75 627.76 L516.58 626.45 L517.40 625.10 L518.25 623.59 L519.08 622.03 L519.90 620.60 L520.95 619.17 L521.90 617.70 L522.43 616.19 L522.84 614.51 L523.30 612.70 L523.76 611.24 L524.29 609.70 L524.84 608.09 L525.35 606.45 L525.80 604.80 L526.11 603.32 L526.36 601.76 L526.58 600.19 L526.79 598.65 L527.02 597.20 L527.30 595.90 L527.80 594.33 L528.33 592.95 L528.80 591.50 L529.16 589.71 L529.43 587.84 L529.70 586.00 L529.96 584.33 L530.21 582.68 L530.50 581.00 L530.90 579.13 L531.36 577.22 L531.80 575.30 L532.20 573.40 L532.59 571.49 L533.00 569.50 L533.30 568.07 L533.62 566.57 L533.95 565.05 L534.28 563.55 L534.60 562.10 L534.90 560.44 L535.15 558.77 L535.48 557.24 L536.00 556.00 L537.17 554.88 L538.50 554.00 L538.86 555.53 L539.23 557.01 L539.61 558.47 L539.97 559.96 L540.33 561.52 L540.68 563.19 L541.00 565.00 L541.20 566.27 L541.38 567.60 L541.56 568.99 L541.73 570.43 L541.89 571.91 L542.04 573.44 L542.19 575.00 L542.34 576.59 L542.48 578.22 L542.62 579.86 L542.77 581.53 L542.91 583.21 L543.05 584.90 L543.20 586.60 L543.35 588.30 L543.50 590.00 L543.63 591.40 L543.76 592.83 L543.89 594.28 L544.02 595.74 L544.15 597.22 L544.28 598.72 L544.42 600.23 L544.55 601.75 L544.68 603.28 L544.81 604.82 L544.94 606.37 L545.07 607.93 L545.21 609.49 L545.34 611.05 L545.47 612.62 L545.60 614.18 L545.73 615.74 L545.86 617.30 L545.99 618.86 L546.12 620.41 L546.25 621.95 L546.37 623.48 L546.50 625.00 L546.63 626.50 L546.75 628.00 L546.87 629.50 L547.00 631.00 L547.12 632.50 L547.24 633.99 L547.36 635.49 L547.49 636.99 L547.61 638.48 L547.73 639.98 L547.85 641.47 L547.97 642.97 L548.09 644.46 L548.21 645.95 L548.33 647.45 L548.45 648.94 L548.57 650.43 L548.69 651.93 L548.82 653.42 L548.94 654.92 L549.06 656.41 L549.18 657.90 L549.30 659.40" fill="none" stroke="#000" stroke-width="1.8" stroke-dasharray="0.01 4.4" stroke-linecap="round"/>
<path d="M102.20 659.40 L102.32 657.85 L102.44 656.29 L102.56 654.72 L102.68 653.15 L102.81 651.57 L102.93 649.99 L103.05 648.41 L103.17 646.84 L103.29 645.26 L103.41 643.69 L103.53 642.12 L103.66 640.57 L103.78 639.02 L103.90 637.48 L104.02 635.95 L104.14 634.44 L104.26 632.94 L104.38 631.46 L104.50 630.00 L104.63 628.35 L104.75 626.66 L104.86 624.95 L104.96 623.22 L105.06 621.49 L105.16 619.78 L105.27 618.09 L105.38 616.44 L105.49 614.84 L105.62 613.30 L105.76 611.84 L105.92 610.46 L106.09 609.19 L106.28 608.03 L106.50 607.00 L107.12 605.04 L107.81 603.52 L108.50 602.00 L109.50 603.91 L110.50 606.00 L111.03 607.37 L111.54 608.88 L112.06 610.48 L112.64 612.10 L113.30 613.70 L114.02 615.16 L114.83 616.62 L115.69 618.09 L116.58 619.58 L117.46 621.08 L118.30 622.60 L119.00 623.99 L119.68 625.43 L120.34 626.88 L121.01 628.34 L121.70 629.77 L122.43 631.16 L123.20 632.50 L124.10 633.92 L125.02 635.30 L125.97 636.65 L126.98 637.95 L128.05 639.20 L129.20 640.40 L130.31 641.43 L131.50 642.42 L132.75 643.37 L134.04 644.29 L135.35 645.16 L136.68 646.00 L138.00 646.80 L139.51 647.68 L141.03 648.51 L142.58 649.29 L144.15 650.02 L145.76 650.69 L147.40 651.30 L148.91 651.77 L150.45 652.17 L152.03 652.52 L153.62 652.83 L155.22 653.12 L156.82 653.41 L158.40 653.70 L159.95 654.00 L161.51 654.29 L163.07 654.57 L164.63 654.83 L166.17 655.08 L167.70 655.30 L169.20 655.50 L170.76 655.67 L172.29 655.81 L173.80 655.92 L175.30 656.01 L176.83 656.10 L178.40 656.20 L179.85 656.30 L181.26 656.39 L182.68 656.47 L184.14 656.56 L185.68 656.64 L187.36 656.72 L189.20 656.80 L190.36 656.85 L191.56 656.89 L192.79 656.94 L194.05 656.98 L195.36 657.02 L196.70 657.07 L198.08 657.11 L199.50 657.15 L200.96 657.19 L202.46 657.23 L204.01 657.27 L205.60 657.31 L207.23 657.35 L208.91 657.39 L210.63 657.42 L212.41 657.46 L214.23 657.50 L216.10 657.53 L218.03 657.57 L220.00 657.60 L221.07 657.62 L222.17 657.64 L223.29 657.65 L224.44 657.67 L225.61 657.69 L226.80 657.71 L228.01 657.72 L229.25 657.74 L230.51 657.76 L231.79 657.77 L233.09 657.79 L234.41 657.81 L235.75 657.83 L237.10 657.84 L238.48 657.86 L239.87 657.88 L241.28 657.89 L242.71 657.91 L244.15 657.92 L245.60 657.94 L247.08 657.96 L248.56 657.97 L250.06 657.99 L251.58 658.00 L253.10 658.02 L254.64 658.03 L256.19 658.05 L257.75 658.06 L259.32 658.07 L260.90 658.09 L262.49 658.10 L264.08 658.12 L265.69 658.13 L267.30 658.14 L268.92 658.16 L270.55 658.17 L272.18 658.18 L273.82 658.19 L275.46 658.20 L277.11 658.22 L278.76 658.23 L280.41 658.24 L282.07 658.25 L283.73 658.26 L285.39 658.27 L287.05 658.28 L288.71 658.29 L290.37 658.30 L292.03 658.31 L293.69 658.31 L295.35 658.32 L297.00 658.33 L298.66 658.34 L300.30 658.34 L301.95 658.35 L303.59 658.36 L305.22 658.36 L306.85 658.37 L308.47 658.37 L310.09 658.38 L311.70 658.38 L313.30 658.39 L314.89 658.39 L316.47 658.39 L318.05 658.39 L319.61 658.40 L321.16 658.40 L322.70 658.40 L324.23 658.40 L325.75 658.40 L327.27 658.40 L328.80 658.40 L330.34 658.40 L331.89 658.40 L333.45 658.39 L335.03 658.39 L336.61 658.39 L338.20 658.39 L339.80 658.38 L341.41 658.38 L343.03 658.37 L344.65 658.37 L346.28 658.36 L347.91 658.36 L349.55 658.35 L351.20 658.34 L352.84 658.34 L354.50 658.33 L356.15 658.32 L357.81 658.31 L359.47 658.31 L361.13 658.30 L362.79 658.29 L364.45 658.28 L366.11 658.27 L367.77 658.26 L369.43 658.25 L371.09 658.24 L372.74 658.23 L374.39 658.22 L376.04 658.20 L377.68 658.19 L379.32 658.18 L380.95 658.17 L382.58 658.16 L384.20 658.14 L385.81 658.13 L387.42 658.12 L389.01 658.10 L390.60 658.09 L392.18 658.07 L393.75 658.06 L395.31 658.05 L396.86 658.03 L398.40 658.02 L399.92 658.00 L401.44 657.99 L402.94 657.97 L404.42 657.96 L405.90 657.94 L407.35 657.92 L408.79 657.91 L410.22 657.89 L411.63 657.88 L413.02 657.86 L414.40 657.84 L415.75 657.83 L417.09 657.81 L418.41 657.79 L419.71 657.77 L420.99 657.76 L422.25 657.74 L423.49 657.72 L424.70 657.71 L425.89 657.69 L427.06 657.67 L428.21 657.65 L429.33 657.64 L430.43 657.62 L431.50 657.60 L433.47 657.57 L435.40 657.53 L437.27 657.50 L439.09 657.46 L440.87 657.42 L442.59 657.39 L444.27 657.35 L445.90 657.31 L447.49 657.27 L449.04 657.23 L450.54 657.19 L452.00 657.15 L453.42 657.11 L454.80 657.07 L456.14 657.02 L457.45 656.98 L458.71 656.94 L459.94 656.89 L461.14 656.85 L462.30 656.80 L464.14 656.72 L465.82 656.64 L467.36 656.56 L468.82 656.47 L470.24 656.39 L471.65 656.30 L473.10 656.20 L474.67 656.10 L476.20 656.01 L477.70 655.92 L479.21 655.81 L480.74 655.67 L482.30 655.50 L483.80 655.30 L485.33 655.08 L486.87 654.83 L488.43 654.57 L489.99 654.29 L491.55 654.00 L493.10 653.70 L494.68 653.41 L496.28 653.12 L497.88 652.83 L499.47 652.52 L501.05 652.17 L502.59 651.77 L504.10 651.30 L505.74 650.69 L507.35 650.02 L508.92 649.29 L510.47 648.51 L511.99 647.68 L513.50 646.80 L514.82 646.00 L516.15 645.16 L517.46 644.29 L518.75 643.37 L520.00 642.42 L521.19 641.43 L522.30 640.40 L523.45 639.20 L524.52 637.95 L525.53 636.65 L526.48 635.30 L527.40 633.92 L528.30 632.50 L529.07 631.17 L529.80 629.77 L530.48 628.34 L531.15 626.89 L531.82 625.44 L532.49 624.00 L533.20 622.60 L534.04 620.98 L534.92 619.30 L535.80 617.64 L536.68 616.07 L537.51 614.66 L538.30 613.50 L539.52 612.12 L540.70 611.00 L541.37 612.47 L542.06 613.93 L542.72 615.42 L543.30 617.00 L543.72 618.48 L544.08 620.01 L544.39 621.59 L544.69 623.25 L545.00 625.00 L545.26 626.45 L545.52 627.95 L545.77 629.50 L546.02 631.10 L546.27 632.75 L546.52 634.45 L546.76 636.20 L547.00 638.00 L547.17 639.36 L547.34 640.78 L547.51 642.23 L547.68 643.72 L547.84 645.25 L548.01 646.80 L548.17 648.37 L548.33 649.95 L548.49 651.54 L548.65 653.13 L548.81 654.72 L548.97 656.30 L549.14 657.86 L549.30 659.40" fill="none" stroke="#000" stroke-width="1.45" stroke-dasharray="10 11" stroke-dashoffset="13.34"/>
<path d="M102.20 659.40 L103.38 658.15 L104.50 657.00 L105.19 656.37 L105.90 655.70 L106.79 654.64 L107.79 653.39 L108.90 652.30 L110.79 651.04 L112.80 650.30 L114.63 650.45 L116.50 651.00 L117.92 651.49 L119.36 652.08 L120.80 652.70 L122.26 653.38 L123.72 654.10 L125.20 654.70 L126.66 655.10 L128.14 655.40 L129.60 655.70 L131.58 656.23 L133.60 656.70 L135.21 656.91 L136.88 657.05 L138.50 657.20 L140.27 657.46 L142.50 657.70 L143.28 657.75 L144.14 657.79 L145.07 657.83 L146.09 657.87 L147.17 657.90 L148.32 657.93 L149.54 657.96 L150.83 657.98 L152.17 658.00 L153.58 658.02 L155.04 658.04 L156.56 658.06 L158.13 658.07 L159.74 658.08 L161.41 658.09 L163.11 658.10 L164.86 658.11 L166.64 658.12 L168.47 658.13 L170.32 658.14 L172.21 658.15 L174.12 658.16 L176.06 658.17 L178.02 658.19 L180.00 658.20 L181.02 658.21 L182.06 658.21 L183.12 658.22 L184.20 658.23 L185.30 658.23 L186.42 658.24 L187.56 658.25 L188.71 658.25 L189.88 658.26 L191.07 658.27 L192.28 658.27 L193.50 658.28 L194.74 658.28 L196.00 658.29 L197.27 658.29 L198.56 658.30 L199.86 658.30 L201.18 658.31 L202.51 658.31 L203.86 658.32 L205.22 658.32 L206.60 658.32 L207.98 658.33 L209.38 658.33 L210.80 658.34 L212.22 658.34 L213.66 658.34 L215.11 658.35 L216.57 658.35 L218.05 658.35 L219.53 658.35 L221.02 658.36 L222.53 658.36 L224.04 658.36 L225.57 658.37 L227.10 658.37 L228.64 658.37 L230.19 658.37 L231.75 658.37 L233.32 658.38 L234.89 658.38 L236.47 658.38 L238.06 658.38 L239.66 658.38 L241.26 658.39 L242.87 658.39 L244.49 658.39 L246.11 658.39 L247.73 658.39 L249.36 658.39 L251.00 658.39 L252.64 658.39 L254.28 658.39 L255.93 658.40 L257.58 658.40 L259.23 658.40 L260.89 658.40 L262.54 658.40 L264.20 658.40 L265.87 658.40 L267.53 658.40 L269.19 658.40 L270.86 658.40 L272.53 658.40 L274.19 658.40 L275.86 658.40 L277.52 658.40 L279.19 658.40 L280.85 658.40 L282.52 658.40 L284.18 658.40 L285.84 658.40 L287.49 658.40 L289.15 658.40 L290.80 658.40 L292.45 658.40 L294.09 658.40 L295.73 658.40 L297.37 658.40 L299.00 658.40 L300.63 658.40 L302.25 658.40 L303.86 658.40 L305.48 658.40 L307.08 658.40 L308.68 658.40 L310.27 658.40 L311.85 658.40 L313.43 658.40 L315.00 658.40 L316.56 658.40 L318.12 658.40 L319.66 658.40 L321.20 658.40 L322.73 658.40 L324.24 658.40 L325.75 658.40 L327.26 658.40 L328.77 658.40 L330.30 658.40 L331.84 658.40 L333.38 658.40 L334.94 658.40 L336.50 658.40 L338.07 658.40 L339.65 658.40 L341.23 658.40 L342.82 658.40 L344.42 658.40 L346.02 658.40 L347.64 658.40 L349.25 658.40 L350.87 658.40 L352.50 658.40 L354.13 658.40 L355.77 658.40 L357.41 658.40 L359.05 658.40 L360.70 658.40 L362.35 658.40 L364.01 658.40 L365.66 658.40 L367.32 658.40 L368.98 658.40 L370.65 658.40 L372.31 658.40 L373.98 658.40 L375.64 658.40 L377.31 658.40 L378.97 658.40 L380.64 658.40 L382.31 658.40 L383.97 658.40 L385.63 658.40 L387.30 658.40 L388.96 658.40 L390.61 658.40 L392.27 658.40 L393.92 658.40 L395.57 658.40 L397.22 658.39 L398.86 658.39 L400.50 658.39 L402.14 658.39 L403.77 658.39 L405.39 658.39 L407.01 658.39 L408.63 658.39 L410.24 658.39 L411.84 658.38 L413.44 658.38 L415.03 658.38 L416.61 658.38 L418.18 658.38 L419.75 658.37 L421.31 658.37 L422.86 658.37 L424.40 658.37 L425.93 658.37 L427.46 658.36 L428.97 658.36 L430.48 658.36 L431.97 658.35 L433.45 658.35 L434.93 658.35 L436.39 658.35 L437.84 658.34 L439.28 658.34 L440.70 658.34 L442.12 658.33 L443.52 658.33 L444.90 658.32 L446.28 658.32 L447.64 658.32 L448.99 658.31 L450.32 658.31 L451.64 658.30 L452.94 658.30 L454.23 658.29 L455.50 658.29 L456.76 658.28 L458.00 658.28 L459.22 658.27 L460.43 658.27 L461.62 658.26 L462.79 658.25 L463.94 658.25 L465.08 658.24 L466.20 658.23 L467.30 658.23 L468.38 658.22 L469.44 658.21 L470.48 658.21 L471.50 658.20 L473.48 658.19 L475.44 658.17 L477.38 658.16 L479.29 658.15 L481.18 658.14 L483.03 658.13 L484.86 658.12 L486.64 658.11 L488.39 658.10 L490.09 658.09 L491.76 658.08 L493.37 658.07 L494.94 658.06 L496.46 658.04 L497.92 658.02 L499.33 658.00 L500.67 657.98 L501.96 657.96 L503.18 657.93 L504.33 657.90 L505.41 657.87 L506.43 657.83 L507.36 657.79 L508.22 657.75 L509.00 657.70 L511.23 657.46 L513.00 657.20 L514.62 657.05 L516.29 656.91 L517.90 656.70 L519.92 656.23 L521.90 655.70 L523.36 655.40 L524.84 655.10 L526.30 654.70 L527.78 654.10 L529.24 653.38 L530.70 652.70 L532.14 652.08 L533.58 651.49 L535.00 651.00 L536.87 650.45 L538.70 650.30 L540.71 651.04 L542.60 652.30 L543.71 653.39 L544.71 654.64 L545.60 655.70 L546.31 656.37 L547.00 657.00 L548.12 658.15 L549.30 659.40" fill="none" stroke="#000" stroke-width="1.8" stroke-dasharray="0.01 4.4" stroke-linecap="round"/>
<path d="M685.20 659.40 L685.26 657.88 L685.32 656.35 L685.38 654.83 L685.44 653.31 L685.50 651.79 L685.56 650.26 L685.62 648.74 L685.68 647.22 L685.74 645.70 L685.80 644.18 L685.86 642.65 L685.92 641.13 L685.98 639.61 L686.04 638.09 L686.10 636.57 L686.16 635.05 L686.22 633.52 L686.28 632.00 L686.34 630.48 L686.40 628.96 L686.46 627.44 L686.52 625.91 L686.58 624.39 L686.64 622.87 L686.70 621.35 L686.76 619.82 L686.82 618.30 L686.87 616.78 L686.93 615.25 L686.99 613.73 L687.05 612.20 L687.11 610.68 L687.16 609.16 L687.22 607.63 L687.28 606.10 L687.33 604.58 L687.39 603.05 L687.44 601.53 L687.50 600.00 L687.55 598.50 L687.61 597.01 L687.66 595.51 L687.71 594.01 L687.77 592.51 L687.82 591.01 L687.87 589.51 L687.92 588.01 L687.98 586.51 L688.03 585.01 L688.08 583.51 L688.13 582.01 L688.18 580.51 L688.23 579.01 L688.29 577.51 L688.34 576.01 L688.39 574.50 L688.44 573.00 L688.49 571.50 L688.54 570.00 L688.59 568.50 L688.64 566.99 L688.69 565.49 L688.74 563.99 L688.79 562.49 L688.83 560.99 L688.88 559.49 L688.93 557.98 L688.98 556.48 L689.03 554.98 L689.08 553.48 L689.12 551.98 L689.17 550.48 L689.22 548.98 L689.27 547.49 L689.31 545.99 L689.36 544.49 L689.41 542.99 L689.45 541.50 L689.50 540.00 L689.55 538.47 L689.59 536.91 L689.64 535.35 L689.69 533.76 L689.74 532.17 L689.78 530.56 L689.83 528.94 L689.88 527.32 L689.93 525.68 L689.97 524.04 L690.02 522.40 L690.07 520.75 L690.11 519.11 L690.16 517.46 L690.21 515.81 L690.25 514.17 L690.30 512.53 L690.34 510.90 L690.39 509.28 L690.43 507.67 L690.48 506.06 L690.52 504.47 L690.56 502.89 L690.61 501.33 L690.65 499.78 L690.69 498.25 L690.74 496.74 L690.78 495.26 L690.82 493.79 L690.86 492.35 L690.90 490.93 L690.94 489.54 L690.98 488.18 L691.02 486.85 L691.05 485.55 L691.09 484.29 L691.13 483.05 L691.16 481.86 L691.20 480.70 L691.26 478.85 L691.31 477.09 L691.37 475.42 L691.42 473.83 L691.47 472.29 L691.52 470.81 L691.56 469.36 L691.61 467.94 L691.66 466.54 L691.71 465.15 L691.75 463.75 L691.80 462.33 L691.85 460.89 L691.90 459.40 L691.95 457.78 L692.00 456.14 L692.05 454.48 L692.10 452.80 L692.15 451.13 L692.20 449.46 L692.25 447.81 L692.31 446.19 L692.36 444.61 L692.42 443.06 L692.47 441.58 L692.54 440.15 L692.60 438.80 L692.69 436.88 L692.77 435.11 L692.86 433.44 L692.96 431.82 L693.11 430.19 L693.30 428.50 L693.52 426.94 L693.76 425.38 L694.04 423.81 L694.35 422.24 L694.67 420.66 L695.03 419.08 L695.40 417.50 L695.82 415.86 L696.28 414.22 L696.77 412.58 L697.28 410.93 L697.79 409.29 L698.30 407.64 L698.80 406.00 L698.87 407.59 L698.94 409.20 L699.00 410.82 L699.06 412.44 L699.12 414.05 L699.19 415.64 L699.28 417.20 L699.38 418.72 L699.50 420.20 L699.70 422.01 L699.94 423.76 L700.20 425.45 L700.47 427.13 L700.70 428.80 L700.90 430.50 L701.04 432.21 L701.13 433.93 L701.20 435.65 L701.27 437.37 L701.36 439.09 L701.50 440.80 L701.70 442.51 L701.93 444.22 L702.19 445.93 L702.46 447.64 L702.70 449.36 L702.90 451.10 L703.03 452.65 L703.13 454.23 L703.21 455.81 L703.29 457.39 L703.37 458.97 L703.47 460.55 L703.60 462.10 L703.79 463.83 L704.02 465.55 L704.26 467.25 L704.51 468.96 L704.76 470.67 L705.00 472.40 L705.20 473.96 L705.40 475.54 L705.60 477.14 L705.80 478.73 L706.00 480.31 L706.20 481.87 L706.40 483.40 L706.62 484.98 L706.86 486.52 L707.09 488.03 L707.31 489.55 L707.52 491.10 L707.70 492.70 L707.83 494.30 L707.91 495.95 L707.97 497.64 L708.03 499.34 L708.10 501.03 L708.22 502.69 L708.40 504.30 L708.68 505.97 L709.03 507.58 L709.42 509.17 L709.81 510.75 L710.18 512.36 L710.50 514.00 L710.73 515.53 L710.91 517.08 L711.07 518.66 L711.23 520.24 L711.39 521.82 L711.57 523.37 L711.80 524.90 L712.11 526.55 L712.47 528.16 L712.84 529.75 L713.22 531.34 L713.58 532.95 L713.90 534.60 L714.14 536.13 L714.34 537.68 L714.52 539.26 L714.69 540.84 L714.87 542.42 L715.07 543.97 L715.30 545.50 L715.59 547.15 L715.89 548.78 L716.22 550.39 L716.56 551.99 L716.92 553.59 L717.30 555.20 L717.70 556.83 L718.13 558.46 L718.57 560.08 L719.03 561.71 L719.51 563.35 L720.00 565.00 L720.46 566.50 L720.94 568.03 L721.43 569.57 L721.94 571.11 L722.44 572.62 L722.93 574.09 L723.40 575.50 L723.93 577.08 L724.44 578.57 L724.95 580.03 L725.46 581.49 L726.00 583.00 L726.49 584.38 L726.97 585.77 L727.47 587.18 L727.99 588.60 L728.56 590.04 L729.20 591.50 L729.91 592.97 L730.68 594.46 L731.51 595.98 L732.37 597.51 L733.25 599.03 L734.13 600.53 L735.00 602.00 L735.83 603.40 L736.65 604.78 L737.47 606.15 L738.32 607.51 L739.18 608.85 L740.07 610.18 L741.00 611.50 L742.00 612.84 L743.04 614.20 L744.11 615.54 L745.20 616.85 L746.30 618.13 L747.41 619.35 L748.50 620.50 L749.80 621.78 L751.09 622.94 L752.40 624.05 L753.75 625.15 L755.20 626.30 L756.35 627.21 L757.55 628.15 L758.80 629.11 L760.09 630.07 L761.38 631.02 L762.68 631.93 L763.96 632.80 L765.20 633.60 L766.59 634.44 L767.94 635.21 L769.28 635.92 L770.65 636.61 L772.08 637.29 L773.60 638.00 L774.97 638.61 L776.44 639.25 L777.98 639.89 L779.57 640.53 L781.16 641.16 L782.74 641.76 L784.26 642.33 L785.69 642.84 L787.00 643.30 L788.77 643.87 L790.34 644.33 L791.91 644.75 L793.70 645.20 L795.01 645.52 L796.45 645.87 L797.99 646.22 L799.59 646.58 L801.20 646.94 L802.80 647.29 L804.34 647.62 L805.79 647.92 L807.10 648.20 L808.89 648.57 L810.48 648.88 L812.05 649.17 L813.80 649.50 L815.29 649.78 L816.90 650.09 L818.59 650.40 L820.31 650.72 L822.03 651.03 L823.71 651.33 L825.30 651.60 L827.11 651.90 L828.84 652.17 L830.55 652.43 L832.28 652.67 L834.10 652.90 L835.67 653.08 L837.30 653.25 L838.97 653.41 L840.66 653.57 L842.34 653.71 L843.99 653.86 L845.60 654.00 L847.21 654.15 L848.73 654.29 L850.22 654.42 L851.77 654.55 L853.43 654.68 L855.30 654.80 L856.53 654.87 L857.83 654.94 L859.20 655.00 L860.63 655.07 L862.12 655.13 L863.65 655.19 L865.22 655.25 L866.82 655.31 L868.45 655.37 L870.10 655.42 L871.76 655.47 L873.43 655.52 L875.09 655.57 L876.75 655.62 L878.38 655.66 L880.00 655.70 L881.46 655.74 L882.93 655.77 L884.41 655.80 L885.90 655.84 L887.40 655.87 L888.90 655.90 L890.41 655.93 L891.93 655.95 L893.45 655.98 L894.98 656.00 L896.50 656.02 L898.03 656.04 L899.56 656.05 L901.09 656.07 L902.62 656.08 L904.15 656.09 L905.67 656.09 L907.19 656.10 L908.70 656.10 L910.21 656.10 L911.73 656.09 L913.25 656.09 L914.78 656.08 L916.31 656.07 L917.84 656.05 L919.37 656.04 L920.90 656.02 L922.42 656.00 L923.95 655.98 L925.47 655.95 L926.99 655.93 L928.50 655.90 L930.00 655.87 L931.50 655.84 L932.99 655.80 L934.47 655.77 L935.94 655.74 L937.40 655.70 L939.02 655.66 L940.65 655.62 L942.31 655.57 L943.97 655.52 L945.64 655.47 L947.30 655.42 L948.95 655.37 L950.58 655.31 L952.18 655.25 L953.75 655.19 L955.28 655.13 L956.77 655.07 L958.20 655.00 L959.57 654.94 L960.87 654.87 L962.10 654.80 L963.97 654.68 L965.63 654.55 L967.18 654.42 L968.67 654.29 L970.19 654.15 L971.80 654.00 L973.41 653.86 L975.06 653.71 L976.74 653.57 L978.43 653.41 L980.10 653.25 L981.73 653.08 L983.30 652.90 L985.12 652.67 L986.85 652.43 L988.56 652.17 L990.29 651.90 L992.10 651.60 L993.69 651.33 L995.37 651.03 L997.09 650.72 L998.81 650.40 L1000.50 650.09 L1002.11 649.78 L1003.60 649.50 L1005.35 649.17 L1006.92 648.88 L1008.51 648.57 L1010.30 648.20 L1011.61 647.92 L1013.06 647.62 L1014.60 647.29 L1016.20 646.94 L1017.81 646.58 L1019.41 646.22 L1020.95 645.87 L1022.39 645.52 L1023.70 645.20 L1025.49 644.75 L1027.06 644.33 L1028.63 643.87 L1030.40 643.30 L1031.71 642.84 L1033.14 642.33 L1034.66 641.76 L1036.24 641.16 L1037.83 640.53 L1039.42 639.89 L1040.96 639.25 L1042.43 638.61 L1043.80 638.00 L1045.32 637.29 L1046.75 636.61 L1048.12 635.92 L1049.46 635.21 L1050.81 634.44 L1052.20 633.60 L1053.44 632.80 L1054.72 631.93 L1056.02 631.02 L1057.31 630.07 L1058.60 629.11 L1059.85 628.15 L1061.05 627.21 L1062.20 626.30 L1063.65 625.15 L1065.00 624.05 L1066.31 622.94 L1067.60 621.78 L1068.90 620.50 L1069.99 619.35 L1071.10 618.13 L1072.20 616.85 L1073.29 615.54 L1074.36 614.20 L1075.40 612.84 L1076.40 611.50 L1077.33 610.18 L1078.22 608.85 L1079.08 607.51 L1079.93 606.15 L1080.75 604.78 L1081.57 603.40 L1082.40 602.00 L1083.27 600.53 L1084.15 599.03 L1085.03 597.51 L1085.89 595.98 L1086.72 594.46 L1087.49 592.97 L1088.20 591.50 L1088.84 590.04 L1089.41 588.60 L1089.93 587.18 L1090.43 585.77 L1090.91 584.38 L1091.40 583.00 L1091.94 581.49 L1092.45 580.03 L1092.96 578.57 L1093.47 577.08 L1094.00 575.50 L1094.47 574.09 L1094.96 572.62 L1095.46 571.11 L1095.97 569.57 L1096.46 568.03 L1096.94 566.50 L1097.40 565.00 L1097.89 563.35 L1098.37 561.71 L1098.83 560.08 L1099.27 558.46 L1099.70 556.83 L1100.10 555.20 L1100.48 553.59 L1100.84 551.99 L1101.18 550.39 L1101.51 548.78 L1101.81 547.15 L1102.10 545.50 L1102.33 543.97 L1102.53 542.42 L1102.71 540.84 L1102.88 539.26 L1103.06 537.68 L1103.26 536.13 L1103.50 534.60 L1103.82 532.95 L1104.18 531.34 L1104.56 529.75 L1104.93 528.16 L1105.29 526.55 L1105.60 524.90 L1105.83 523.37 L1106.01 521.82 L1106.17 520.24 L1106.33 518.66 L1106.49 517.08 L1106.67 515.53 L1106.90 514.00 L1107.22 512.35 L1107.59 510.73 L1107.99 509.13 L1108.38 507.54 L1108.73 505.93 L1109.00 504.30 L1109.19 502.61 L1109.31 500.91 L1109.39 499.20 L1109.44 497.47 L1109.51 495.74 L1109.60 494.00 L1109.70 492.45 L1109.81 490.88 L1109.91 489.31 L1110.03 487.73 L1110.14 486.15 L1110.27 484.57 L1110.40 483.00 L1110.54 481.44 L1110.70 479.88 L1110.86 478.33 L1111.03 476.77 L1111.19 475.22 L1111.35 473.66 L1111.50 472.10 L1111.63 470.52 L1111.75 468.94 L1111.87 467.35 L1111.98 465.76 L1112.10 464.19 L1112.24 462.63 L1112.40 461.10 L1112.61 459.47 L1112.85 457.87 L1113.11 456.30 L1113.37 454.72 L1113.60 453.13 L1113.80 451.50 L1113.94 449.98 L1114.04 448.43 L1114.12 446.86 L1114.19 445.29 L1114.27 443.71 L1114.37 442.15 L1114.50 440.60 L1114.70 438.87 L1114.94 437.16 L1115.20 435.45 L1115.46 433.75 L1115.70 432.03 L1115.90 430.30 L1116.02 428.74 L1116.09 427.16 L1116.14 425.56 L1116.19 423.97 L1116.26 422.39 L1116.39 420.83 L1116.60 419.30 L1116.95 417.63 L1117.40 415.98 L1117.90 414.34 L1118.42 412.75 L1118.90 411.20 L1119.30 409.70 L1119.68 407.92 L1119.98 406.22 L1120.27 404.58 L1120.60 403.00 L1121.05 401.28 L1121.52 399.64 L1122.00 398.00 L1122.16 399.55 L1122.31 401.10 L1122.47 402.64 L1122.63 404.18 L1122.78 405.73 L1122.94 407.28 L1123.09 408.84 L1123.25 410.41 L1123.40 412.00 L1123.55 413.51 L1123.70 415.01 L1123.85 416.52 L1124.00 418.04 L1124.15 419.56 L1124.30 421.10 L1124.44 422.66 L1124.57 424.24 L1124.69 425.86 L1124.80 427.50 L1124.89 428.99 L1124.96 430.50 L1125.03 432.04 L1125.09 433.61 L1125.14 435.19 L1125.19 436.79 L1125.23 438.40 L1125.28 440.02 L1125.32 441.64 L1125.36 443.26 L1125.40 444.88 L1125.45 446.50 L1125.50 448.10 L1125.55 449.58 L1125.60 451.02 L1125.65 452.42 L1125.69 453.80 L1125.74 455.17 L1125.79 456.55 L1125.84 457.95 L1125.88 459.39 L1125.93 460.86 L1125.98 462.40 L1126.03 464.01 L1126.09 465.70 L1126.14 467.50 L1126.20 469.40 L1126.23 470.48 L1126.26 471.61 L1126.30 472.77 L1126.33 473.96 L1126.37 475.19 L1126.40 476.46 L1126.44 477.75 L1126.47 479.08 L1126.51 480.43 L1126.55 481.82 L1126.58 483.22 L1126.62 484.66 L1126.66 486.11 L1126.70 487.59 L1126.74 489.09 L1126.78 490.61 L1126.82 492.15 L1126.86 493.70 L1126.90 495.27 L1126.94 496.86 L1126.98 498.45 L1127.02 500.06 L1127.06 501.68 L1127.10 503.31 L1127.15 504.94 L1127.19 506.58 L1127.23 508.22 L1127.27 509.87 L1127.32 511.52 L1127.36 513.17 L1127.40 514.82 L1127.44 516.47 L1127.49 518.11 L1127.53 519.75 L1127.58 521.38 L1127.62 523.01 L1127.66 524.63 L1127.71 526.23 L1127.75 527.83 L1127.79 529.41 L1127.84 530.97 L1127.88 532.53 L1127.93 534.06 L1127.97 535.58 L1128.01 537.07 L1128.06 538.55 L1128.10 540.00 L1128.15 541.56 L1128.19 543.11 L1128.24 544.66 L1128.29 546.20 L1128.34 547.74 L1128.39 549.27 L1128.43 550.79 L1128.48 552.32 L1128.53 553.84 L1128.58 555.35 L1128.63 556.86 L1128.68 558.37 L1128.73 559.87 L1128.78 561.37 L1128.83 562.87 L1128.88 564.37 L1128.93 565.86 L1128.98 567.35 L1129.03 568.84 L1129.08 570.32 L1129.13 571.81 L1129.18 573.29 L1129.23 574.77 L1129.28 576.26 L1129.33 577.74 L1129.38 579.22 L1129.43 580.70 L1129.48 582.18 L1129.54 583.66 L1129.59 585.14 L1129.64 586.62 L1129.69 588.10 L1129.74 589.58 L1129.79 591.06 L1129.84 592.55 L1129.89 594.03 L1129.95 595.52 L1130.00 597.01 L1130.05 598.51 L1130.10 600.00 L1130.15 601.53 L1130.21 603.05 L1130.26 604.58 L1130.31 606.10 L1130.36 607.63 L1130.42 609.16 L1130.47 610.68 L1130.52 612.20 L1130.58 613.73 L1130.63 615.25 L1130.68 616.78 L1130.74 618.30 L1130.79 619.82 L1130.85 621.35 L1130.90 622.87 L1130.95 624.39 L1131.01 625.91 L1131.06 627.44 L1131.12 628.96 L1131.17 630.48 L1131.22 632.00 L1131.28 633.52 L1131.33 635.05 L1131.39 636.57 L1131.44 638.09 L1131.50 639.61 L1131.55 641.13 L1131.60 642.65 L1131.66 644.18 L1131.71 645.70 L1131.77 647.22 L1131.82 648.74 L1131.88 650.26 L1131.93 651.79 L1131.98 653.31 L1132.04 654.83 L1132.09 656.35 L1132.15 657.88 L1132.20 659.40" fill="none" stroke="#000" stroke-width="1.45" stroke-dasharray="10 11" stroke-dashoffset="4.53"/>
<path d="M685.20 659.40 L685.27 657.88 L685.34 656.37 L685.41 654.86 L685.48 653.34 L685.54 651.83 L685.61 650.31 L685.68 648.80 L685.75 647.29 L685.82 645.77 L685.88 644.26 L685.95 642.75 L686.02 641.23 L686.09 639.72 L686.16 638.20 L686.23 636.69 L686.29 635.18 L686.36 633.66 L686.43 632.14 L686.50 630.63 L686.57 629.11 L686.64 627.60 L686.71 626.08 L686.78 624.56 L686.86 623.04 L686.93 621.52 L687.00 620.00 L687.07 618.46 L687.15 616.91 L687.22 615.35 L687.30 613.79 L687.37 612.22 L687.45 610.64 L687.53 609.06 L687.60 607.47 L687.68 605.89 L687.76 604.30 L687.84 602.72 L687.92 601.13 L687.99 599.56 L688.07 597.98 L688.15 596.42 L688.23 594.86 L688.31 593.31 L688.38 591.77 L688.46 590.24 L688.54 588.73 L688.62 587.23 L688.69 585.75 L688.77 584.28 L688.85 582.83 L688.92 581.41 L689.00 580.00 L689.09 578.34 L689.18 576.72 L689.27 575.12 L689.37 573.55 L689.46 572.00 L689.55 570.47 L689.64 568.95 L689.73 567.45 L689.83 565.96 L689.92 564.47 L690.01 562.99 L690.09 561.50 L690.18 560.01 L690.27 558.52 L690.35 557.01 L690.44 555.49 L690.52 553.96 L690.60 552.40 L690.67 550.92 L690.74 549.41 L690.81 547.90 L690.87 546.37 L690.94 544.84 L691.00 543.29 L691.06 541.75 L691.12 540.19 L691.18 538.64 L691.24 537.09 L691.29 535.55 L691.35 534.01 L691.42 532.48 L691.48 530.96 L691.54 529.45 L691.61 527.96 L691.68 526.49 L691.75 525.04 L691.82 523.61 L691.90 522.20 L692.00 520.49 L692.09 518.78 L692.19 517.08 L692.29 515.39 L692.39 513.72 L692.49 512.06 L692.60 510.43 L692.71 508.82 L692.82 507.25 L692.94 505.71 L693.07 504.21 L693.21 502.76 L693.35 501.35 L693.50 500.00 L693.74 498.16 L694.00 496.43 L694.27 494.80 L694.55 493.23 L694.84 491.67 L695.12 490.11 L695.40 488.50 L696.75 488.50 L698.10 488.50 L698.50 489.96 L698.91 491.41 L699.32 492.86 L699.72 494.31 L700.12 495.78 L700.52 497.27 L700.90 498.80 L701.25 500.29 L701.59 501.80 L701.92 503.34 L702.24 504.89 L702.57 506.45 L702.90 508.03 L703.24 509.61 L703.60 511.20 L703.95 512.69 L704.30 514.20 L704.66 515.72 L705.03 517.25 L705.41 518.78 L705.79 520.31 L706.18 521.85 L706.59 523.38 L707.00 524.90 L707.43 526.44 L707.87 527.97 L708.32 529.51 L708.78 531.04 L709.25 532.58 L709.73 534.11 L710.21 535.64 L710.70 537.17 L711.20 538.70 L711.71 540.24 L712.23 541.81 L712.76 543.38 L713.29 544.95 L713.84 546.51 L714.38 548.04 L714.92 549.54 L715.46 551.00 L716.00 552.40 L716.66 554.08 L717.30 555.69 L717.94 557.24 L718.60 558.76 L719.28 560.27 L720.00 561.80 L720.78 563.35 L721.60 564.89 L722.44 566.42 L723.30 567.95 L724.16 569.47 L725.00 571.00 L725.82 572.53 L726.61 574.07 L727.41 575.60 L728.22 577.14 L729.08 578.67 L730.00 580.20 L730.78 581.42 L731.59 582.64 L732.43 583.85 L733.30 585.06 L734.19 586.27 L735.10 587.50 L736.04 588.74 L737.00 590.00 L737.87 591.15 L738.74 592.31 L739.62 593.47 L740.51 594.64 L741.42 595.83 L742.38 597.02 L743.38 598.23 L744.45 599.47 L745.58 600.72 L746.80 602.00 L747.72 602.93 L748.68 603.89 L749.68 604.88 L750.73 605.90 L751.81 606.94 L752.93 607.99 L754.07 609.05 L755.24 610.12 L756.44 611.20 L757.66 612.27 L758.89 613.34 L760.14 614.40 L761.41 615.45 L762.68 616.49 L763.95 617.50 L765.23 618.48 L766.51 619.44 L767.78 620.37 L769.04 621.25 L770.30 622.10 L771.63 622.96 L772.97 623.80 L774.32 624.61 L775.68 625.40 L777.06 626.17 L778.44 626.92 L779.84 627.65 L781.23 628.36 L782.64 629.05 L784.05 629.73 L785.47 630.38 L786.88 631.02 L788.30 631.64 L789.72 632.24 L791.15 632.83 L792.57 633.40 L793.98 633.96 L795.40 634.50 L796.92 635.06 L798.44 635.58 L799.96 636.08 L801.48 636.55 L803.01 636.99 L804.53 637.42 L806.06 637.83 L807.59 638.22 L809.13 638.60 L810.67 638.97 L812.21 639.34 L813.76 639.70 L815.31 640.07 L816.87 640.44 L818.43 640.81 L820.00 641.20 L821.44 641.56 L822.88 641.92 L824.33 642.28 L825.77 642.63 L827.22 642.99 L828.67 643.34 L830.12 643.69 L831.58 644.03 L833.04 644.37 L834.51 644.71 L835.98 645.04 L837.46 645.37 L838.94 645.69 L840.44 646.01 L841.94 646.32 L843.45 646.62 L844.97 646.91 L846.50 647.20 L847.99 647.47 L849.48 647.74 L850.99 648.00 L852.51 648.26 L854.04 648.52 L855.57 648.77 L857.11 649.01 L858.66 649.25 L860.21 649.48 L861.77 649.71 L863.33 649.93 L864.89 650.15 L866.46 650.36 L868.02 650.56 L869.59 650.75 L871.16 650.94 L872.72 651.12 L874.28 651.29 L875.84 651.45 L877.40 651.60 L878.96 651.74 L880.52 651.88 L882.08 652.01 L883.64 652.13 L885.20 652.25 L886.77 652.36 L888.33 652.46 L889.90 652.55 L891.46 652.64 L893.03 652.72 L894.60 652.79 L896.16 652.86 L897.73 652.91 L899.30 652.96 L900.87 653.00 L902.43 653.04 L904.00 653.07 L905.57 653.08 L907.13 653.10 L908.70 653.10 L910.27 653.10 L911.83 653.08 L913.40 653.07 L914.97 653.04 L916.53 653.00 L918.10 652.96 L919.67 652.91 L921.24 652.86 L922.80 652.79 L924.37 652.72 L925.94 652.64 L927.50 652.55 L929.07 652.46 L930.63 652.36 L932.20 652.25 L933.76 652.13 L935.32 652.01 L936.88 651.88 L938.44 651.74 L940.00 651.60 L941.56 651.45 L943.12 651.29 L944.68 651.12 L946.24 650.94 L947.81 650.75 L949.38 650.56 L950.94 650.36 L952.51 650.15 L954.07 649.93 L955.63 649.71 L957.19 649.48 L958.74 649.25 L960.29 649.01 L961.83 648.77 L963.36 648.52 L964.89 648.26 L966.41 648.00 L967.92 647.74 L969.41 647.47 L970.90 647.20 L972.43 646.91 L973.95 646.62 L975.46 646.32 L976.96 646.01 L978.46 645.69 L979.94 645.37 L981.42 645.04 L982.89 644.71 L984.36 644.37 L985.82 644.03 L987.28 643.69 L988.73 643.34 L990.18 642.99 L991.63 642.63 L993.07 642.28 L994.52 641.92 L995.96 641.56 L997.40 641.20 L998.97 640.81 L1000.53 640.44 L1002.09 640.07 L1003.64 639.70 L1005.19 639.34 L1006.73 638.97 L1008.27 638.60 L1009.81 638.22 L1011.34 637.83 L1012.87 637.42 L1014.39 636.99 L1015.92 636.55 L1017.44 636.08 L1018.96 635.58 L1020.48 635.06 L1022.00 634.50 L1023.42 633.96 L1024.83 633.40 L1026.25 632.83 L1027.68 632.24 L1029.10 631.64 L1030.52 631.02 L1031.93 630.38 L1033.35 629.73 L1034.76 629.05 L1036.17 628.36 L1037.56 627.65 L1038.96 626.92 L1040.34 626.17 L1041.72 625.40 L1043.08 624.61 L1044.43 623.80 L1045.77 622.96 L1047.10 622.10 L1048.36 621.25 L1049.62 620.37 L1050.89 619.44 L1052.17 618.48 L1053.45 617.50 L1054.72 616.49 L1055.99 615.45 L1057.26 614.40 L1058.51 613.34 L1059.74 612.27 L1060.96 611.20 L1062.16 610.12 L1063.33 609.05 L1064.47 607.99 L1065.59 606.94 L1066.67 605.90 L1067.72 604.88 L1068.72 603.89 L1069.68 602.93 L1070.60 602.00 L1071.82 600.72 L1072.95 599.47 L1074.02 598.23 L1075.02 597.02 L1075.98 595.83 L1076.89 594.64 L1077.78 593.47 L1078.66 592.31 L1079.53 591.15 L1080.40 590.00 L1081.36 588.74 L1082.30 587.50 L1083.21 586.27 L1084.10 585.06 L1084.97 583.85 L1085.81 582.64 L1086.62 581.42 L1087.40 580.20 L1088.32 578.67 L1089.18 577.14 L1089.99 575.60 L1090.79 574.07 L1091.58 572.53 L1092.40 571.00 L1093.24 569.47 L1094.10 567.95 L1094.96 566.42 L1095.80 564.89 L1096.62 563.35 L1097.40 561.80 L1098.12 560.27 L1098.80 558.76 L1099.46 557.24 L1100.10 555.69 L1100.74 554.08 L1101.40 552.40 L1101.94 551.00 L1102.48 549.54 L1103.02 548.04 L1103.56 546.51 L1104.11 544.95 L1104.64 543.38 L1105.17 541.81 L1105.69 540.24 L1106.20 538.70 L1106.70 537.17 L1107.19 535.64 L1107.67 534.11 L1108.15 532.58 L1108.62 531.04 L1109.08 529.51 L1109.53 527.97 L1109.97 526.44 L1110.40 524.90 L1110.81 523.38 L1111.22 521.85 L1111.61 520.31 L1111.99 518.78 L1112.37 517.25 L1112.74 515.72 L1113.10 514.20 L1113.45 512.69 L1113.80 511.20 L1114.16 509.61 L1114.50 508.03 L1114.83 506.45 L1115.16 504.89 L1115.48 503.34 L1115.81 501.80 L1116.15 500.29 L1116.50 498.80 L1116.88 497.27 L1117.28 495.78 L1117.68 494.31 L1118.08 492.86 L1118.49 491.41 L1118.90 489.96 L1119.30 488.50 L1120.65 488.50 L1122.00 488.50 L1122.28 490.11 L1122.56 491.67 L1122.85 493.23 L1123.13 494.80 L1123.40 496.43 L1123.66 498.16 L1123.90 500.00 L1124.05 501.35 L1124.19 502.76 L1124.33 504.21 L1124.46 505.71 L1124.58 507.25 L1124.69 508.82 L1124.80 510.43 L1124.91 512.06 L1125.01 513.72 L1125.11 515.39 L1125.21 517.08 L1125.31 518.78 L1125.40 520.49 L1125.50 522.20 L1125.58 523.61 L1125.65 525.04 L1125.72 526.49 L1125.79 527.96 L1125.86 529.45 L1125.92 530.96 L1125.98 532.48 L1126.05 534.01 L1126.11 535.55 L1126.16 537.09 L1126.22 538.64 L1126.28 540.19 L1126.34 541.75 L1126.40 543.29 L1126.46 544.84 L1126.53 546.37 L1126.59 547.90 L1126.66 549.41 L1126.73 550.92 L1126.80 552.40 L1126.88 553.96 L1126.96 555.49 L1127.05 557.01 L1127.13 558.52 L1127.22 560.01 L1127.31 561.50 L1127.39 562.99 L1127.48 564.47 L1127.57 565.96 L1127.67 567.45 L1127.76 568.95 L1127.85 570.47 L1127.94 572.00 L1128.03 573.55 L1128.13 575.12 L1128.22 576.72 L1128.31 578.34 L1128.40 580.00 L1128.48 581.41 L1128.55 582.83 L1128.63 584.28 L1128.71 585.75 L1128.78 587.23 L1128.86 588.73 L1128.94 590.24 L1129.02 591.77 L1129.09 593.31 L1129.17 594.86 L1129.25 596.42 L1129.33 597.98 L1129.41 599.56 L1129.48 601.13 L1129.56 602.72 L1129.64 604.30 L1129.72 605.89 L1129.80 607.47 L1129.87 609.06 L1129.95 610.64 L1130.03 612.22 L1130.10 613.79 L1130.18 615.35 L1130.25 616.91 L1130.33 618.46 L1130.40 620.00 L1130.47 621.52 L1130.54 623.04 L1130.62 624.56 L1130.69 626.08 L1130.76 627.60 L1130.83 629.11 L1130.90 630.63 L1130.97 632.14 L1131.04 633.66 L1131.11 635.18 L1131.17 636.69 L1131.24 638.20 L1131.31 639.72 L1131.38 641.23 L1131.45 642.75 L1131.52 644.26 L1131.58 645.77 L1131.65 647.29 L1131.72 648.80 L1131.79 650.31 L1131.86 651.83 L1131.92 653.34 L1131.99 654.86 L1132.06 656.37 L1132.13 657.88 L1132.20 659.40" fill="none" stroke="#000" stroke-width="1.45"/>
<path d="M685.20 659.40 L685.28 657.84 L685.36 656.27 L685.44 654.71 L685.52 653.15 L685.61 651.59 L685.69 650.03 L685.77 648.46 L685.85 646.90 L685.93 645.34 L686.01 643.78 L686.09 642.22 L686.17 640.66 L686.25 639.09 L686.33 637.53 L686.41 635.97 L686.50 634.40 L686.58 632.84 L686.66 631.27 L686.75 629.71 L686.83 628.14 L686.91 626.57 L687.00 625.00 L687.08 623.48 L687.17 621.96 L687.25 620.43 L687.34 618.90 L687.43 617.36 L687.52 615.82 L687.61 614.28 L687.70 612.74 L687.79 611.20 L687.88 609.66 L687.97 608.12 L688.06 606.58 L688.15 605.05 L688.24 603.51 L688.33 601.99 L688.41 600.46 L688.50 598.95 L688.59 597.44 L688.67 595.93 L688.76 594.43 L688.84 592.95 L688.92 591.47 L689.00 590.00 L689.08 588.45 L689.16 586.90 L689.24 585.37 L689.32 583.84 L689.40 582.32 L689.48 580.80 L689.55 579.29 L689.63 577.79 L689.70 576.29 L689.77 574.80 L689.85 573.31 L689.92 571.82 L689.99 570.34 L690.06 568.86 L690.14 567.38 L690.21 565.90 L690.28 564.43 L690.35 562.95 L690.43 561.48 L690.50 560.00 L690.58 558.40 L690.65 556.78 L690.72 555.15 L690.78 553.51 L690.85 551.86 L690.91 550.21 L690.97 548.56 L691.03 546.92 L691.10 545.29 L691.17 543.68 L691.24 542.09 L691.31 540.51 L691.39 538.97 L691.48 537.46 L691.57 535.98 L691.67 534.54 L691.78 533.15 L691.90 531.80 L692.06 530.09 L692.23 528.46 L692.40 526.89 L692.57 525.37 L692.76 523.89 L692.96 522.44 L693.18 521.01 L693.43 519.58 L693.70 518.15 L694.00 516.70 L694.37 515.14 L694.77 513.59 L695.22 512.07 L695.68 510.55 L696.17 509.04 L696.66 507.53 L697.15 506.03 L697.63 504.52 L698.10 503.00 L698.61 504.53 L699.13 506.06 L699.64 507.58 L700.16 509.10 L700.67 510.63 L701.18 512.17 L701.69 513.73 L702.20 515.30 L702.67 516.79 L703.15 518.30 L703.62 519.81 L704.09 521.34 L704.56 522.87 L705.02 524.42 L705.49 525.97 L705.95 527.53 L706.40 529.10 L706.82 530.58 L707.23 532.09 L707.64 533.60 L708.05 535.12 L708.46 536.65 L708.86 538.18 L709.26 539.70 L709.67 541.22 L710.08 542.72 L710.50 544.20 L710.95 545.76 L711.41 547.31 L711.87 548.85 L712.34 550.38 L712.80 551.91 L713.26 553.42 L713.72 554.92 L714.16 556.42 L714.60 557.90 L715.05 559.47 L715.50 561.06 L715.94 562.64 L716.38 564.21 L716.81 565.75 L717.22 567.24 L717.62 568.66 L718.00 570.00 L718.49 571.82 L718.92 573.47 L719.38 575.08 L720.00 576.80 L720.57 578.12 L721.22 579.49 L721.94 580.89 L722.70 582.31 L723.48 583.73 L724.25 585.13 L725.00 586.50 L725.82 588.01 L726.64 589.50 L727.47 590.98 L728.31 592.44 L729.15 593.88 L730.00 595.30 L730.82 596.62 L731.64 597.92 L732.48 599.21 L733.31 600.47 L734.15 601.74 L735.00 603.00 L735.97 604.48 L736.91 605.95 L737.87 607.41 L738.92 608.89 L740.10 610.40 L741.02 611.49 L742.01 612.59 L743.06 613.72 L744.15 614.86 L745.29 616.00 L746.45 617.14 L747.63 618.27 L748.82 619.40 L750.00 620.50 L751.12 621.54 L752.25 622.59 L753.40 623.65 L754.57 624.70 L755.75 625.75 L756.95 626.77 L758.16 627.77 L759.39 628.72 L760.64 629.64 L761.90 630.50 L763.29 631.37 L764.71 632.18 L766.17 632.95 L767.64 633.68 L769.12 634.38 L770.60 635.06 L772.08 635.71 L773.55 636.36 L775.00 637.00 L776.51 637.67 L778.00 638.33 L779.49 638.96 L780.97 639.58 L782.46 640.17 L783.95 640.74 L785.47 641.28 L787.00 641.80 L788.58 642.29 L790.17 642.76 L791.77 643.19 L793.39 643.60 L795.01 643.99 L796.66 644.36 L798.32 644.73 L800.00 645.10 L801.45 645.41 L802.92 645.70 L804.41 645.99 L805.91 646.27 L807.42 646.54 L808.94 646.80 L810.46 647.06 L811.98 647.31 L813.49 647.56 L815.00 647.80 L816.50 648.03 L818.00 648.26 L819.50 648.48 L821.00 648.69 L822.50 648.89 L824.00 649.10 L825.50 649.30 L827.00 649.50 L828.50 649.70 L830.00 649.90 L831.49 650.11 L832.97 650.31 L834.44 650.52 L835.91 650.73 L837.38 650.93 L838.87 651.13 L840.36 651.33 L841.88 651.53 L843.43 651.72 L845.00 651.90 L846.51 652.07 L848.04 652.24 L849.59 652.41 L851.16 652.57 L852.75 652.73 L854.35 652.89 L855.96 653.04 L857.58 653.19 L859.21 653.33 L860.84 653.46 L862.47 653.58 L864.10 653.70 L865.67 653.80 L867.25 653.90 L868.83 653.99 L870.42 654.07 L872.01 654.15 L873.60 654.22 L875.21 654.28 L876.82 654.34 L878.44 654.40 L880.07 654.45 L881.70 654.50 L883.35 654.55 L885.00 654.60 L886.54 654.64 L888.08 654.68 L889.64 654.71 L891.21 654.74 L892.79 654.77 L894.37 654.80 L895.96 654.82 L897.55 654.84 L899.15 654.86 L900.74 654.87 L902.34 654.88 L903.94 654.89 L905.53 654.90 L907.12 654.90 L908.70 654.90 L910.28 654.90 L911.87 654.90 L913.46 654.89 L915.06 654.88 L916.66 654.87 L918.25 654.86 L919.85 654.84 L921.44 654.82 L923.03 654.80 L924.61 654.77 L926.19 654.74 L927.76 654.71 L929.32 654.68 L930.86 654.64 L932.40 654.60 L934.05 654.55 L935.70 654.50 L937.33 654.45 L938.96 654.40 L940.58 654.34 L942.19 654.28 L943.80 654.22 L945.39 654.15 L946.98 654.07 L948.57 653.99 L950.15 653.90 L951.73 653.80 L953.30 653.70 L954.93 653.58 L956.56 653.46 L958.19 653.33 L959.82 653.19 L961.44 653.04 L963.05 652.89 L964.65 652.73 L966.24 652.57 L967.81 652.41 L969.36 652.24 L970.89 652.07 L972.40 651.90 L973.97 651.72 L975.52 651.53 L977.04 651.33 L978.53 651.13 L980.02 650.93 L981.49 650.73 L982.96 650.52 L984.43 650.31 L985.91 650.11 L987.40 649.90 L988.90 649.70 L990.40 649.50 L991.90 649.30 L993.40 649.10 L994.90 648.89 L996.40 648.69 L997.90 648.48 L999.40 648.26 L1000.90 648.03 L1002.40 647.80 L1003.91 647.56 L1005.42 647.31 L1006.94 647.06 L1008.46 646.80 L1009.98 646.54 L1011.49 646.27 L1012.99 645.99 L1014.48 645.70 L1015.95 645.41 L1017.40 645.10 L1019.08 644.73 L1020.74 644.36 L1022.39 643.99 L1024.01 643.60 L1025.63 643.19 L1027.23 642.76 L1028.82 642.29 L1030.40 641.80 L1031.93 641.28 L1033.45 640.74 L1034.94 640.17 L1036.43 639.58 L1037.91 638.96 L1039.40 638.33 L1040.89 637.67 L1042.40 637.00 L1043.85 636.36 L1045.32 635.71 L1046.80 635.06 L1048.28 634.38 L1049.76 633.68 L1051.23 632.95 L1052.69 632.18 L1054.11 631.37 L1055.50 630.50 L1056.76 629.64 L1058.01 628.72 L1059.24 627.77 L1060.45 626.77 L1061.65 625.75 L1062.83 624.70 L1064.00 623.65 L1065.15 622.59 L1066.28 621.54 L1067.40 620.50 L1068.58 619.40 L1069.77 618.27 L1070.95 617.14 L1072.11 616.00 L1073.25 614.86 L1074.34 613.72 L1075.39 612.59 L1076.38 611.49 L1077.30 610.40 L1078.48 608.89 L1079.53 607.41 L1080.49 605.95 L1081.43 604.48 L1082.40 603.00 L1083.25 601.74 L1084.09 600.47 L1084.92 599.21 L1085.76 597.92 L1086.58 596.62 L1087.40 595.30 L1088.25 593.88 L1089.09 592.44 L1089.93 590.98 L1090.76 589.50 L1091.58 588.01 L1092.40 586.50 L1093.15 585.13 L1093.92 583.73 L1094.70 582.31 L1095.46 580.89 L1096.18 579.49 L1096.83 578.12 L1097.40 576.80 L1098.02 575.08 L1098.48 573.47 L1098.91 571.82 L1099.40 570.00 L1099.78 568.66 L1100.18 567.24 L1100.59 565.75 L1101.02 564.21 L1101.46 562.64 L1101.90 561.06 L1102.35 559.47 L1102.80 557.90 L1103.24 556.42 L1103.68 554.92 L1104.14 553.42 L1104.60 551.91 L1105.06 550.38 L1105.53 548.85 L1105.99 547.31 L1106.45 545.76 L1106.90 544.20 L1107.32 542.72 L1107.73 541.22 L1108.14 539.70 L1108.54 538.18 L1108.94 536.65 L1109.35 535.12 L1109.76 533.60 L1110.17 532.09 L1110.58 530.58 L1111.00 529.10 L1111.45 527.53 L1111.91 525.97 L1112.38 524.42 L1112.84 522.87 L1113.31 521.34 L1113.78 519.81 L1114.25 518.30 L1114.73 516.79 L1115.20 515.30 L1115.71 513.73 L1116.22 512.17 L1116.73 510.63 L1117.24 509.10 L1117.76 507.58 L1118.27 506.06 L1118.79 504.53 L1119.30 503.00 L1119.77 504.52 L1120.25 506.03 L1120.74 507.53 L1121.23 509.04 L1121.72 510.55 L1122.18 512.07 L1122.63 513.59 L1123.03 515.14 L1123.40 516.70 L1123.70 518.15 L1123.97 519.58 L1124.22 521.01 L1124.44 522.44 L1124.64 523.89 L1124.83 525.37 L1125.00 526.89 L1125.17 528.46 L1125.34 530.09 L1125.50 531.80 L1125.62 533.15 L1125.73 534.54 L1125.83 535.98 L1125.92 537.46 L1126.01 538.97 L1126.09 540.51 L1126.16 542.09 L1126.23 543.68 L1126.30 545.29 L1126.37 546.92 L1126.43 548.56 L1126.49 550.21 L1126.55 551.86 L1126.62 553.51 L1126.68 555.15 L1126.75 556.78 L1126.82 558.40 L1126.90 560.00 L1126.97 561.48 L1127.05 562.95 L1127.12 564.43 L1127.19 565.90 L1127.26 567.38 L1127.34 568.86 L1127.41 570.34 L1127.48 571.82 L1127.55 573.31 L1127.63 574.80 L1127.70 576.29 L1127.77 577.79 L1127.85 579.29 L1127.92 580.80 L1128.00 582.32 L1128.08 583.84 L1128.16 585.37 L1128.24 586.90 L1128.32 588.45 L1128.40 590.00 L1128.48 591.47 L1128.56 592.95 L1128.64 594.43 L1128.73 595.93 L1128.81 597.44 L1128.90 598.95 L1128.99 600.46 L1129.07 601.99 L1129.16 603.51 L1129.25 605.05 L1129.34 606.58 L1129.43 608.12 L1129.52 609.66 L1129.61 611.20 L1129.70 612.74 L1129.79 614.28 L1129.88 615.82 L1129.97 617.36 L1130.06 618.90 L1130.15 620.43 L1130.23 621.96 L1130.32 623.48 L1130.40 625.00 L1130.49 626.57 L1130.57 628.14 L1130.65 629.71 L1130.74 631.27 L1130.82 632.84 L1130.90 634.40 L1130.99 635.97 L1131.07 637.53 L1131.15 639.09 L1131.23 640.66 L1131.31 642.22 L1131.39 643.78 L1131.47 645.34 L1131.55 646.90 L1131.63 648.46 L1131.71 650.03 L1131.79 651.59 L1131.88 653.15 L1131.96 654.71 L1132.04 656.27 L1132.12 657.84 L1132.20 659.40" fill="none" stroke="#000" stroke-width="1.45"/>
<path d="M685.20 659.40 L685.31 657.80 L685.41 656.22 L685.52 654.65 L685.62 653.09 L685.73 651.53 L685.83 649.96 L685.94 648.38 L686.05 646.78 L686.16 645.15 L686.27 643.48 L686.38 641.76 L686.50 640.00 L686.59 638.64 L686.68 637.24 L686.78 635.79 L686.87 634.32 L686.97 632.82 L687.07 631.29 L687.17 629.74 L687.27 628.18 L687.37 626.60 L687.47 625.03 L687.57 623.45 L687.67 621.88 L687.78 620.31 L687.88 618.76 L687.98 617.23 L688.09 615.72 L688.19 614.23 L688.29 612.78 L688.40 611.37 L688.50 610.00 L688.63 608.32 L688.76 606.66 L688.89 605.02 L689.03 603.41 L689.16 601.82 L689.29 600.25 L689.43 598.71 L689.56 597.19 L689.69 595.70 L689.82 594.24 L689.95 592.80 L690.08 591.39 L690.20 590.00 L690.35 588.21 L690.48 586.46 L690.61 584.74 L690.74 583.07 L690.88 581.45 L691.03 579.90 L691.20 578.41 L691.40 577.00 L691.71 575.01 L692.03 573.15 L692.43 571.46 L693.00 570.00 L694.22 568.38 L695.60 567.00 L696.31 568.35 L697.04 569.66 L697.74 571.04 L698.40 572.60 L698.85 573.97 L699.26 575.46 L699.63 577.05 L700.00 578.70 L700.37 580.39 L700.76 582.10 L701.20 583.80 L701.61 585.29 L702.03 586.82 L702.47 588.37 L702.92 589.94 L703.38 591.52 L703.86 593.10 L704.36 594.68 L704.87 596.25 L705.40 597.80 L705.96 599.38 L706.53 600.98 L707.12 602.60 L707.72 604.22 L708.34 605.81 L708.98 607.38 L709.64 608.89 L710.31 610.33 L711.00 611.70 L711.87 613.26 L712.76 614.71 L713.67 616.09 L714.62 617.42 L715.59 618.75 L716.60 620.10 L717.53 621.33 L718.47 622.57 L719.44 623.80 L720.44 625.02 L721.46 626.21 L722.52 627.38 L723.60 628.50 L724.71 629.59 L725.84 630.65 L727.00 631.69 L728.19 632.69 L729.42 633.66 L730.69 634.60 L732.00 635.50 L733.27 636.29 L734.60 637.05 L735.98 637.76 L737.38 638.45 L738.79 639.12 L740.21 639.78 L741.62 640.44 L743.00 641.10 L744.46 641.83 L745.86 642.56 L747.24 643.28 L748.65 643.99 L750.13 644.68 L751.73 645.35 L753.50 646.00 L754.68 646.39 L755.93 646.78 L757.25 647.16 L758.62 647.54 L760.04 647.91 L761.51 648.28 L763.01 648.64 L764.55 649.00 L766.10 649.34 L767.68 649.68 L769.26 650.00 L770.85 650.32 L772.43 650.62 L774.01 650.91 L775.56 651.19 L777.10 651.45 L778.60 651.70 L780.17 651.94 L781.73 652.17 L783.30 652.38 L784.87 652.57 L786.43 652.75 L788.00 652.92 L789.58 653.07 L791.15 653.22 L792.72 653.35 L794.30 653.48 L795.88 653.61 L797.46 653.73 L799.04 653.85 L800.62 653.96 L802.21 654.08 L803.80 654.20 L805.32 654.31 L806.82 654.42 L808.32 654.52 L809.81 654.62 L811.30 654.71 L812.78 654.80 L814.27 654.89 L815.77 654.97 L817.27 655.04 L818.79 655.12 L820.32 655.19 L821.87 655.26 L823.44 655.33 L825.04 655.40 L826.66 655.47 L828.31 655.53 L830.00 655.60 L831.39 655.65 L832.80 655.70 L834.24 655.76 L835.70 655.80 L837.17 655.85 L838.67 655.90 L840.18 655.94 L841.71 655.99 L843.25 656.03 L844.80 656.07 L846.36 656.11 L847.93 656.15 L849.51 656.19 L851.10 656.22 L852.69 656.26 L854.28 656.30 L855.87 656.33 L857.46 656.36 L859.05 656.40 L860.64 656.43 L862.22 656.46 L863.80 656.49 L865.36 656.52 L866.92 656.54 L868.47 656.57 L870.00 656.60 L871.56 656.63 L873.12 656.65 L874.67 656.68 L876.23 656.71 L877.78 656.73 L879.33 656.75 L880.88 656.78 L882.43 656.80 L883.98 656.82 L885.53 656.84 L887.07 656.86 L888.62 656.88 L890.16 656.89 L891.71 656.91 L893.25 656.93 L894.79 656.94 L896.34 656.95 L897.88 656.96 L899.43 656.97 L900.97 656.98 L902.51 656.99 L904.06 656.99 L905.61 657.00 L907.15 657.00 L908.70 657.00 L910.25 657.00 L911.79 657.00 L913.34 656.99 L914.89 656.99 L916.43 656.98 L917.97 656.97 L919.52 656.96 L921.06 656.95 L922.61 656.94 L924.15 656.93 L925.69 656.91 L927.24 656.89 L928.78 656.88 L930.33 656.86 L931.87 656.84 L933.42 656.82 L934.97 656.80 L936.52 656.78 L938.07 656.75 L939.62 656.73 L941.17 656.71 L942.73 656.68 L944.28 656.65 L945.84 656.63 L947.40 656.60 L948.93 656.57 L950.48 656.54 L952.04 656.52 L953.60 656.49 L955.18 656.46 L956.76 656.43 L958.35 656.40 L959.94 656.36 L961.53 656.33 L963.12 656.30 L964.71 656.26 L966.30 656.22 L967.89 656.19 L969.47 656.15 L971.04 656.11 L972.60 656.07 L974.15 656.03 L975.69 655.99 L977.22 655.94 L978.73 655.90 L980.23 655.85 L981.70 655.80 L983.16 655.76 L984.60 655.70 L986.01 655.65 L987.40 655.60 L989.09 655.53 L990.74 655.47 L992.36 655.40 L993.96 655.33 L995.53 655.26 L997.08 655.19 L998.61 655.12 L1000.13 655.04 L1001.63 654.97 L1003.13 654.89 L1004.62 654.80 L1006.10 654.71 L1007.59 654.62 L1009.08 654.52 L1010.58 654.42 L1012.08 654.31 L1013.60 654.20 L1015.19 654.08 L1016.78 653.96 L1018.36 653.85 L1019.94 653.73 L1021.52 653.61 L1023.10 653.48 L1024.68 653.35 L1026.25 653.22 L1027.82 653.07 L1029.40 652.92 L1030.97 652.75 L1032.53 652.57 L1034.10 652.38 L1035.67 652.17 L1037.23 651.94 L1038.80 651.70 L1040.30 651.45 L1041.84 651.19 L1043.39 650.91 L1044.97 650.62 L1046.55 650.32 L1048.14 650.00 L1049.72 649.68 L1051.30 649.34 L1052.85 649.00 L1054.39 648.64 L1055.89 648.28 L1057.36 647.91 L1058.78 647.54 L1060.15 647.16 L1061.47 646.78 L1062.72 646.39 L1063.90 646.00 L1065.67 645.35 L1067.27 644.68 L1068.75 643.99 L1070.16 643.28 L1071.54 642.56 L1072.94 641.83 L1074.40 641.10 L1075.78 640.44 L1077.19 639.78 L1078.61 639.12 L1080.02 638.45 L1081.42 637.76 L1082.80 637.05 L1084.13 636.29 L1085.40 635.50 L1086.71 634.60 L1087.98 633.66 L1089.21 632.69 L1090.40 631.69 L1091.56 630.65 L1092.69 629.59 L1093.80 628.50 L1094.88 627.38 L1095.94 626.21 L1096.96 625.02 L1097.96 623.80 L1098.93 622.57 L1099.87 621.33 L1100.80 620.10 L1101.81 618.75 L1102.78 617.42 L1103.73 616.09 L1104.64 614.71 L1105.53 613.26 L1106.40 611.70 L1107.09 610.33 L1107.76 608.89 L1108.42 607.38 L1109.06 605.81 L1109.68 604.22 L1110.28 602.60 L1110.87 600.98 L1111.44 599.38 L1112.00 597.80 L1112.53 596.25 L1113.04 594.68 L1113.54 593.10 L1114.02 591.52 L1114.48 589.94 L1114.93 588.37 L1115.37 586.82 L1115.79 585.29 L1116.20 583.80 L1116.64 582.10 L1117.03 580.39 L1117.40 578.70 L1117.77 577.05 L1118.14 575.46 L1118.55 573.97 L1119.00 572.60 L1119.66 571.04 L1120.36 569.66 L1121.09 568.35 L1121.80 567.00 L1123.18 568.38 L1124.40 570.00 L1124.97 571.46 L1125.37 573.15 L1125.69 575.01 L1126.00 577.00 L1126.20 578.41 L1126.37 579.90 L1126.52 581.45 L1126.66 583.07 L1126.79 584.74 L1126.92 586.46 L1127.05 588.21 L1127.20 590.00 L1127.32 591.39 L1127.45 592.80 L1127.58 594.24 L1127.71 595.70 L1127.84 597.19 L1127.97 598.71 L1128.11 600.25 L1128.24 601.82 L1128.37 603.41 L1128.51 605.02 L1128.64 606.66 L1128.77 608.32 L1128.90 610.00 L1129.00 611.37 L1129.11 612.78 L1129.21 614.23 L1129.31 615.72 L1129.42 617.23 L1129.52 618.76 L1129.62 620.31 L1129.73 621.88 L1129.83 623.45 L1129.93 625.03 L1130.03 626.60 L1130.13 628.18 L1130.23 629.74 L1130.33 631.29 L1130.43 632.82 L1130.53 634.32 L1130.62 635.79 L1130.72 637.24 L1130.81 638.64 L1130.90 640.00 L1131.02 641.76 L1131.13 643.48 L1131.24 645.15 L1131.35 646.78 L1131.46 648.38 L1131.57 649.96 L1131.67 651.53 L1131.78 653.09 L1131.88 654.65 L1131.99 656.22 L1132.09 657.80 L1132.20 659.40" fill="none" stroke="#000" stroke-width="1.45"/>
<path d="M685.20 659.40 L685.28 657.84 L685.36 656.27 L685.44 654.71 L685.52 653.15 L685.61 651.59 L685.69 650.03 L685.77 648.46 L685.85 646.90 L685.93 645.34 L686.01 643.78 L686.09 642.22 L686.17 640.66 L686.25 639.09 L686.33 637.53 L686.41 635.97 L686.50 634.40 L686.58 632.84 L686.66 631.27 L686.75 629.71 L686.83 628.14 L686.91 626.57 L687.00 625.00 L687.08 623.48 L687.17 621.97 L687.25 620.45 L687.34 618.93 L687.42 617.41 L687.51 615.89 L687.60 614.37 L687.68 612.85 L687.77 611.33 L687.86 609.80 L687.94 608.28 L688.03 606.76 L688.12 605.23 L688.21 603.71 L688.30 602.19 L688.39 600.66 L688.47 599.14 L688.56 597.61 L688.65 596.09 L688.74 594.57 L688.83 593.04 L688.91 591.52 L689.00 590.00 L689.09 588.47 L689.17 586.93 L689.26 585.38 L689.34 583.82 L689.43 582.26 L689.52 580.68 L689.60 579.11 L689.69 577.54 L689.77 575.96 L689.86 574.39 L689.94 572.82 L690.03 571.26 L690.11 569.71 L690.20 568.16 L690.29 566.63 L690.37 565.11 L690.46 563.61 L690.55 562.12 L690.64 560.65 L690.73 559.20 L690.82 557.78 L690.91 556.38 L691.00 555.00 L691.11 553.30 L691.22 551.60 L691.32 549.91 L691.43 548.22 L691.53 546.55 L691.63 544.90 L691.74 543.28 L691.84 541.69 L691.96 540.14 L692.07 538.64 L692.20 537.18 L692.33 535.79 L692.48 534.45 L692.63 533.19 L692.80 532.00 L693.14 530.05 L693.52 528.33 L693.91 526.75 L694.31 525.21 L694.70 523.60 L695.64 524.87 L696.58 526.15 L697.40 527.70 L697.82 528.97 L698.17 530.44 L698.46 532.05 L698.72 533.74 L698.97 535.44 L699.22 537.12 L699.50 538.70 L699.83 540.33 L700.17 541.92 L700.50 543.50 L700.83 545.08 L701.17 546.67 L701.50 548.30 L701.81 549.86 L702.11 551.47 L702.42 553.10 L702.73 554.74 L703.03 556.33 L703.32 557.87 L703.60 559.30 L703.96 561.05 L704.29 562.63 L704.63 564.23 L705.00 566.00 L705.28 567.34 L705.57 568.76 L705.87 570.26 L706.18 571.81 L706.50 573.37 L706.83 574.94 L707.17 576.49 L707.50 578.00 L707.88 579.66 L708.28 581.31 L708.68 582.96 L709.09 584.60 L709.50 586.23 L709.90 587.83 L710.30 589.40 L710.71 591.05 L711.09 592.67 L711.48 594.27 L711.88 595.85 L712.31 597.42 L712.80 599.00 L713.35 600.59 L713.93 602.17 L714.54 603.74 L715.19 605.31 L715.88 606.89 L716.60 608.50 L717.22 609.85 L717.88 611.24 L718.55 612.65 L719.26 614.06 L719.98 615.46 L720.71 616.82 L721.45 618.14 L722.20 619.40 L723.08 620.79 L723.97 622.11 L724.87 623.38 L725.80 624.62 L726.78 625.86 L727.80 627.10 L728.79 628.27 L729.83 629.44 L730.91 630.62 L732.01 631.78 L733.13 632.90 L734.27 633.98 L735.40 635.00 L736.61 636.03 L737.83 637.00 L739.06 637.92 L740.32 638.80 L741.63 639.66 L743.00 640.50 L744.41 641.29 L745.91 642.07 L747.46 642.83 L749.04 643.56 L750.60 644.25 L752.10 644.90 L753.50 645.50 L755.18 646.22 L756.70 646.84 L758.29 647.42 L760.20 648.00 L761.36 648.31 L762.61 648.63 L763.95 648.94 L765.36 649.25 L766.84 649.56 L768.38 649.87 L769.96 650.17 L771.59 650.47 L773.24 650.75 L774.92 651.03 L776.61 651.30 L778.31 651.56 L780.00 651.80 L781.35 651.98 L782.72 652.16 L784.11 652.33 L785.52 652.49 L786.95 652.65 L788.39 652.80 L789.85 652.95 L791.33 653.08 L792.82 653.22 L794.33 653.35 L795.85 653.48 L797.38 653.60 L798.92 653.72 L800.48 653.84 L802.04 653.95 L803.62 654.06 L805.20 654.17 L806.79 654.28 L808.39 654.39 L810.00 654.50 L811.43 654.60 L812.87 654.69 L814.31 654.78 L815.76 654.87 L817.21 654.95 L818.68 655.03 L820.15 655.11 L821.63 655.19 L823.12 655.27 L824.61 655.35 L826.12 655.42 L827.63 655.49 L829.16 655.56 L830.69 655.62 L832.24 655.69 L833.79 655.75 L835.36 655.81 L836.94 655.87 L838.53 655.93 L840.13 655.99 L841.74 656.04 L843.37 656.10 L845.00 656.15 L846.66 656.20 L848.32 656.25 L850.00 656.30 L851.37 656.34 L852.75 656.38 L854.15 656.41 L855.56 656.45 L856.98 656.48 L858.41 656.51 L859.86 656.54 L861.31 656.57 L862.78 656.60 L864.25 656.63 L865.74 656.66 L867.23 656.68 L868.73 656.71 L870.24 656.73 L871.76 656.75 L873.28 656.77 L874.81 656.79 L876.34 656.81 L877.88 656.83 L879.42 656.85 L880.96 656.86 L882.51 656.88 L884.06 656.89 L885.61 656.91 L887.16 656.92 L888.72 656.93 L890.27 656.94 L891.82 656.95 L893.37 656.96 L894.92 656.97 L896.47 656.97 L898.02 656.98 L899.56 656.99 L901.09 656.99 L902.63 656.99 L904.15 657.00 L905.68 657.00 L907.19 657.00 L908.70 657.00 L910.21 657.00 L911.72 657.00 L913.25 657.00 L914.77 656.99 L916.31 656.99 L917.84 656.99 L919.38 656.98 L920.93 656.97 L922.48 656.97 L924.03 656.96 L925.58 656.95 L927.13 656.94 L928.68 656.93 L930.24 656.92 L931.79 656.91 L933.34 656.89 L934.89 656.88 L936.44 656.86 L937.98 656.85 L939.52 656.83 L941.06 656.81 L942.59 656.79 L944.12 656.77 L945.64 656.75 L947.16 656.73 L948.67 656.71 L950.17 656.68 L951.66 656.66 L953.15 656.63 L954.62 656.60 L956.09 656.57 L957.54 656.54 L958.99 656.51 L960.42 656.48 L961.84 656.45 L963.25 656.41 L964.65 656.38 L966.03 656.34 L967.40 656.30 L969.08 656.25 L970.74 656.20 L972.40 656.15 L974.03 656.10 L975.66 656.04 L977.27 655.99 L978.87 655.93 L980.46 655.87 L982.04 655.81 L983.61 655.75 L985.16 655.69 L986.71 655.62 L988.24 655.56 L989.77 655.49 L991.28 655.42 L992.79 655.35 L994.28 655.27 L995.77 655.19 L997.25 655.11 L998.72 655.03 L1000.19 654.95 L1001.64 654.87 L1003.09 654.78 L1004.53 654.69 L1005.97 654.60 L1007.40 654.50 L1009.01 654.39 L1010.61 654.28 L1012.20 654.17 L1013.78 654.06 L1015.36 653.95 L1016.92 653.84 L1018.48 653.72 L1020.02 653.60 L1021.55 653.48 L1023.07 653.35 L1024.58 653.22 L1026.07 653.08 L1027.55 652.95 L1029.01 652.80 L1030.45 652.65 L1031.88 652.49 L1033.29 652.33 L1034.68 652.16 L1036.05 651.98 L1037.40 651.80 L1039.09 651.56 L1040.79 651.30 L1042.48 651.03 L1044.16 650.75 L1045.81 650.47 L1047.44 650.17 L1049.02 649.87 L1050.56 649.56 L1052.04 649.25 L1053.45 648.94 L1054.79 648.63 L1056.04 648.31 L1057.20 648.00 L1059.11 647.42 L1060.70 646.84 L1062.22 646.22 L1063.90 645.50 L1065.30 644.90 L1066.80 644.25 L1068.36 643.56 L1069.94 642.83 L1071.49 642.07 L1072.99 641.29 L1074.40 640.50 L1075.77 639.66 L1077.08 638.80 L1078.34 637.92 L1079.57 637.00 L1080.79 636.03 L1082.00 635.00 L1083.13 633.98 L1084.27 632.90 L1085.39 631.78 L1086.49 630.62 L1087.57 629.44 L1088.61 628.27 L1089.60 627.10 L1090.62 625.86 L1091.60 624.62 L1092.53 623.38 L1093.43 622.11 L1094.32 620.79 L1095.20 619.40 L1095.95 618.14 L1096.69 616.82 L1097.42 615.46 L1098.14 614.06 L1098.85 612.65 L1099.52 611.24 L1100.18 609.85 L1100.80 608.50 L1101.52 606.89 L1102.21 605.31 L1102.86 603.74 L1103.47 602.17 L1104.05 600.59 L1104.60 599.00 L1105.09 597.42 L1105.52 595.85 L1105.92 594.27 L1106.31 592.67 L1106.69 591.05 L1107.10 589.40 L1107.50 587.83 L1107.90 586.23 L1108.31 584.60 L1108.72 582.96 L1109.12 581.31 L1109.52 579.66 L1109.90 578.00 L1110.23 576.49 L1110.57 574.94 L1110.90 573.37 L1111.22 571.81 L1111.53 570.26 L1111.83 568.76 L1112.12 567.34 L1112.40 566.00 L1112.77 564.23 L1113.11 562.63 L1113.44 561.05 L1113.80 559.30 L1114.08 557.87 L1114.37 556.33 L1114.67 554.74 L1114.98 553.10 L1115.29 551.47 L1115.59 549.86 L1115.90 548.30 L1116.23 546.67 L1116.57 545.08 L1116.90 543.50 L1117.23 541.92 L1117.57 540.33 L1117.90 538.70 L1118.18 537.12 L1118.43 535.44 L1118.68 533.74 L1118.94 532.05 L1119.23 530.44 L1119.58 528.97 L1120.00 527.70 L1120.82 526.15 L1121.76 524.87 L1122.70 523.60 L1123.09 525.21 L1123.49 526.75 L1123.88 528.33 L1124.26 530.05 L1124.60 532.00 L1124.77 533.19 L1124.92 534.45 L1125.07 535.79 L1125.20 537.18 L1125.33 538.64 L1125.44 540.14 L1125.56 541.69 L1125.66 543.28 L1125.77 544.90 L1125.87 546.55 L1125.97 548.22 L1126.08 549.91 L1126.18 551.60 L1126.29 553.30 L1126.40 555.00 L1126.49 556.38 L1126.58 557.78 L1126.67 559.20 L1126.76 560.65 L1126.85 562.12 L1126.94 563.61 L1127.03 565.11 L1127.11 566.63 L1127.20 568.16 L1127.29 569.71 L1127.37 571.26 L1127.46 572.82 L1127.54 574.39 L1127.63 575.96 L1127.71 577.54 L1127.80 579.11 L1127.88 580.68 L1127.97 582.26 L1128.06 583.82 L1128.14 585.38 L1128.23 586.93 L1128.31 588.47 L1128.40 590.00 L1128.49 591.52 L1128.57 593.04 L1128.66 594.57 L1128.75 596.09 L1128.84 597.61 L1128.93 599.14 L1129.01 600.66 L1129.10 602.19 L1129.19 603.71 L1129.28 605.23 L1129.37 606.76 L1129.46 608.28 L1129.54 609.80 L1129.63 611.33 L1129.72 612.85 L1129.80 614.37 L1129.89 615.89 L1129.98 617.41 L1130.06 618.93 L1130.15 620.45 L1130.23 621.97 L1130.32 623.48 L1130.40 625.00 L1130.49 626.57 L1130.57 628.14 L1130.65 629.71 L1130.74 631.27 L1130.82 632.84 L1130.90 634.40 L1130.99 635.97 L1131.07 637.53 L1131.15 639.09 L1131.23 640.66 L1131.31 642.22 L1131.39 643.78 L1131.47 645.34 L1131.55 646.90 L1131.63 648.46 L1131.71 650.03 L1131.79 651.59 L1131.88 653.15 L1131.96 654.71 L1132.04 656.27 L1132.12 657.84 L1132.20 659.40" fill="none" stroke="#000" stroke-width="1.45" stroke-dasharray="10 11" stroke-dashoffset="15.61"/>
<path d="M685.20 659.40 L685.65 657.65 L686.10 655.88 L686.55 654.14 L687.00 652.50 L687.49 650.73 L687.98 649.05 L688.50 647.50 L689.20 645.87 L690.00 644.30 L690.74 642.86 L691.58 641.36 L692.50 640.00 L693.96 638.53 L695.50 637.20 L697.31 638.05 L699.00 639.00 L700.27 640.18 L701.50 641.50 L702.59 642.56 L703.75 643.66 L705.10 644.80 L706.36 645.78 L707.75 646.81 L709.24 647.85 L710.83 648.83 L712.50 649.70 L713.95 650.30 L715.51 650.83 L717.14 651.31 L718.80 651.75 L720.46 652.16 L722.07 652.57 L723.60 653.00 L725.33 653.55 L726.97 654.09 L728.59 654.62 L730.24 655.10 L732.00 655.50 L733.56 655.76 L735.20 655.96 L736.89 656.13 L738.60 656.26 L740.29 656.37 L741.94 656.48 L743.50 656.60 L745.17 656.74 L746.68 656.87 L748.19 656.99 L749.85 657.09 L751.80 657.20 L752.92 657.25 L754.09 657.30 L755.29 657.35 L756.55 657.40 L757.85 657.44 L759.20 657.48 L760.61 657.53 L762.06 657.57 L763.58 657.60 L765.15 657.64 L766.78 657.68 L768.47 657.71 L770.22 657.74 L772.04 657.78 L773.92 657.81 L775.88 657.84 L777.90 657.87 L780.00 657.90 L780.98 657.91 L781.98 657.93 L783.01 657.94 L784.06 657.95 L785.14 657.96 L786.24 657.98 L787.36 657.99 L788.51 658.00 L789.68 658.01 L790.87 658.02 L792.08 658.03 L793.31 658.04 L794.57 658.05 L795.84 658.06 L797.13 658.07 L798.44 658.08 L799.77 658.09 L801.12 658.10 L802.48 658.11 L803.87 658.11 L805.26 658.12 L806.68 658.13 L808.11 658.14 L809.56 658.14 L811.02 658.15 L812.49 658.16 L813.98 658.16 L815.49 658.17 L817.00 658.18 L818.53 658.18 L820.07 658.19 L821.63 658.20 L823.19 658.20 L824.76 658.21 L826.35 658.21 L827.94 658.22 L829.55 658.22 L831.16 658.22 L832.78 658.23 L834.41 658.23 L836.05 658.24 L837.70 658.24 L839.35 658.25 L841.00 658.25 L842.67 658.25 L844.34 658.26 L846.01 658.26 L847.69 658.26 L849.37 658.26 L851.05 658.27 L852.74 658.27 L854.43 658.27 L856.13 658.27 L857.82 658.28 L859.52 658.28 L861.21 658.28 L862.91 658.28 L864.61 658.28 L866.30 658.29 L868.00 658.29 L869.69 658.29 L871.38 658.29 L873.07 658.29 L874.76 658.29 L876.44 658.29 L878.12 658.29 L879.80 658.29 L881.47 658.30 L883.13 658.30 L884.79 658.30 L886.45 658.30 L888.09 658.30 L889.73 658.30 L891.36 658.30 L892.99 658.30 L894.61 658.30 L896.21 658.30 L897.81 658.30 L899.40 658.30 L900.98 658.30 L902.55 658.30 L904.10 658.30 L905.65 658.30 L907.18 658.30 L908.70 658.30 L910.22 658.30 L911.75 658.30 L913.30 658.30 L914.85 658.30 L916.42 658.30 L918.00 658.30 L919.59 658.30 L921.19 658.30 L922.79 658.30 L924.41 658.30 L926.04 658.30 L927.67 658.30 L929.31 658.30 L930.95 658.30 L932.61 658.30 L934.27 658.30 L935.93 658.30 L937.60 658.29 L939.28 658.29 L940.96 658.29 L942.64 658.29 L944.33 658.29 L946.02 658.29 L947.71 658.29 L949.40 658.29 L951.10 658.29 L952.79 658.28 L954.49 658.28 L956.19 658.28 L957.88 658.28 L959.58 658.28 L961.27 658.27 L962.97 658.27 L964.66 658.27 L966.35 658.27 L968.03 658.26 L969.71 658.26 L971.39 658.26 L973.06 658.26 L974.73 658.25 L976.40 658.25 L978.05 658.25 L979.70 658.24 L981.35 658.24 L982.99 658.23 L984.62 658.23 L986.24 658.22 L987.85 658.22 L989.46 658.22 L991.05 658.21 L992.64 658.21 L994.21 658.20 L995.77 658.20 L997.33 658.19 L998.87 658.18 L1000.40 658.18 L1001.91 658.17 L1003.42 658.16 L1004.91 658.16 L1006.38 658.15 L1007.84 658.14 L1009.29 658.14 L1010.72 658.13 L1012.14 658.12 L1013.53 658.11 L1014.92 658.11 L1016.28 658.10 L1017.63 658.09 L1018.96 658.08 L1020.27 658.07 L1021.56 658.06 L1022.83 658.05 L1024.09 658.04 L1025.32 658.03 L1026.53 658.02 L1027.72 658.01 L1028.89 658.00 L1030.04 657.99 L1031.16 657.98 L1032.26 657.96 L1033.34 657.95 L1034.39 657.94 L1035.42 657.93 L1036.42 657.91 L1037.40 657.90 L1039.50 657.87 L1041.52 657.84 L1043.48 657.81 L1045.36 657.78 L1047.18 657.74 L1048.93 657.71 L1050.62 657.68 L1052.25 657.64 L1053.82 657.60 L1055.34 657.57 L1056.79 657.53 L1058.20 657.48 L1059.55 657.44 L1060.85 657.40 L1062.11 657.35 L1063.31 657.30 L1064.48 657.25 L1065.60 657.20 L1067.55 657.09 L1069.21 656.99 L1070.72 656.87 L1072.23 656.74 L1073.90 656.60 L1075.46 656.48 L1077.11 656.37 L1078.80 656.26 L1080.51 656.13 L1082.20 655.96 L1083.84 655.76 L1085.40 655.50 L1087.16 655.10 L1088.81 654.62 L1090.43 654.09 L1092.07 653.55 L1093.80 653.00 L1095.33 652.57 L1096.94 652.16 L1098.60 651.75 L1100.26 651.31 L1101.89 650.83 L1103.45 650.30 L1104.90 649.70 L1106.57 648.83 L1108.16 647.85 L1109.65 646.81 L1111.04 645.78 L1112.30 644.80 L1113.65 643.66 L1114.81 642.56 L1115.90 641.50 L1117.13 640.18 L1118.40 639.00 L1120.09 638.05 L1121.90 637.20 L1123.44 638.53 L1124.90 640.00 L1125.82 641.36 L1126.66 642.86 L1127.40 644.30 L1128.20 645.87 L1128.90 647.50 L1129.42 649.05 L1129.91 650.73 L1130.40 652.50 L1130.85 654.14 L1131.30 655.88 L1131.75 657.65 L1132.20 659.40" fill="none" stroke="#000" stroke-width="1.45" stroke-dasharray="10 11" stroke-dashoffset="4.66"/>
<path d="M129.40 136.70L185.51 212.30M182.12 201.93L185.51 212.30L176.57 206.06" fill="none" stroke="#000" stroke-width="1.45" stroke-linejoin="miter" stroke-miterlimit="10"/>
<path d="M708.40 129.80L784.27 225.23M780.54 214.98L784.27 225.23L775.13 219.29" fill="none" stroke="#000" stroke-width="1.45" stroke-linejoin="miter" stroke-miterlimit="10"/>
<path d="M114.40 656.90L172.65 572.73M163.92 579.27L172.65 572.73L169.61 583.20" fill="none" stroke="#000" stroke-width="1.45" stroke-linejoin="miter" stroke-miterlimit="10"/>
<path d="M699.30 650.60L771.86 575.28M762.20 580.33L771.86 575.28L767.18 585.12" fill="none" stroke="#000" stroke-width="1.45" stroke-linejoin="miter" stroke-miterlimit="10"/>

</svg>
</body></html>
